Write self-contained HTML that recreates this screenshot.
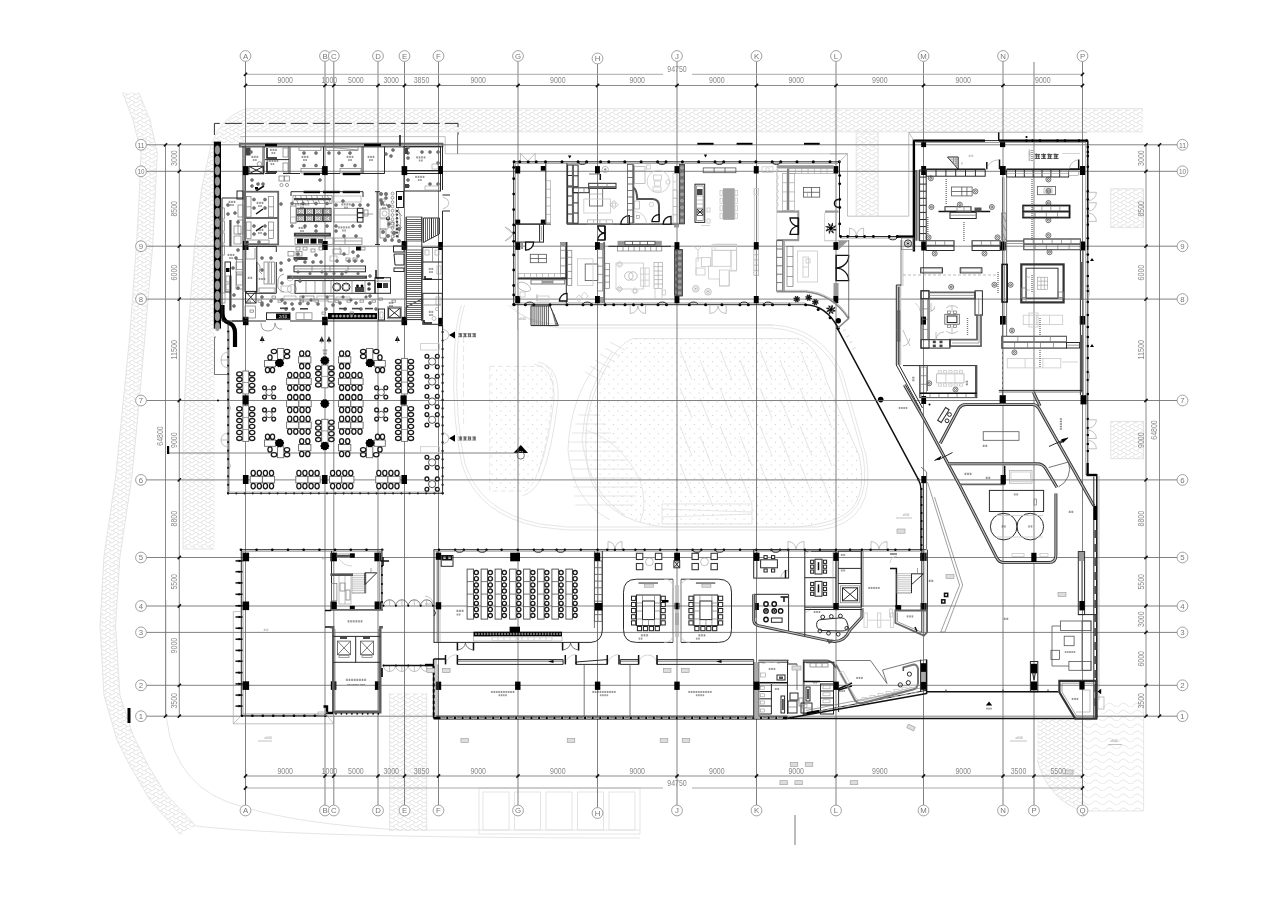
<!DOCTYPE html>
<html><head><meta charset="utf-8"><title>Floor plan</title><style>
html,body{margin:0;padding:0;background:#fff}
body{width:1280px;height:904px;overflow:hidden;font-family:"Liberation Sans",sans-serif}
svg{display:block;filter:blur(.6px)}
path,rect,circle,ellipse{fill:none;stroke-linecap:butt}
.g{stroke:#6c6c6c;stroke-width:.85}
.dl{stroke:#a0a0a0;stroke-width:.9}
.d{stroke:#6e6e6e;stroke-width:.8}
.w{stroke:#2a2a2a;stroke-width:1}
.w2{stroke:#111;stroke-width:1.5}
.w3{stroke:#000;stroke-width:2.4}
.m{stroke:#555;stroke-width:.8}
.f{stroke:#777;stroke-width:.7}
.fl{stroke:#999;stroke-width:.6}
.lt{stroke:#c9c9c9;stroke-width:.8}
.vl{stroke:#dedede;stroke-width:.8}
.k{fill:#000;stroke:none}
.kg{fill:#444;stroke:none}
.gf{fill:#999;stroke:none}
.wf{fill:#fff;stroke:#444;stroke-width:.8}
.bub{fill:#fff;stroke:#8a8a8a;stroke-width:.8}
text{font-family:"Liberation Sans",sans-serif}
.t{fill:#8a8a8a}
.tb{fill:#777}
.tk{fill:#222}
.tw{fill:#fff}
.st{stroke:#6a6a6a;stroke-width:1}
.kgc{fill:#444;stroke:none}
.gfl2{fill:#c4c4c4;stroke:none}
.wlg{stroke:#8a8a8a;stroke-width:1.6}
.wlg2{stroke:#777;stroke-width:2}
.rt{fill:#fff;stroke:#444;stroke-width:.9}
.rts{stroke:#555;stroke-width:.8}
.tbd{fill:#fff;stroke:#484848;stroke-width:.9}
.wl4{stroke:#5c5c5c;stroke-width:2.4}
.st2{stroke:#222;stroke-width:.7}
.sq{fill:#fff;stroke:#222;stroke-width:1}
.wgr{fill:#fff;stroke:#3a3a3a;stroke-width:1.1}
.ring{fill:#fff;stroke:#111;stroke-width:1.4}
.hz{fill:#ddd;stroke:#999;stroke-width:.6}

.fx2{stroke:#333;stroke-width:.7}
.kgt{fill:#555;stroke:none}
.dsh2{stroke:#777;stroke-width:1.4;stroke-dasharray:1 1}
.dshl{stroke:#aaa;stroke-width:.8;stroke-dasharray:3 2}
.dwall{stroke:#333;stroke-width:3}
.dwalli{stroke:#bbb;stroke-width:1.2}
.none{stroke:none}

.dr{stroke:#111;stroke-width:1.3;fill:#fff}
.dkc{fill:#707070;stroke:#333;stroke-width:.8}
.wl2{stroke:#555;stroke-width:2}
.wl3{stroke:#333;stroke-width:2.2}
.tgray{fill:#a4a4a4;stroke:#999;stroke-width:.6}
.gfd{fill:#777;stroke:none}
.gfl{fill:#aaa;stroke:none}

.fxo{fill:#777;stroke:#555;stroke-width:.5}
.ch{fill:#fff;stroke:#1a1a1a;stroke-width:1.3}
.tbx{fill:#fff;stroke:#6a6a6a;stroke-width:.9}
.tbl{stroke:#777;stroke-width:.7}
.ov{fill:#999;stroke:#bbb;stroke-width:.5}
.pipe{stroke:#000;stroke-width:4.2;stroke-linecap:butt}
.dash{stroke:#333;stroke-width:1;stroke-dasharray:17 5}
.wl{stroke:#666;stroke-width:1.8}

</style></head>
<body><svg width="1280" height="904" viewBox="0 0 1280 904">
<defs>
<pattern id="hb" width="8" height="8" patternUnits="userSpaceOnUse"><path d="M0 3L4 0L8 3M0 7L4 4L8 7M2 1.5V4M6 5.5V8" stroke="#e4e4e4" stroke-width="1" fill="none"/></pattern>
<pattern id="hb2" width="8" height="8" patternUnits="userSpaceOnUse"><path d="M0 4L4 0M4 8L8 4M0 4L4 8M4 0L8 4" stroke="#ececec" stroke-width="1.1" fill="none"/></pattern>
<pattern id="wv" width="14" height="7" patternUnits="userSpaceOnUse"><path d="M0 5Q3.5 1 7 5T14 5" stroke="#e6e6e6" stroke-width="1" fill="none"/></pattern>
<pattern id="dots" width="9" height="9" patternUnits="userSpaceOnUse"><rect x="1" y="1" width="1.1" height="1.1" style="fill:#d2d2d2"/><rect x="5.5" y="5.5" width="1.1" height="1.1" style="fill:#d2d2d2"/></pattern>
</defs>
<path d="M213 143Q222 118 247 109H1143V131.5H246V143Z" style="fill:url(#hb);stroke:none"/>
<path class="vl" d="M212 143Q221 117 246 108.5H1143"/>
<path class="vl" d="M246.0 131.8L1143.0 131.8"/>
<path d="M856.2 129H878.1V216H856.2Z" style="fill:url(#hb);stroke:none"/>
<path class="vl" d="M856.2 132.0L856.2 216.0"/>
<path class="vl" d="M878.1 132.0L878.1 216.0"/>
<path d="M1110.8 188.8H1143.5V227.7H1110.8Z" style="fill:url(#hb);stroke:none"/>
<path d="M1110.8 421.3H1143.5V458.8H1110.8Z" style="fill:url(#hb);stroke:none"/>
<rect class="vl" x="1110.8" y="188.8" width="32.7" height="38.9"/>
<rect class="vl" x="1110.8" y="421.3" width="32.7" height="37.5"/>
<path d="M122.5 92.5L133 120L141 152.9L139 200L136.4 245.7L129.5 338.6L120.2 431.4L115.5 477.8L104 556L100 625.8L104 695.5L117 740L129.5 765L150 800L180.6 834.8L196 826L165 793L148 765L133 735L120 695.5L115.5 625.8L120 556L131.8 477.8L136.4 431.4L144.8 338.6L152.7 245.7L155 200L157.3 152.9L150 120L138.7 92.5Z" style="fill:url(#hb);stroke:none"/>
<path class="vl" d="M122.5 92.5L133.0 120.0L141.0 152.9L139.0 200.0L136.4 245.7L129.5 338.6L120.2 431.4L115.5 477.8L104.0 556.0L100.0 625.8L104.0 695.5L117.0 740.0L129.5 765.0L150.0 800.0L180.6 834.8"/>
<path class="vl" d="M138.7 92.5L150.0 120.0L157.3 152.9L155.0 200.0L152.7 245.7L144.8 338.6L136.4 431.4L131.8 477.8L120.0 556.0L115.5 625.8L120.0 695.5L133.0 735.0L148.0 765.0L165.0 793.0L196.0 826.0"/>
<path d="M214.5 143.6L210.7 150L201.4 190L194.5 245.7L187.5 338.6L183 431.4V549H214.5Z" style="fill:url(#hb);stroke:none"/>
<path class="vl" d="M210.7 146.0L201.4 190.0L194.5 245.7L187.5 338.6L183.0 431.4L183.0 549.0L214.5 549.0"/>
<path d="M389.6 693H426.7V831H389.6Z" style="fill:url(#hb);stroke:none"/>
<path class="vl" d="M389.6 693.0L389.6 831.0"/>
<path class="vl" d="M426.7 693.0L426.7 831.0"/>
<path d="M1037.3 719H1083V811Q1048 800 1037.3 760Z" style="fill:url(#hb);stroke:none"/>
<path d="M1083 719H1101V701.6H1143.6V811H1083Z" style="fill:url(#wv);stroke:none"/>
<path class="vl" d="M1037.3 760Q1048 800 1083 811H1143.6"/>
<path class="vl" d="M1143.6 701.6L1143.6 811.0"/>
<path class="fl" d="M240.0 136.6L445.2 136.6L445.2 153.8L514.0 153.8"/>
<path class="m" d="M457.6 135.0L457.6 153.8"/>
<path class="fl" d="M830.0 153.8L847.5 153.8"/>
<path class="vl" d="M166.6 718.7Q175 790 243.3 807Q300 824 400 830H640"/>
<path class="vl" d="M166.6 600V718.7"/>
<path class="vl" d="M196 826Q300 838 640 838"/>
<rect class="vl" x="483.0" y="792.0" width="26.0" height="38.0"/>
<rect class="vl" x="514.5" y="792.0" width="26.0" height="38.0"/>
<rect class="vl" x="546.0" y="792.0" width="26.0" height="38.0"/>
<rect class="vl" x="577.5" y="792.0" width="26.0" height="38.0"/>
<rect class="vl" x="609.0" y="792.0" width="26.0" height="38.0"/>
<rect class="vl" x="479.0" y="788.0" width="161.0" height="46.0"/>
<path class="m" d="M795.0 815.0L795.0 845.0"/>
<path class="vl" d="M461.5 305Q455 325 454 360Q452 420 462 465.0Q478 515 540 527L566.7 530H820.6Q878.0 522 866 455L842 372.0Q820 328 773.8 325H559.0Q525 322 508 305"/>
<path class="vl" d="M464.5 305Q458 325 457 360Q455 420 465 464.1Q481 512 540 524L566.7 527H817.6Q874.4 519 863 455L839 373.2Q817 331 772.0 328H559.9Q528 325 511 305"/>
<path class="vl" d="M463.6 337V427.6" style="stroke-dasharray:6 3"/>
<path d="M633 338.6H798Q818 345 826 380L859 455Q870 505 837 518.5Q815 527 790 527H664Q600 520 588 470Q580 420 600 380Q615 345 633 338.6Z" style="fill:url(#dots);stroke:#dcdcdc;stroke-width:.8"/>
<path d="M489.8 366.4H546Q556 372 552 400Q548 440 540 465Q535 485 525 491H489.8Z" style="fill:url(#dots);stroke:#e0e0e0;stroke-width:.8;stroke-dasharray:5 3"/>
<path class="vl" d="M538 362Q560 366 558 400Q552 450 542 475Q536 492 522 496"/>
<path class="vl" d="M534 364Q555 368 554 400Q548 448 538 473"/>
<path class="vl" d="M578.6 415.0L600.0 415.0"/>
<path class="vl" d="M575.2 424.0L605.5 424.0"/>
<path class="vl" d="M571.8 433.0L611.0 433.0"/>
<path class="vl" d="M568.4 442.0L616.5 442.0"/>
<path class="vl" d="M569.4 451.0L622.0 451.0"/>
<path class="vl" d="M570.4 460.0L627.5 460.0"/>
<path class="vl" d="M571.4 469.0L633.0 469.0"/>
<path class="vl" d="M572.4 478.0L640.0 478.0"/>
<path class="vl" d="M573.4 487.0L638.0 487.0"/>
<path class="vl" d="M574.4 496.0L636.0 496.0"/>
<path class="vl" d="M575.4 505.0L634.0 505.0"/>
<path class="vl" d="M596 365Q570 400 568 450Q572 500 610 520"/>
<path class="vl" d="M612 352Q585 390 582 440Q590 495 625 515"/>
<path class="vl" d="M585 430Q620 440 640 480Q648 505 640 522"/>
<path class="vl" d="M585.0 372.0L600.0 380.0"/>
<path class="vl" d="M590.0 366.0L605.0 374.0"/>
<path class="vl" d="M595.0 360.0L610.0 368.0"/>
<path class="vl" d="M600.0 354.0L615.0 362.0"/>
<path class="vl" d="M605.0 348.0L620.0 356.0"/>
<path class="vl" d="M610.0 342.0L625.0 350.0"/>
<path class="vl" d="M680.0 350.0L692.0 380.0"/>
<path class="vl" d="M680.0 388.0L692.0 418.0"/>
<path class="vl" d="M680.0 426.0L692.0 456.0"/>
<path class="vl" d="M680.0 464.0L692.0 494.0"/>
<path class="vl" d="M700.0 360.0L712.0 390.0"/>
<path class="vl" d="M700.0 398.0L712.0 428.0"/>
<path class="vl" d="M700.0 436.0L712.0 466.0"/>
<path class="vl" d="M700.0 474.0L712.0 504.0"/>
<path class="vl" d="M720.0 350.0L732.0 380.0"/>
<path class="vl" d="M720.0 388.0L732.0 418.0"/>
<path class="vl" d="M720.0 426.0L732.0 456.0"/>
<path class="vl" d="M720.0 464.0L732.0 494.0"/>
<path class="vl" d="M740.0 360.0L752.0 390.0"/>
<path class="vl" d="M740.0 398.0L752.0 428.0"/>
<path class="vl" d="M740.0 436.0L752.0 466.0"/>
<path class="vl" d="M740.0 474.0L752.0 504.0"/>
<path class="vl" d="M760.0 350.0L772.0 380.0"/>
<path class="vl" d="M760.0 388.0L772.0 418.0"/>
<path class="vl" d="M760.0 426.0L772.0 456.0"/>
<path class="vl" d="M760.0 464.0L772.0 494.0"/>
<path class="vl" d="M780.0 360.0L792.0 390.0"/>
<path class="vl" d="M780.0 398.0L792.0 428.0"/>
<path class="vl" d="M780.0 436.0L792.0 466.0"/>
<path class="vl" d="M780.0 474.0L792.0 504.0"/>
<path class="vl" d="M800.0 350.0L812.0 380.0"/>
<path class="vl" d="M800.0 388.0L812.0 418.0"/>
<path class="vl" d="M800.0 426.0L812.0 456.0"/>
<path class="vl" d="M800.0 464.0L812.0 494.0"/>
<path class="vl" d="M820.0 398.0L832.0 428.0"/>
<path class="vl" d="M820.0 436.0L832.0 466.0"/>
<path class="vl" d="M820.0 474.0L832.0 504.0"/>
<rect class="vl" x="662.0" y="504.0" width="90.0" height="20.0"/>
<path class="vl" d="M662.0 509.0L752.0 512.0"/>
<path class="vl" d="M662.0 517.0L752.0 514.0"/>
<path class="vl" d="M559.0 325.0L773.0 325.0"/>
<path class="k" d="M513.5 453L520.8 445L528 453Z"/>
<circle class="m" cx="520.8" cy="455.5" r="3.6"/>
<text class="tw" x="520.8" y="451.5" font-size="2.4" text-anchor="middle">±0.0</text>
<path class="g" d="M446.0 453.0L517.0 453.0"/>
<path class="w2" d="M837 327.7L918.6 479.8Q921 484 921 490V549"/>
<circle class="k" cx="880.7" cy="399.6" r="2.8"/>
<circle class="k" cx="837.5" cy="328.0" r="1.4"/>
<circle class="k" cx="918.3" cy="479.5" r="1.2"/>
<path class="lt" d="M843.0 331.0l3 -1.5"/>
<path class="lt" d="M846.2 337.0l3 -1.5"/>
<path class="lt" d="M849.4 343.0l3 -1.5"/>
<path class="lt" d="M852.6 349.0l3 -1.5"/>
<path d="M898.58 407.50h1.93M898.58 408.47h1.93M899.55 407.02v1.93M900.88 407.50h1.93M900.88 408.47h1.93M901.85 407.02v1.93M903.18 407.50h1.93M903.18 408.47h1.93M904.15 407.02v1.93M905.48 407.50h1.93M905.48 408.47h1.93M906.45 407.02v1.93" style="stroke:#444;stroke-width:0.35;fill:none"/>
<text class="t" x="1114.0" y="742.0" font-size="3" text-anchor="middle">±0.00</text>
<path class="fl" d="M1108.0 744.5L1122.0 744.5"/>
<text class="t" x="1019.0" y="738.5" font-size="3" text-anchor="middle">±0.00</text>
<path class="fl" d="M1010.0 741.0L1027.0 741.0"/>
<text class="t" x="906.0" y="516.0" font-size="2.6" text-anchor="middle">±0.00</text>
<path class="fl" d="M896.0 518.0L912.0 518.0"/>
<rect class="hz" x="897.0" y="529.0" width="8.0" height="4.2"/>
<rect class="none" x="888.0" y="600.0" width="0.0" height="0.0"/>
<path class="g" d="M245.5 61.4L245.5 805.1"/>
<path class="g" d="M325.0 61.4L325.0 805.1"/>
<path class="g" d="M333.8 61.4L333.8 805.1"/>
<path class="g" d="M378.0 61.4L378.0 805.1"/>
<path class="g" d="M404.5 61.4L404.5 805.1"/>
<path class="g" d="M438.5 61.4L438.5 805.1"/>
<path class="g" d="M518.0 61.4L518.0 805.1"/>
<path class="g" d="M597.5 63.9L597.5 807.6"/>
<path class="g" d="M677.0 61.4L677.0 805.1"/>
<path class="g" d="M756.5 61.4L756.5 805.1"/>
<path class="g" d="M836.0 61.4L836.0 805.1"/>
<path class="g" d="M923.5 61.4L923.5 805.1"/>
<path class="g" d="M1003.0 61.4L1003.0 805.1"/>
<path class="g" d="M1082.5 61.4L1082.5 805.1"/>
<path class="g" d="M1034.0 62.0L1034.0 805.1"/>
<path class="g" d="M146.4 144.8L1177.1 144.8"/>
<path class="g" d="M146.4 171.3L1177.1 171.3"/>
<path class="g" d="M146.4 246.2L1177.1 246.2"/>
<path class="g" d="M146.4 299.1L1177.1 299.1"/>
<path class="g" d="M146.4 400.5L1177.1 400.5"/>
<path class="g" d="M146.4 479.9L1177.1 479.9"/>
<path class="g" d="M146.4 557.5L1177.1 557.5"/>
<path class="g" d="M146.4 606.0L1177.1 606.0"/>
<path class="g" d="M146.4 632.4L1177.1 632.4"/>
<path class="g" d="M146.4 685.3L1177.1 685.3"/>
<path class="g" d="M146.4 716.2L1177.1 716.2"/>
<path class="g" d="M168.0 453.0L446.0 453.0"/>
<rect class="k" x="167.0" y="446.0" width="2.2" height="8.0"/>
<rect class="k" x="127.5" y="708.0" width="3.0" height="15.0"/>
<path class="dl" d="M245.5 74.3L663.0 74.3"/>
<path class="dl" d="M692.0 74.3L1082.5 74.3"/>
<path class="d" d="M245.5 85.5L1082.5 85.5"/>
<path class="d" d="M245.5 776.0L1082.5 776.0"/>
<path class="dl" d="M245.5 788.0L663.0 788.0"/>
<path class="dl" d="M692.0 788.0L1082.5 788.0"/>
<path class="w2" d="M243.9 87.1L247.1 83.9"/>
<path class="w2" d="M323.4 87.1L326.6 83.9"/>
<path class="w2" d="M332.2 87.1L335.4 83.9"/>
<path class="w2" d="M376.4 87.1L379.6 83.9"/>
<path class="w2" d="M402.9 87.1L406.1 83.9"/>
<path class="w2" d="M436.9 87.1L440.1 83.9"/>
<path class="w2" d="M516.4 87.1L519.6 83.9"/>
<path class="w2" d="M595.9 87.1L599.1 83.9"/>
<path class="w2" d="M675.4 87.1L678.6 83.9"/>
<path class="w2" d="M754.9 87.1L758.1 83.9"/>
<path class="w2" d="M834.4 87.1L837.6 83.9"/>
<path class="w2" d="M921.9 87.1L925.1 83.9"/>
<path class="w2" d="M1001.4 87.1L1004.6 83.9"/>
<path class="w2" d="M1080.9 87.1L1084.1 83.9"/>
<path class="w2" d="M243.9 75.9L247.1 72.7"/>
<path class="w2" d="M1080.9 75.9L1084.1 72.7"/>
<path class="w2" d="M243.9 777.6L247.1 774.4"/>
<path class="w2" d="M323.4 777.6L326.6 774.4"/>
<path class="w2" d="M332.2 777.6L335.4 774.4"/>
<path class="w2" d="M376.4 777.6L379.6 774.4"/>
<path class="w2" d="M402.9 777.6L406.1 774.4"/>
<path class="w2" d="M436.9 777.6L440.1 774.4"/>
<path class="w2" d="M516.4 777.6L519.6 774.4"/>
<path class="w2" d="M595.9 777.6L599.1 774.4"/>
<path class="w2" d="M675.4 777.6L678.6 774.4"/>
<path class="w2" d="M754.9 777.6L758.1 774.4"/>
<path class="w2" d="M834.4 777.6L837.6 774.4"/>
<path class="w2" d="M921.9 777.6L925.1 774.4"/>
<path class="w2" d="M1001.4 777.6L1004.6 774.4"/>
<path class="w2" d="M1032.4 777.6L1035.6 774.4"/>
<path class="w2" d="M1080.9 777.6L1084.1 774.4"/>
<path class="w2" d="M243.9 789.6L247.1 786.4"/>
<path class="w2" d="M1080.9 789.6L1084.1 786.4"/>
<text class="t" x="285.2" y="83.2" font-size="8.6" text-anchor="middle" textLength="15.6" lengthAdjust="spacingAndGlyphs">9000</text>
<text class="t" x="329.4" y="83.2" font-size="8.6" text-anchor="middle" textLength="15.6" lengthAdjust="spacingAndGlyphs">1000</text>
<text class="t" x="355.9" y="83.2" font-size="8.6" text-anchor="middle" textLength="15.6" lengthAdjust="spacingAndGlyphs">5000</text>
<text class="t" x="391.2" y="83.2" font-size="8.6" text-anchor="middle" textLength="15.6" lengthAdjust="spacingAndGlyphs">3000</text>
<text class="t" x="421.5" y="83.2" font-size="8.6" text-anchor="middle" textLength="15.6" lengthAdjust="spacingAndGlyphs">3850</text>
<text class="t" x="478.2" y="83.2" font-size="8.6" text-anchor="middle" textLength="15.6" lengthAdjust="spacingAndGlyphs">9000</text>
<text class="t" x="557.8" y="83.2" font-size="8.6" text-anchor="middle" textLength="15.6" lengthAdjust="spacingAndGlyphs">9000</text>
<text class="t" x="637.2" y="83.2" font-size="8.6" text-anchor="middle" textLength="15.6" lengthAdjust="spacingAndGlyphs">9000</text>
<text class="t" x="716.8" y="83.2" font-size="8.6" text-anchor="middle" textLength="15.6" lengthAdjust="spacingAndGlyphs">9000</text>
<text class="t" x="796.2" y="83.2" font-size="8.6" text-anchor="middle" textLength="15.6" lengthAdjust="spacingAndGlyphs">9000</text>
<text class="t" x="879.8" y="83.2" font-size="8.6" text-anchor="middle" textLength="15.6" lengthAdjust="spacingAndGlyphs">9900</text>
<text class="t" x="963.2" y="83.2" font-size="8.6" text-anchor="middle" textLength="15.6" lengthAdjust="spacingAndGlyphs">9000</text>
<text class="t" x="1042.8" y="83.2" font-size="8.6" text-anchor="middle" textLength="15.6" lengthAdjust="spacingAndGlyphs">9000</text>
<text class="t" x="285.2" y="773.8" font-size="8.6" text-anchor="middle" textLength="15.6" lengthAdjust="spacingAndGlyphs">9000</text>
<text class="t" x="329.4" y="773.8" font-size="8.6" text-anchor="middle" textLength="15.6" lengthAdjust="spacingAndGlyphs">1000</text>
<text class="t" x="355.9" y="773.8" font-size="8.6" text-anchor="middle" textLength="15.6" lengthAdjust="spacingAndGlyphs">5000</text>
<text class="t" x="391.2" y="773.8" font-size="8.6" text-anchor="middle" textLength="15.6" lengthAdjust="spacingAndGlyphs">3000</text>
<text class="t" x="421.5" y="773.8" font-size="8.6" text-anchor="middle" textLength="15.6" lengthAdjust="spacingAndGlyphs">3850</text>
<text class="t" x="478.2" y="773.8" font-size="8.6" text-anchor="middle" textLength="15.6" lengthAdjust="spacingAndGlyphs">9000</text>
<text class="t" x="557.8" y="773.8" font-size="8.6" text-anchor="middle" textLength="15.6" lengthAdjust="spacingAndGlyphs">9000</text>
<text class="t" x="637.2" y="773.8" font-size="8.6" text-anchor="middle" textLength="15.6" lengthAdjust="spacingAndGlyphs">9000</text>
<text class="t" x="716.8" y="773.8" font-size="8.6" text-anchor="middle" textLength="15.6" lengthAdjust="spacingAndGlyphs">9000</text>
<text class="t" x="796.2" y="773.8" font-size="8.6" text-anchor="middle" textLength="15.6" lengthAdjust="spacingAndGlyphs">9000</text>
<text class="t" x="879.8" y="773.8" font-size="8.6" text-anchor="middle" textLength="15.6" lengthAdjust="spacingAndGlyphs">9900</text>
<text class="t" x="963.2" y="773.8" font-size="8.6" text-anchor="middle" textLength="15.6" lengthAdjust="spacingAndGlyphs">9000</text>
<text class="t" x="1018.5" y="773.8" font-size="8.6" text-anchor="middle" textLength="15.6" lengthAdjust="spacingAndGlyphs">3500</text>
<text class="t" x="1058.2" y="773.8" font-size="8.6" text-anchor="middle" textLength="15.6" lengthAdjust="spacingAndGlyphs">5500</text>
<text class="t" x="677.0" y="72.0" font-size="8.6" text-anchor="middle" textLength="19.5" lengthAdjust="spacingAndGlyphs">94750</text>
<text class="t" x="677.0" y="785.8" font-size="8.6" text-anchor="middle" textLength="19.5" lengthAdjust="spacingAndGlyphs">94750</text>
<path class="d" d="M179.3 144.8L179.3 716.2"/>
<path class="d" d="M165.5 144.8L165.5 716.2"/>
<path class="d" d="M1146.0 144.8L1146.0 716.2"/>
<path class="d" d="M1159.5 144.8L1159.5 716.2"/>
<path class="w2" d="M177.7 146.4L180.9 143.2"/>
<path class="w2" d="M177.7 172.9L180.9 169.7"/>
<path class="w2" d="M177.7 247.8L180.9 244.6"/>
<path class="w2" d="M177.7 300.7L180.9 297.5"/>
<path class="w2" d="M177.7 402.1L180.9 398.9"/>
<path class="w2" d="M177.7 481.5L180.9 478.3"/>
<path class="w2" d="M177.7 559.1L180.9 555.9"/>
<path class="w2" d="M177.7 607.6L180.9 604.4"/>
<path class="w2" d="M177.7 686.9L180.9 683.7"/>
<path class="w2" d="M177.7 717.8L180.9 714.6"/>
<path class="w2" d="M1144.4 146.4L1147.6 143.2"/>
<path class="w2" d="M1144.4 172.9L1147.6 169.7"/>
<path class="w2" d="M1144.4 247.8L1147.6 244.6"/>
<path class="w2" d="M1144.4 300.7L1147.6 297.5"/>
<path class="w2" d="M1144.4 402.1L1147.6 398.9"/>
<path class="w2" d="M1144.4 481.5L1147.6 478.3"/>
<path class="w2" d="M1144.4 559.1L1147.6 555.9"/>
<path class="w2" d="M1144.4 607.6L1147.6 604.4"/>
<path class="w2" d="M1144.4 634.0L1147.6 630.8"/>
<path class="w2" d="M1144.4 686.9L1147.6 683.7"/>
<path class="w2" d="M1144.4 717.8L1147.6 714.6"/>
<path class="w2" d="M163.9 146.4L167.1 143.2"/>
<path class="w2" d="M163.9 717.8L167.1 714.6"/>
<path class="w2" d="M1157.9 146.4L1161.1 143.2"/>
<path class="w2" d="M1157.9 717.8L1161.1 714.6"/>
<text class="t" x="177.0" y="158.1" font-size="8.6" text-anchor="middle" transform="rotate(-90 177.0 158.1)" textLength="15.6" lengthAdjust="spacingAndGlyphs">3000</text>
<text class="t" x="177.0" y="208.8" font-size="8.6" text-anchor="middle" transform="rotate(-90 177.0 208.8)" textLength="15.6" lengthAdjust="spacingAndGlyphs">8500</text>
<text class="t" x="177.0" y="272.6" font-size="8.6" text-anchor="middle" transform="rotate(-90 177.0 272.6)" textLength="15.6" lengthAdjust="spacingAndGlyphs">6000</text>
<text class="t" x="177.0" y="349.8" font-size="8.6" text-anchor="middle" transform="rotate(-90 177.0 349.8)" textLength="19.5" lengthAdjust="spacingAndGlyphs">11500</text>
<text class="t" x="177.0" y="440.2" font-size="8.6" text-anchor="middle" transform="rotate(-90 177.0 440.2)" textLength="15.6" lengthAdjust="spacingAndGlyphs">9000</text>
<text class="t" x="177.0" y="518.7" font-size="8.6" text-anchor="middle" transform="rotate(-90 177.0 518.7)" textLength="15.6" lengthAdjust="spacingAndGlyphs">8800</text>
<text class="t" x="177.0" y="581.8" font-size="8.6" text-anchor="middle" transform="rotate(-90 177.0 581.8)" textLength="15.6" lengthAdjust="spacingAndGlyphs">5500</text>
<text class="t" x="177.0" y="645.6" font-size="8.6" text-anchor="middle" transform="rotate(-90 177.0 645.6)" textLength="15.6" lengthAdjust="spacingAndGlyphs">9000</text>
<text class="t" x="177.0" y="700.8" font-size="8.6" text-anchor="middle" transform="rotate(-90 177.0 700.8)" textLength="15.6" lengthAdjust="spacingAndGlyphs">3500</text>
<text class="t" x="1143.6" y="158.1" font-size="8.6" text-anchor="middle" transform="rotate(-90 1143.6 158.1)" textLength="15.6" lengthAdjust="spacingAndGlyphs">3000</text>
<text class="t" x="1143.6" y="208.8" font-size="8.6" text-anchor="middle" transform="rotate(-90 1143.6 208.8)" textLength="15.6" lengthAdjust="spacingAndGlyphs">8500</text>
<text class="t" x="1143.6" y="272.6" font-size="8.6" text-anchor="middle" transform="rotate(-90 1143.6 272.6)" textLength="15.6" lengthAdjust="spacingAndGlyphs">6000</text>
<text class="t" x="1143.6" y="349.8" font-size="8.6" text-anchor="middle" transform="rotate(-90 1143.6 349.8)" textLength="19.5" lengthAdjust="spacingAndGlyphs">11500</text>
<text class="t" x="1143.6" y="440.2" font-size="8.6" text-anchor="middle" transform="rotate(-90 1143.6 440.2)" textLength="15.6" lengthAdjust="spacingAndGlyphs">9000</text>
<text class="t" x="1143.6" y="518.7" font-size="8.6" text-anchor="middle" transform="rotate(-90 1143.6 518.7)" textLength="15.6" lengthAdjust="spacingAndGlyphs">8800</text>
<text class="t" x="1143.6" y="581.8" font-size="8.6" text-anchor="middle" transform="rotate(-90 1143.6 581.8)" textLength="15.6" lengthAdjust="spacingAndGlyphs">5500</text>
<text class="t" x="1143.6" y="619.2" font-size="8.6" text-anchor="middle" transform="rotate(-90 1143.6 619.2)" textLength="15.6" lengthAdjust="spacingAndGlyphs">3000</text>
<text class="t" x="1143.6" y="658.8" font-size="8.6" text-anchor="middle" transform="rotate(-90 1143.6 658.8)" textLength="15.6" lengthAdjust="spacingAndGlyphs">6000</text>
<text class="t" x="1143.6" y="700.8" font-size="8.6" text-anchor="middle" transform="rotate(-90 1143.6 700.8)" textLength="15.6" lengthAdjust="spacingAndGlyphs">3500</text>
<text class="t" x="163.0" y="436.0" font-size="8.6" text-anchor="middle" transform="rotate(-90 163.0 436.0)" textLength="19.5" lengthAdjust="spacingAndGlyphs">64800</text>
<text class="t" x="1157.0" y="430.0" font-size="8.6" text-anchor="middle" transform="rotate(-90 1157.0 430.0)" textLength="19.5" lengthAdjust="spacingAndGlyphs">64800</text>
<circle class="bub" cx="245.5" cy="56.0" r="5.4"/>
<text class="tb" x="245.5" y="58.8" font-size="7.8" text-anchor="middle">A</text>
<circle class="bub" cx="325.0" cy="56.0" r="5.4"/>
<text class="tb" x="325.0" y="58.8" font-size="7.8" text-anchor="middle">B</text>
<circle class="bub" cx="333.8" cy="56.0" r="5.4"/>
<text class="tb" x="333.8" y="58.8" font-size="7.8" text-anchor="middle">C</text>
<circle class="bub" cx="378.0" cy="56.0" r="5.4"/>
<text class="tb" x="378.0" y="58.8" font-size="7.8" text-anchor="middle">D</text>
<circle class="bub" cx="404.5" cy="56.0" r="5.4"/>
<text class="tb" x="404.5" y="58.8" font-size="7.8" text-anchor="middle">E</text>
<circle class="bub" cx="438.5" cy="56.0" r="5.4"/>
<text class="tb" x="438.5" y="58.8" font-size="7.8" text-anchor="middle">F</text>
<circle class="bub" cx="518.0" cy="56.0" r="5.4"/>
<text class="tb" x="518.0" y="58.8" font-size="7.8" text-anchor="middle">G</text>
<circle class="bub" cx="597.5" cy="58.5" r="5.4"/>
<text class="tb" x="597.5" y="61.3" font-size="7.8" text-anchor="middle">H</text>
<circle class="bub" cx="677.0" cy="56.0" r="5.4"/>
<text class="tb" x="677.0" y="58.8" font-size="7.8" text-anchor="middle">J</text>
<circle class="bub" cx="756.5" cy="56.0" r="5.4"/>
<text class="tb" x="756.5" y="58.8" font-size="7.8" text-anchor="middle">K</text>
<circle class="bub" cx="836.0" cy="56.0" r="5.4"/>
<text class="tb" x="836.0" y="58.8" font-size="7.8" text-anchor="middle">L</text>
<circle class="bub" cx="923.5" cy="56.0" r="5.4"/>
<text class="tb" x="923.5" y="58.8" font-size="7.8" text-anchor="middle">M</text>
<circle class="bub" cx="1003.0" cy="56.0" r="5.4"/>
<text class="tb" x="1003.0" y="58.8" font-size="7.8" text-anchor="middle">N</text>
<circle class="bub" cx="1082.5" cy="56.0" r="5.4"/>
<text class="tb" x="1082.5" y="58.8" font-size="7.8" text-anchor="middle">P</text>
<circle class="bub" cx="245.5" cy="810.5" r="5.4"/>
<text class="tb" x="245.5" y="813.3" font-size="7.8" text-anchor="middle">A</text>
<circle class="bub" cx="325.0" cy="810.5" r="5.4"/>
<text class="tb" x="325.0" y="813.3" font-size="7.8" text-anchor="middle">B</text>
<circle class="bub" cx="333.8" cy="810.5" r="5.4"/>
<text class="tb" x="333.8" y="813.3" font-size="7.8" text-anchor="middle">C</text>
<circle class="bub" cx="378.0" cy="810.5" r="5.4"/>
<text class="tb" x="378.0" y="813.3" font-size="7.8" text-anchor="middle">D</text>
<circle class="bub" cx="404.5" cy="810.5" r="5.4"/>
<text class="tb" x="404.5" y="813.3" font-size="7.8" text-anchor="middle">E</text>
<circle class="bub" cx="438.5" cy="810.5" r="5.4"/>
<text class="tb" x="438.5" y="813.3" font-size="7.8" text-anchor="middle">F</text>
<circle class="bub" cx="518.0" cy="810.5" r="5.4"/>
<text class="tb" x="518.0" y="813.3" font-size="7.8" text-anchor="middle">G</text>
<circle class="bub" cx="597.5" cy="813.0" r="5.4"/>
<text class="tb" x="597.5" y="815.8" font-size="7.8" text-anchor="middle">H</text>
<circle class="bub" cx="677.0" cy="810.5" r="5.4"/>
<text class="tb" x="677.0" y="813.3" font-size="7.8" text-anchor="middle">J</text>
<circle class="bub" cx="756.5" cy="810.5" r="5.4"/>
<text class="tb" x="756.5" y="813.3" font-size="7.8" text-anchor="middle">K</text>
<circle class="bub" cx="836.0" cy="810.5" r="5.4"/>
<text class="tb" x="836.0" y="813.3" font-size="7.8" text-anchor="middle">L</text>
<circle class="bub" cx="923.5" cy="810.5" r="5.4"/>
<text class="tb" x="923.5" y="813.3" font-size="7.8" text-anchor="middle">M</text>
<circle class="bub" cx="1003.0" cy="810.5" r="5.4"/>
<text class="tb" x="1003.0" y="813.3" font-size="7.8" text-anchor="middle">N</text>
<circle class="bub" cx="1034.0" cy="810.5" r="5.4"/>
<text class="tb" x="1034.0" y="813.3" font-size="7.8" text-anchor="middle">P</text>
<circle class="bub" cx="1082.5" cy="810.5" r="5.4"/>
<text class="tb" x="1082.5" y="813.3" font-size="7.8" text-anchor="middle">Q</text>
<circle class="bub" cx="141.0" cy="144.8" r="5.4"/>
<text class="tb" x="141.0" y="147.6" font-size="7.8" text-anchor="middle" textLength="7" lengthAdjust="spacingAndGlyphs">11</text>
<circle class="bub" cx="1182.5" cy="144.8" r="5.4"/>
<text class="tb" x="1182.5" y="147.6" font-size="7.8" text-anchor="middle" textLength="7" lengthAdjust="spacingAndGlyphs">11</text>
<circle class="bub" cx="141.0" cy="171.3" r="5.4"/>
<text class="tb" x="141.0" y="174.1" font-size="7.8" text-anchor="middle" textLength="7" lengthAdjust="spacingAndGlyphs">10</text>
<circle class="bub" cx="1182.5" cy="171.3" r="5.4"/>
<text class="tb" x="1182.5" y="174.1" font-size="7.8" text-anchor="middle" textLength="7" lengthAdjust="spacingAndGlyphs">10</text>
<circle class="bub" cx="141.0" cy="246.2" r="5.4"/>
<text class="tb" x="141.0" y="249.0" font-size="7.8" text-anchor="middle">9</text>
<circle class="bub" cx="1182.5" cy="246.2" r="5.4"/>
<text class="tb" x="1182.5" y="249.0" font-size="7.8" text-anchor="middle">9</text>
<circle class="bub" cx="141.0" cy="299.1" r="5.4"/>
<text class="tb" x="141.0" y="301.9" font-size="7.8" text-anchor="middle">8</text>
<circle class="bub" cx="1182.5" cy="299.1" r="5.4"/>
<text class="tb" x="1182.5" y="301.9" font-size="7.8" text-anchor="middle">8</text>
<circle class="bub" cx="141.0" cy="400.5" r="5.4"/>
<text class="tb" x="141.0" y="403.3" font-size="7.8" text-anchor="middle">7</text>
<circle class="bub" cx="1182.5" cy="400.5" r="5.4"/>
<text class="tb" x="1182.5" y="403.3" font-size="7.8" text-anchor="middle">7</text>
<circle class="bub" cx="141.0" cy="479.9" r="5.4"/>
<text class="tb" x="141.0" y="482.7" font-size="7.8" text-anchor="middle">6</text>
<circle class="bub" cx="1182.5" cy="479.9" r="5.4"/>
<text class="tb" x="1182.5" y="482.7" font-size="7.8" text-anchor="middle">6</text>
<circle class="bub" cx="141.0" cy="557.5" r="5.4"/>
<text class="tb" x="141.0" y="560.3" font-size="7.8" text-anchor="middle">5</text>
<circle class="bub" cx="1182.5" cy="557.5" r="5.4"/>
<text class="tb" x="1182.5" y="560.3" font-size="7.8" text-anchor="middle">5</text>
<circle class="bub" cx="141.0" cy="606.0" r="5.4"/>
<text class="tb" x="141.0" y="608.8" font-size="7.8" text-anchor="middle">4</text>
<circle class="bub" cx="1182.5" cy="606.0" r="5.4"/>
<text class="tb" x="1182.5" y="608.8" font-size="7.8" text-anchor="middle">4</text>
<circle class="bub" cx="141.0" cy="632.4" r="5.4"/>
<text class="tb" x="141.0" y="635.2" font-size="7.8" text-anchor="middle">3</text>
<circle class="bub" cx="1182.5" cy="632.4" r="5.4"/>
<text class="tb" x="1182.5" y="635.2" font-size="7.8" text-anchor="middle">3</text>
<circle class="bub" cx="141.0" cy="685.3" r="5.4"/>
<text class="tb" x="141.0" y="688.1" font-size="7.8" text-anchor="middle">2</text>
<circle class="bub" cx="1182.5" cy="685.3" r="5.4"/>
<text class="tb" x="1182.5" y="688.1" font-size="7.8" text-anchor="middle">2</text>
<circle class="bub" cx="141.0" cy="716.2" r="5.4"/>
<text class="tb" x="141.0" y="719.0" font-size="7.8" text-anchor="middle">1</text>
<circle class="bub" cx="1182.5" cy="716.2" r="5.4"/>
<text class="tb" x="1182.5" y="719.0" font-size="7.8" text-anchor="middle">1</text>
<rect class="k" x="213.8" y="141.6" width="7.2" height="187.0"/>
<ellipse class="ov" cx="217.4" cy="150.0" rx="2.2" ry="4.3"/>
<ellipse class="ov" cx="217.4" cy="160.4" rx="2.2" ry="4.3"/>
<ellipse class="ov" cx="217.4" cy="170.8" rx="2.2" ry="4.3"/>
<ellipse class="ov" cx="217.4" cy="181.2" rx="2.2" ry="4.3"/>
<ellipse class="ov" cx="217.4" cy="191.6" rx="2.2" ry="4.3"/>
<ellipse class="ov" cx="217.4" cy="202.0" rx="2.2" ry="4.3"/>
<ellipse class="ov" cx="217.4" cy="212.4" rx="2.2" ry="4.3"/>
<ellipse class="ov" cx="217.4" cy="222.8" rx="2.2" ry="4.3"/>
<ellipse class="ov" cx="217.4" cy="233.2" rx="2.2" ry="4.3"/>
<ellipse class="ov" cx="217.4" cy="243.6" rx="2.2" ry="4.3"/>
<ellipse class="ov" cx="217.4" cy="254.0" rx="2.2" ry="4.3"/>
<ellipse class="ov" cx="217.4" cy="264.4" rx="2.2" ry="4.3"/>
<ellipse class="ov" cx="217.4" cy="274.8" rx="2.2" ry="4.3"/>
<ellipse class="ov" cx="217.4" cy="285.2" rx="2.2" ry="4.3"/>
<ellipse class="ov" cx="217.4" cy="295.6" rx="2.2" ry="4.3"/>
<ellipse class="ov" cx="217.4" cy="306.0" rx="2.2" ry="4.3"/>
<ellipse class="ov" cx="217.4" cy="316.4" rx="2.2" ry="4.3"/>
<ellipse class="ov" cx="217.4" cy="326.8" rx="2.2" ry="4.3"/>
<path class="pipe" d="M222.5 305V313Q222.5 321 229 323Q235 325 235 333V347"/>
<path class="dash" d="M214.4 135V123.4H458V135"/>
<rect class="wl" x="239.8" y="143.6" width="202.7" height="3.0"/>
<path class="w2" d="M400.0 135.0L400.0 146.0"/>
<path class="w" d="M243.0 146.0L243.0 321.0"/>
<path class="w" d="M245.0 146.0L245.0 200.0"/>
<path class="w" d="M442.5 146.0L442.5 190.0"/>
<path class="w" d="M440.5 146.0L440.5 190.0"/>
<path class="w" d="M243.0 198.0L222.0 198.0L222.0 321.0"/>
<path class="w" d="M222.0 321.0L245.0 321.0"/>
<rect class="f" x="219.8" y="208.0" width="4.8" height="11.0"/>
<rect class="f" x="219.8" y="221.0" width="4.8" height="10.0"/>
<rect class="f" x="219.8" y="233.0" width="4.8" height="10.0"/>
<rect class="f" x="219.8" y="245.0" width="4.8" height="10.0"/>
<rect class="kg" x="229.3" y="220.0" width="2.2" height="26.5"/>
<rect class="kg" x="229.3" y="275.5" width="2.2" height="35.0"/>
<rect class="w" x="225.0" y="262.0" width="5.5" height="30.0"/>
<rect class="k" x="226.0" y="268.0" width="3.5" height="4.0"/>
<rect class="f" x="226.0" y="276.0" width="3.5" height="6.0"/>
<rect class="f" x="226.0" y="284.0" width="3.5" height="6.0"/>
<rect class="f" x="234.0" y="226.0" width="7.0" height="8.0"/>
<rect class="f" x="234.0" y="236.0" width="7.0" height="8.0"/>
<rect class="f" x="236.0" y="262.0" width="7.0" height="12.0"/>
<rect class="f" x="236.0" y="275.0" width="7.0" height="14.0"/>
<rect class="f" x="221.0" y="293.0" width="4.0" height="10.0"/>
<circle class="fxo" cx="228.0" cy="205.0" r="1.5"/>
<circle class="fxo" cx="235.0" cy="213.0" r="1.5"/>
<circle class="fxo" cx="228.0" cy="214.0" r="1.5"/>
<circle class="fxo" cx="238.0" cy="222.0" r="1.5"/>
<circle class="fxo" cx="238.0" cy="250.0" r="1.5"/>
<circle class="fxo" cx="236.0" cy="258.0" r="1.5"/>
<circle class="fxo" cx="233.0" cy="268.0" r="1.5"/>
<circle class="fxo" cx="234.0" cy="295.0" r="1.5"/>
<circle class="fxo" cx="234.0" cy="306.0" r="1.5"/>
<circle class="fxo" cx="238.0" cy="288.0" r="1.5"/>
<path class="w" d="M264.0 146.5L264.0 173.5"/>
<path class="w" d="M289.0 146.5L289.0 173.5"/>
<path class="w" d="M323.5 146.5L323.5 173.5"/>
<path class="w" d="M363.0 146.5L363.0 173.5"/>
<path class="w" d="M384.5 146.5L384.5 173.5"/>
<path class="f" d="M262.5 146.5L262.5 173.5"/>
<path class="f" d="M290.5 146.5L290.5 173.5"/>
<path class="f" d="M361.5 146.5L361.5 173.5"/>
<path class="w" d="M245.0 173.5L263.0 173.5"/>
<path class="w" d="M265.0 173.5L276.0 173.5"/>
<path class="w" d="M283.0 173.5L300.0 173.5"/>
<path class="w" d="M306.0 173.5L340.0 173.5"/>
<path class="w" d="M343.0 173.5L384.5 173.5"/>
<rect class="kg" x="245.5" y="147.5" width="5.0" height="8.0"/>
<rect class="w" x="249.0" y="166.4" width="14.5" height="7.4"/>
<path class="w" d="M249.0 166.4L263.5 173.8"/>
<path class="w" d="M263.5 166.4L249.0 173.8"/>
<circle class="f" cx="259.5" cy="164.0" r="2.3"/>
<path class="w" d="M265.0 159.6L289.0 159.6"/>
<path class="w2" d="M267 148V158H277"/>
<path class="w2" d="M267 162V172H277"/>
<rect class="f" x="283.0" y="148.0" width="5.0" height="9.0"/>
<rect class="f" x="283.0" y="163.0" width="5.0" height="9.0"/>
<rect class="f" x="299.0" y="146.8" width="22.0" height="3.5"/>
<rect class="f" x="326.0" y="146.8" width="32.0" height="3.5"/>
<path class="f" d="M326.0 147.0L358.0 150.0"/>
<rect class="f" x="301.0" y="168.5" width="21.0" height="4.5"/>
<rect class="f" x="340.0" y="168.5" width="21.0" height="4.5"/>
<circle class="fxo" cx="304.0" cy="153.0" r="1.5"/>
<circle class="fxo" cx="316.0" cy="153.0" r="1.5"/>
<circle class="fxo" cx="304.0" cy="165.5" r="1.5"/>
<circle class="fxo" cx="316.0" cy="165.5" r="1.5"/>
<circle class="fxo" cx="329.0" cy="153.0" r="1.5"/>
<circle class="fxo" cx="339.0" cy="153.0" r="1.5"/>
<circle class="fxo" cx="350.0" cy="153.0" r="1.5"/>
<circle class="fxo" cx="342.0" cy="165.5" r="1.5"/>
<circle class="fxo" cx="355.0" cy="165.5" r="1.5"/>
<circle class="fxo" cx="251.0" cy="152.0" r="1.5"/>
<circle class="fxo" cx="393.0" cy="150.0" r="1.5"/>
<circle class="fxo" cx="391.0" cy="156.0" r="1.5"/>
<circle class="fxo" cx="386.0" cy="154.0" r="1.5"/>
<rect class="k" x="265.0" y="143.8" width="12.0" height="2.4"/>
<rect class="k" x="364.0" y="143.8" width="17.0" height="2.4"/>
<rect class="k" x="303.6" y="172.8" width="16.4" height="2.4"/>
<rect class="k" x="342.7" y="172.8" width="17.6" height="2.4"/>
<rect class="k" x="303.6" y="190.8" width="16.4" height="2.4"/>
<rect class="k" x="323.0" y="190.8" width="16.8" height="2.4"/>
<rect class="k" x="342.7" y="190.8" width="17.3" height="2.4"/>
<rect class="f" x="279.0" y="176.0" width="5.0" height="5.0"/>
<rect class="f" x="284.5" y="176.0" width="5.0" height="5.0"/>
<circle class="f" cx="281.5" cy="185.0" r="1.6"/>
<circle class="f" cx="287.0" cy="185.0" r="1.6"/>
<circle class="fxo" cx="252.0" cy="180.0" r="1.5"/>
<circle class="fxo" cx="252.0" cy="186.0" r="1.5"/>
<circle class="fxo" cx="258.0" cy="184.0" r="1.5"/>
<circle class="fxo" cx="263.0" cy="184.0" r="1.5"/>
<circle class="fxo" cx="320.0" cy="180.0" r="1.5"/>
<rect class="k" x="255.0" y="187.0" width="3.0" height="2.5"/>
<path class="w2" d="M256.0 191.0L264.0 186.0"/>
<rect class="w" x="404.0" y="146.5" width="36.5" height="24.0"/>
<rect class="w" x="404.0" y="173.5" width="36.5" height="17.5"/>
<circle class="fxo" cx="408.0" cy="147.5" r="1.5"/>
<circle class="fxo" cx="408.0" cy="153.0" r="1.5"/>
<circle class="fxo" cx="408.0" cy="158.0" r="1.5"/>
<circle class="fxo" cx="422.0" cy="152.0" r="1.5"/>
<circle class="fxo" cx="430.0" cy="152.0" r="1.5"/>
<circle class="fxo" cx="438.0" cy="152.0" r="1.5"/>
<circle class="fxo" cx="438.0" cy="163.0" r="1.5"/>
<circle class="fxo" cx="408.0" cy="180.0" r="1.5"/>
<circle class="fxo" cx="408.0" cy="186.0" r="1.5"/>
<circle class="fxo" cx="430.0" cy="184.0" r="1.5"/>
<circle class="fxo" cx="438.0" cy="184.0" r="1.5"/>
<rect class="kg" x="405.0" y="148.0" width="3.0" height="6.0"/>
<rect class="kg" x="405.0" y="184.0" width="4.0" height="4.0"/>
<rect class="fl" x="432.0" y="164.0" width="6.0" height="5.0"/>
<rect class="fl" x="425.0" y="186.0" width="14.0" height="4.0"/>
<path class="w" d="M442.5 195.0L450.0 195.0"/>
<path class="w" d="M442.5 211.0L450.0 211.0"/>
<path class="w" d="M442.5 211.0L442.5 244.0"/>
<path class="fl" d="M443 197Q449 199 449 203M443 209Q449 207 449 203"/>
<rect class="k" x="242.9" y="166.1" width="5.6" height="9.0"/>
<rect class="k" x="322.1" y="166.1" width="5.6" height="9.0"/>
<rect class="k" x="401.6" y="166.1" width="5.6" height="9.0"/>
<rect class="k" x="438.3" y="166.0" width="4.6" height="8.0"/>
<rect class="k" x="242.9" y="241.0" width="5.6" height="9.0"/>
<rect class="k" x="322.1" y="241.0" width="5.6" height="9.0"/>
<rect class="k" x="401.6" y="241.0" width="5.6" height="9.0"/>
<rect class="k" x="438.3" y="242.0" width="4.6" height="8.0"/>
<rect class="k" x="242.9" y="316.8" width="5.6" height="8.4"/>
<rect class="k" x="322.1" y="316.8" width="5.6" height="8.4"/>
<rect class="k" x="401.5" y="316.8" width="5.6" height="8.4"/>
<rect class="k" x="438.3" y="317.8" width="4.6" height="8.4"/>
<rect class="wl" x="245.0" y="191.7" width="33.2" height="52.8"/>
<path class="wl" d="M245.0 218.0L278.0 218.0"/>
<rect class="f" x="246.6" y="196.6" width="4.4" height="20.4"/>
<rect class="f" x="268.6" y="196.6" width="4.8" height="20.4"/>
<path class="f" d="M246.6 206.8L251.0 206.8"/>
<path class="f" d="M268.6 206.8L273.4 206.8"/>
<rect class="f" x="246.6" y="222.0" width="4.4" height="16.6"/>
<rect class="f" x="268.6" y="222.0" width="4.8" height="16.6"/>
<path class="f" d="M246.6 230.3L251.0 230.3"/>
<path class="f" d="M268.6 230.3L273.4 230.3"/>
<rect class="f" x="247.0" y="240.0" width="22.0" height="3.5"/>
<path class="w2" d="M256.0 214.0L263.0 209.0"/>
<path class="w2" d="M256.0 231.0L263.0 226.0"/>
<circle class="fxo" cx="254.0" cy="199.5" r="1.5"/>
<circle class="fxo" cx="265.0" cy="199.5" r="1.5"/>
<circle class="fxo" cx="254.0" cy="208.0" r="1.5"/>
<circle class="fxo" cx="265.0" cy="208.0" r="1.5"/>
<circle class="fxo" cx="254.0" cy="226.0" r="1.5"/>
<circle class="fxo" cx="265.0" cy="226.0" r="1.5"/>
<circle class="fxo" cx="254.0" cy="234.0" r="1.5"/>
<circle class="fxo" cx="265.0" cy="234.0" r="1.5"/>
<circle class="fxo" cx="259.0" cy="242.0" r="1.5"/>
<circle class="fxo" cx="281.0" cy="204.0" r="1.5"/>
<rect class="w" x="237.0" y="191.0" width="6.0" height="8.0"/>
<rect class="f" x="238.0" y="205.0" width="5.0" height="12.0"/>
<rect class="f" x="238.0" y="220.0" width="5.0" height="14.0"/>
<path class="w" d="M291.0 191.7L291.0 196.0"/>
<path class="w" d="M291.0 191.7L363.0 191.7"/>
<path class="w" d="M363.0 191.7L363.0 197.0"/>
<rect class="f" x="293.0" y="195.4" width="39.0" height="8.0"/>
<path class="f" d="M295.0 195.4L298.0 203.4"/>
<path class="f" d="M300.4 195.4L303.4 203.4"/>
<path class="f" d="M305.8 195.4L308.8 203.4"/>
<path class="f" d="M311.2 195.4L314.2 203.4"/>
<path class="f" d="M316.6 195.4L319.6 203.4"/>
<path class="f" d="M322.0 195.4L325.0 203.4"/>
<path class="f" d="M327.4 195.4L330.4 203.4"/>
<rect class="kg" x="294.0" y="198.0" width="37.0" height="2.2"/>
<rect class="fl" x="333.0" y="196.0" width="28.0" height="6.0"/>
<rect class="w" x="296.8" y="208.3" width="7.8" height="6.4"/>
<rect class="f" x="298.4" y="209.6" width="4.6" height="3.8"/>
<circle class="f" cx="300.7" cy="211.5" r="1.0"/>
<rect class="w" x="296.8" y="215.2" width="7.8" height="6.4"/>
<rect class="f" x="298.4" y="216.5" width="4.6" height="3.8"/>
<circle class="f" cx="300.7" cy="218.4" r="1.0"/>
<rect class="w" x="305.6" y="208.3" width="7.8" height="6.4"/>
<rect class="f" x="307.2" y="209.6" width="4.6" height="3.8"/>
<circle class="f" cx="309.5" cy="211.5" r="1.0"/>
<rect class="w" x="305.6" y="215.2" width="7.8" height="6.4"/>
<rect class="f" x="307.2" y="216.5" width="4.6" height="3.8"/>
<circle class="f" cx="309.5" cy="218.4" r="1.0"/>
<rect class="w" x="314.4" y="208.3" width="7.8" height="6.4"/>
<rect class="f" x="316.0" y="209.6" width="4.6" height="3.8"/>
<circle class="f" cx="318.3" cy="211.5" r="1.0"/>
<rect class="w" x="314.4" y="215.2" width="7.8" height="6.4"/>
<rect class="f" x="316.0" y="216.5" width="4.6" height="3.8"/>
<circle class="f" cx="318.3" cy="218.4" r="1.0"/>
<rect class="w" x="323.2" y="208.3" width="7.8" height="6.4"/>
<rect class="f" x="324.8" y="209.6" width="4.6" height="3.8"/>
<circle class="f" cx="327.1" cy="211.5" r="1.0"/>
<rect class="w" x="323.2" y="215.2" width="7.8" height="6.4"/>
<rect class="f" x="324.8" y="216.5" width="4.6" height="3.8"/>
<circle class="f" cx="327.1" cy="218.4" r="1.0"/>
<rect class="f" x="290.5" y="206.0" width="5.5" height="17.0"/>
<rect class="fl" x="290.5" y="217.0" width="5.5" height="6.0"/>
<rect class="f" x="334.0" y="208.3" width="23.0" height="13.7"/>
<path class="f" d="M334.0 215.0L357.0 215.0"/>
<rect class="w" x="357.5" y="208.3" width="5.5" height="4.4"/>
<rect class="w" x="357.5" y="213.0" width="5.5" height="4.4"/>
<rect class="w" x="357.5" y="217.7" width="5.5" height="4.4"/>
<rect class="f" x="364.0" y="210.0" width="4.0" height="6.0"/>
<path class="f" d="M363.0 214.0L373.0 214.0"/>
<rect class="kg" x="293.9" y="232.7" width="37.0" height="3.9"/>
<path class="ov" d="M296.0 234.6L329.0 234.6"/>
<rect class="f" x="295.0" y="238.0" width="38.0" height="6.5"/>
<rect class="k" x="297.0" y="238.6" width="6.0" height="5.0"/>
<rect class="k" x="310.5" y="238.6" width="6.0" height="5.0"/>
<rect class="kg" x="304.0" y="239.0" width="5.0" height="4.5"/>
<rect class="kg" x="318.0" y="239.0" width="5.0" height="4.5"/>
<rect class="f" x="334.0" y="238.0" width="28.0" height="6.5"/>
<path class="f" d="M334.0 241.0L362.0 241.0"/>
<path class="f" d="M345.0 238.0L345.0 244.5"/>
<circle class="fxo" cx="292.0" cy="203.5" r="1.5"/>
<circle class="fxo" cx="303.0" cy="203.5" r="1.5"/>
<circle class="fxo" cx="316.0" cy="203.5" r="1.5"/>
<circle class="fxo" cx="327.0" cy="203.5" r="1.5"/>
<circle class="fxo" cx="343.0" cy="201.0" r="1.5"/>
<circle class="fxo" cx="292.0" cy="226.0" r="1.5"/>
<circle class="fxo" cx="305.0" cy="226.0" r="1.5"/>
<circle class="fxo" cx="316.0" cy="226.0" r="1.5"/>
<circle class="fxo" cx="327.0" cy="226.0" r="1.5"/>
<circle class="fxo" cx="336.0" cy="226.0" r="1.5"/>
<circle class="fxo" cx="353.0" cy="226.0" r="1.5"/>
<circle class="fxo" cx="360.0" cy="226.0" r="1.5"/>
<circle class="fxo" cx="316.0" cy="231.0" r="1.5"/>
<circle class="fxo" cx="336.0" cy="231.0" r="1.5"/>
<circle class="fxo" cx="344.0" cy="236.0" r="1.5"/>
<circle class="fxo" cx="356.0" cy="236.0" r="1.5"/>
<circle class="fxo" cx="336.0" cy="205.0" r="1.5"/>
<circle class="fxo" cx="353.0" cy="205.0" r="1.5"/>
<circle class="fxo" cx="360.0" cy="205.0" r="1.5"/>
<circle class="fxo" cx="368.0" cy="205.0" r="1.5"/>
<path class="kg" d="M298.0 205.0L310.0 205.0"/>
<path class="kg" d="M298.0 229.0L310.0 229.0"/>
<path class="kg" d="M338.0 205.5L350.0 205.5"/>
<path class="kg" d="M338.0 229.0L350.0 229.0"/>
<path class="wl" d="M377.4 191.7L377.4 244.5"/>
<path class="w" d="M375.0 191.7L380.0 191.7"/>
<path class="w" d="M375.0 244.5L380.0 244.5"/>
<rect class="w" x="396.5" y="191.5" width="7.0" height="16.0"/>
<rect class="k" x="398.0" y="196.0" width="4.0" height="4.0"/>
<rect class="f" x="380.0" y="209.0" width="9.0" height="9.0"/>
<circle class="fl" cx="384.5" cy="213.5" r="2.5"/>
<rect class="fl" x="380.0" y="219.0" width="8.0" height="10.0"/>
<path class="f" d="M398 208Q403 220 398 238"/>
<path class="fl" d="M395 208Q399 222 394 238"/>
<circle class="f" cx="392.5" cy="193.5" r="1.4"/>
<circle class="f" cx="392.5" cy="197.8" r="1.4"/>
<circle class="f" cx="392.5" cy="202.1" r="1.4"/>
<circle class="f" cx="392.5" cy="206.4" r="1.4"/>
<circle class="f" cx="392.5" cy="210.7" r="1.4"/>
<circle class="f" cx="392.5" cy="215.0" r="1.4"/>
<circle class="f" cx="392.5" cy="219.3" r="1.4"/>
<circle class="f" cx="392.5" cy="223.6" r="1.4"/>
<circle class="f" cx="392.5" cy="227.9" r="1.4"/>
<circle class="f" cx="392.5" cy="232.2" r="1.4"/>
<circle class="f" cx="392.5" cy="236.5" r="1.4"/>
<circle class="k" cx="388.0" cy="218.5" r="2.0"/>
<circle class="ov" cx="388.0" cy="218.0" r="1.2"/>
<circle class="fxo" cx="386.0" cy="198.0" r="1.5"/>
<circle class="fxo" cx="381.0" cy="200.0" r="1.5"/>
<circle class="fxo" cx="389.0" cy="224.0" r="1.5"/>
<circle class="fxo" cx="392.0" cy="240.0" r="1.5"/>
<rect class="fl" x="379.0" y="199.0" width="6.0" height="2.5"/>
<rect class="st" x="406.2" y="217.0" width="15.6" height="24.0"/>
<path class="st" d="M406.2 219.5L421.8 219.5"/>
<path class="st" d="M406.2 221.5L421.8 221.5"/>
<path class="st" d="M406.2 223.5L421.8 223.5"/>
<path class="st" d="M406.2 225.5L421.8 225.5"/>
<path class="st" d="M406.2 227.5L421.8 227.5"/>
<path class="st" d="M406.2 229.5L421.8 229.5"/>
<path class="st" d="M406.2 231.5L421.8 231.5"/>
<path class="st" d="M406.2 233.5L421.8 233.5"/>
<path class="st" d="M406.2 235.5L421.8 235.5"/>
<path class="st" d="M406.2 237.5L421.8 237.5"/>
<path class="st" d="M406.2 239.5L421.8 239.5"/>
<rect class="st" x="406.2" y="250.0" width="15.6" height="49.0"/>
<path class="st" d="M406.2 252.5L421.8 252.5"/>
<path class="st" d="M406.2 254.5L421.8 254.5"/>
<path class="st" d="M406.2 256.5L421.8 256.5"/>
<path class="st" d="M406.2 258.5L421.8 258.5"/>
<path class="st" d="M406.2 260.5L421.8 260.5"/>
<path class="st" d="M406.2 262.5L421.8 262.5"/>
<path class="st" d="M406.2 264.5L421.8 264.5"/>
<path class="st" d="M406.2 266.5L421.8 266.5"/>
<path class="st" d="M406.2 268.5L421.8 268.5"/>
<path class="st" d="M406.2 270.5L421.8 270.5"/>
<path class="st" d="M406.2 272.5L421.8 272.5"/>
<path class="st" d="M406.2 274.5L421.8 274.5"/>
<path class="st" d="M406.2 276.5L421.8 276.5"/>
<path class="st" d="M406.2 278.5L421.8 278.5"/>
<path class="st" d="M406.2 280.5L421.8 280.5"/>
<path class="st" d="M406.2 282.5L421.8 282.5"/>
<path class="st" d="M406.2 284.5L421.8 284.5"/>
<path class="st" d="M406.2 286.5L421.8 286.5"/>
<path class="st" d="M406.2 288.5L421.8 288.5"/>
<path class="st" d="M406.2 290.5L421.8 290.5"/>
<path class="st" d="M406.2 292.5L421.8 292.5"/>
<path class="st" d="M406.2 294.5L421.8 294.5"/>
<path class="st" d="M406.2 296.5L421.8 296.5"/>
<path class="w" d="M423.4 218H439.4V234L423.4 242.5Z"/>
<path class="st" d="M425.5 218.0L425.5 241.4"/>
<path class="st" d="M427.5 218.0L427.5 240.4"/>
<path class="st" d="M429.5 218.0L429.5 239.3"/>
<path class="st" d="M431.5 218.0L431.5 238.2"/>
<path class="st" d="M433.5 218.0L433.5 237.2"/>
<path class="st" d="M435.5 218.0L435.5 236.1"/>
<path class="st" d="M437.5 218.0L437.5 235.1"/>
<path class="w" d="M431.5 218.0L431.5 238.0"/>
<path class="w" d="M406.2 319.6V307L421.8 299V319.6Z"/>
<path class="st" d="M406.2 301.5L421.8 301.5"/>
<path class="st" d="M406.2 303.5L421.8 303.5"/>
<path class="st" d="M406.2 305.5L421.8 305.5"/>
<path class="st" d="M406.2 307.5L421.8 307.5"/>
<path class="st" d="M406.2 309.5L421.8 309.5"/>
<path class="st" d="M406.2 311.5L421.8 311.5"/>
<path class="st" d="M406.2 313.5L421.8 313.5"/>
<path class="st" d="M406.2 315.5L421.8 315.5"/>
<path class="st" d="M406.2 317.5L421.8 317.5"/>
<path class="w" d="M421.8 217.0L421.8 321.0"/>
<path class="w" d="M406.2 217.0L406.2 321.0"/>
<rect class="w" x="422.8" y="247.4" width="19.5" height="32.0"/>
<path class="w" d="M422.8 262.0L442.3 262.0"/>
<path class="f" d="M432.5 247.4L432.5 262.0"/>
<rect class="fl" x="425.0" y="250.0" width="4.0" height="5.0"/>
<rect class="fl" x="435.0" y="250.0" width="4.0" height="5.0"/>
<path class="w2" d="M425 276V279H432"/>
<rect class="fl" x="437.0" y="266.0" width="4.0" height="8.0"/>
<rect class="w" x="422.8" y="293.3" width="19.5" height="31.0"/>
<path class="f" d="M424.0 305.0L441.0 305.0"/>
<path class="w2" d="M424 320V323H432"/>
<rect class="fl" x="436.0" y="297.0" width="4.0" height="8.0"/>
<circle class="fl" cx="434.0" cy="318.5" r="2.0"/>
<circle class="fl" cx="437.0" cy="309.0" r="1.6"/>
<path class="w" d="M442.5 250.0L442.5 330.0"/>
<rect class="w" x="245.0" y="246.4" width="11.8" height="45.0"/>
<path class="f" d="M246 247V259H255V248"/>
<path class="w" d="M256.8 246.4L276.3 246.4L276.3 252.0"/>
<path class="w" d="M256.8 262.0L256.8 293.3"/>
<path class="f" d="M256.8 262Q262 266 259 271L262 274"/>
<path class="w" d="M245.0 293.3L276.3 293.3"/>
<path class="w" d="M276.3 262.0L276.3 293.3"/>
<rect class="f" x="264.0" y="262.0" width="4.0" height="22.0"/>
<rect class="f" x="269.0" y="262.0" width="5.5" height="22.0"/>
<path class="f" d="M271.5 262.0L271.5 284.0"/>
<rect class="f" x="259.0" y="288.0" width="16.0" height="4.5"/>
<path d="M247.61 277.31h2.18M247.61 278.40h2.18M248.70 276.76v2.18M250.21 277.31h2.18M250.21 278.40h2.18M251.30 276.76v2.18" style="stroke:#444;stroke-width:0.40;fill:none"/>
<path d="M258.59 278.44h2.02M258.59 279.45h2.02M259.60 277.94v2.02M260.99 278.44h2.02M260.99 279.45h2.02M262.00 277.94v2.02M263.39 278.44h2.02M263.39 279.45h2.02M264.40 277.94v2.02" style="stroke:#444;stroke-width:0.37;fill:none"/>
<rect class="w" x="245.5" y="291.5" width="10.5" height="11.5"/>
<path class="w" d="M245.5 291.5L256.0 303.0"/>
<path class="w" d="M256.0 291.5L245.5 303.0"/>
<rect class="f" x="245.0" y="306.0" width="10.5" height="12.0"/>
<rect class="f" x="236.5" y="259.5" width="6.0" height="10.0"/>
<rect class="f" x="236.5" y="272.0" width="6.0" height="13.0"/>
<circle class="fxo" cx="262.0" cy="258.0" r="1.5"/>
<circle class="fxo" cx="262.0" cy="270.0" r="1.5"/>
<circle class="fxo" cx="271.0" cy="258.0" r="1.5"/>
<circle class="fxo" cx="281.0" cy="263.0" r="1.5"/>
<circle class="fxo" cx="281.0" cy="270.0" r="1.5"/>
<circle class="fxo" cx="282.0" cy="283.0" r="1.5"/>
<circle class="fxo" cx="262.0" cy="297.0" r="1.5"/>
<circle class="fxo" cx="262.0" cy="305.0" r="1.5"/>
<circle class="fxo" cx="271.0" cy="301.0" r="1.5"/>
<circle class="fxo" cx="282.0" cy="300.0" r="1.5"/>
<rect class="f" x="288.0" y="251.5" width="6.0" height="4.5"/>
<rect class="f" x="296.0" y="251.5" width="6.0" height="4.5"/>
<rect class="kg" x="293.5" y="257.0" width="14.0" height="3.0"/>
<rect class="w" x="294.0" y="266.0" width="71.5" height="5.8"/>
<path class="f" d="M294.0 268.9L365.5 268.9"/>
<path class="f" d="M312.0 266.0L312.0 271.8"/>
<path class="f" d="M330.0 266.0L330.0 271.8"/>
<path class="f" d="M348.0 266.0L348.0 271.8"/>
<rect class="kg" x="287.0" y="275.6" width="80.0" height="3.2"/>
<path class="ov" d="M290.0 277.2L365.0 277.2"/>
<path class="f" d="M284 274Q277 276 278 283Q276 290 284 292"/>
<circle class="fl" cx="290.0" cy="278.0" r="3.0"/>
<circle class="fl" cx="292.0" cy="289.0" r="4.5"/>
<rect class="fl" x="281.0" y="286.0" width="10.0" height="6.0"/>
<rect class="w" x="295.0" y="280.6" width="80.0" height="12.7"/>
<path class="f" d="M306.0 280.6L306.0 293.3"/>
<path class="f" d="M315.0 280.6L315.0 293.3"/>
<path class="f" d="M323.0 280.6L323.0 293.3"/>
<path class="f" d="M331.0 280.6L331.0 293.3"/>
<path class="f" d="M352.0 280.6L352.0 293.3"/>
<path class="f" d="M365.0 280.6L365.0 293.3"/>
<circle class="w" cx="336.8" cy="287.0" r="4.0"/>
<circle class="w" cx="346.0" cy="287.0" r="4.0"/>
<circle class="f" cx="336.8" cy="287.0" r="3.0"/>
<circle class="f" cx="346.0" cy="287.0" r="3.0"/>
<rect class="kg" x="355.0" y="287.0" width="9.0" height="5.0"/>
<circle class="k" cx="357.5" cy="286.0" r="1.4"/>
<circle class="k" cx="362.0" cy="286.0" r="1.4"/>
<circle class="kg" cx="369.0" cy="284.0" r="1.8"/>
<circle class="kg" cx="369.0" cy="289.0" r="1.8"/>
<rect class="w" x="375.0" y="277.7" width="15.5" height="15.6"/>
<rect class="k" x="377.0" y="283.0" width="5.0" height="5.0"/>
<rect class="kg" x="383.0" y="283.0" width="5.0" height="5.0"/>
<path class="f" d="M375.0 281.0L390.5 281.0"/>
<path class="w2" d="M376 270V278H384"/>
<rect class="f" x="333.0" y="249.0" width="8.0" height="5.0"/>
<rect class="fl" x="340.0" y="246.5" width="9.0" height="8.0"/>
<rect class="k" x="356.0" y="246.5" width="5.0" height="4.0"/>
<rect class="fl" x="330.0" y="256.0" width="7.0" height="5.0"/>
<circle class="fxo" cx="298.0" cy="254.0" r="1.5"/>
<circle class="fxo" cx="289.0" cy="260.0" r="1.5"/>
<circle class="fxo" cx="296.0" cy="260.0" r="1.5"/>
<circle class="fxo" cx="305.0" cy="262.0" r="1.5"/>
<circle class="fxo" cx="313.0" cy="262.0" r="1.5"/>
<circle class="fxo" cx="321.0" cy="262.0" r="1.5"/>
<circle class="fxo" cx="344.0" cy="254.0" r="1.5"/>
<circle class="fxo" cx="353.0" cy="252.0" r="1.5"/>
<circle class="fxo" cx="358.0" cy="256.0" r="1.5"/>
<circle class="fxo" cx="316.0" cy="255.0" r="1.5"/>
<circle class="fxo" cx="337.0" cy="261.0" r="1.5"/>
<circle class="fxo" cx="349.0" cy="261.0" r="1.5"/>
<circle class="fxo" cx="355.0" cy="261.0" r="1.5"/>
<circle class="fxo" cx="362.0" cy="261.0" r="1.5"/>
<circle class="fxo" cx="326.0" cy="274.0" r="1.5"/>
<circle class="fxo" cx="342.0" cy="274.0" r="1.5"/>
<circle class="fxo" cx="370.0" cy="276.0" r="1.5"/>
<circle class="fxo" cx="300.0" cy="281.0" r="1.5"/>
<circle class="fxo" cx="370.0" cy="296.0" r="1.5"/>
<rect class="fl" x="284.0" y="296.0" width="12.0" height="4.0"/>
<rect class="f" x="300.0" y="296.0" width="14.0" height="5.0"/>
<rect class="fl" x="317.0" y="296.0" width="10.0" height="5.0"/>
<rect class="f" x="328.0" y="296.0" width="6.0" height="6.0"/>
<rect class="fl" x="336.0" y="297.0" width="14.0" height="3.0"/>
<circle class="fxo" cx="262.0" cy="303.0" r="1.5"/>
<circle class="fxo" cx="268.0" cy="305.0" r="1.5"/>
<circle class="fxo" cx="285.0" cy="303.0" r="1.5"/>
<circle class="fxo" cx="292.0" cy="304.0" r="1.5"/>
<circle class="fxo" cx="300.0" cy="303.5" r="1.5"/>
<circle class="fxo" cx="308.0" cy="303.5" r="1.5"/>
<circle class="fxo" cx="318.0" cy="304.0" r="1.5"/>
<circle class="fxo" cx="333.0" cy="305.0" r="1.5"/>
<circle class="fxo" cx="340.0" cy="303.0" r="1.5"/>
<circle class="fxo" cx="356.0" cy="303.0" r="1.5"/>
<circle class="fxo" cx="370.0" cy="303.0" r="1.5"/>
<circle class="fxo" cx="286.0" cy="309.0" r="1.5"/>
<circle class="fxo" cx="293.0" cy="309.0" r="1.5"/>
<circle class="fxo" cx="326.0" cy="309.0" r="1.5"/>
<circle class="fxo" cx="345.0" cy="309.0" r="1.5"/>
<circle class="fxo" cx="361.0" cy="309.0" r="1.5"/>
<circle class="fxo" cx="376.0" cy="309.0" r="1.5"/>
<rect class="kg" x="280.0" y="307.5" width="8.0" height="1.6"/>
<rect class="kg" x="300.0" y="308.0" width="8.0" height="1.6"/>
<rect class="kg" x="339.0" y="307.8" width="8.0" height="1.6"/>
<rect class="kg" x="352.0" y="307.8" width="8.0" height="1.6"/>
<rect class="kg" x="365.0" y="307.8" width="8.0" height="1.6"/>
<rect class="w" x="266.5" y="312.8" width="23.5" height="6.8"/>
<rect class="k" x="276.0" y="313.6" width="14.0" height="5.2"/>
<text class="tw" x="283.0" y="318.0" font-size="4.2" text-anchor="middle">2/10</text>
<rect class="f" x="296.0" y="312.8" width="16.0" height="6.8"/>
<path class="f" d="M304.0 312.8L304.0 319.6"/>
<rect class="k" x="328.0" y="313.0" width="49.0" height="6.2"/>
<circle class="ov" cx="333.0" cy="316.1" r="1.1"/>
<circle class="ov" cx="336.7" cy="316.1" r="1.1"/>
<circle class="ov" cx="340.4" cy="316.1" r="1.1"/>
<circle class="ov" cx="344.1" cy="316.1" r="1.1"/>
<circle class="ov" cx="347.8" cy="316.1" r="1.1"/>
<circle class="ov" cx="351.5" cy="316.1" r="1.1"/>
<circle class="ov" cx="355.2" cy="316.1" r="1.1"/>
<circle class="ov" cx="358.9" cy="316.1" r="1.1"/>
<circle class="ov" cx="362.6" cy="316.1" r="1.1"/>
<circle class="ov" cx="366.3" cy="316.1" r="1.1"/>
<circle class="ov" cx="370.0" cy="316.1" r="1.1"/>
<circle class="ov" cx="373.7" cy="316.1" r="1.1"/>
<rect class="w" x="378.5" y="309.0" width="6.0" height="11.0"/>
<rect class="fl" x="380.0" y="312.0" width="3.0" height="6.0"/>
<rect class="w" x="388.6" y="308.0" width="11.7" height="9.7"/>
<path class="w" d="M388.6 308.0L400.3 317.7"/>
<path class="w" d="M400.3 308.0L388.6 317.7"/>
<rect class="f" x="387.5" y="306.8" width="14.0" height="12.0"/>
<path class="w" d="M245.0 321.0L266.0 321.0"/>
<path class="w" d="M290.0 321.0L404.0 321.0"/>
<path class="w" d="M232.0 321.0L245.0 321.0"/>
<circle class="k" cx="228.1" cy="323.0" r="1.1"/>
<circle class="k" cx="228.1" cy="331.5" r="1.1"/>
<circle class="k" cx="228.1" cy="340.0" r="1.1"/>
<circle class="k" cx="228.1" cy="348.5" r="1.1"/>
<circle class="k" cx="228.1" cy="357.1" r="1.1"/>
<circle class="k" cx="228.1" cy="365.6" r="1.1"/>
<circle class="k" cx="228.1" cy="374.1" r="1.1"/>
<circle class="k" cx="228.1" cy="382.6" r="1.1"/>
<circle class="k" cx="228.1" cy="391.1" r="1.1"/>
<circle class="k" cx="228.1" cy="399.6" r="1.1"/>
<circle class="k" cx="228.1" cy="408.1" r="1.1"/>
<circle class="k" cx="228.1" cy="416.7" r="1.1"/>
<circle class="k" cx="228.1" cy="425.2" r="1.1"/>
<circle class="k" cx="228.1" cy="433.7" r="1.1"/>
<circle class="k" cx="228.1" cy="442.2" r="1.1"/>
<circle class="k" cx="228.1" cy="450.7" r="1.1"/>
<circle class="k" cx="228.1" cy="459.2" r="1.1"/>
<circle class="k" cx="228.1" cy="467.8" r="1.1"/>
<circle class="k" cx="228.1" cy="476.3" r="1.1"/>
<circle class="k" cx="228.1" cy="484.8" r="1.1"/>
<circle class="k" cx="228.1" cy="493.3" r="1.1"/>
<circle class="k" cx="228.1" cy="493.3" r="1.1"/>
<circle class="k" cx="236.3" cy="493.3" r="1.1"/>
<circle class="k" cx="244.6" cy="493.3" r="1.1"/>
<circle class="k" cx="252.8" cy="493.3" r="1.1"/>
<circle class="k" cx="261.1" cy="493.3" r="1.1"/>
<circle class="k" cx="269.4" cy="493.3" r="1.1"/>
<circle class="k" cx="277.6" cy="493.3" r="1.1"/>
<circle class="k" cx="285.9" cy="493.3" r="1.1"/>
<circle class="k" cx="294.1" cy="493.3" r="1.1"/>
<circle class="k" cx="302.4" cy="493.3" r="1.1"/>
<circle class="k" cx="310.6" cy="493.3" r="1.1"/>
<circle class="k" cx="318.9" cy="493.3" r="1.1"/>
<circle class="k" cx="327.1" cy="493.3" r="1.1"/>
<circle class="k" cx="335.4" cy="493.3" r="1.1"/>
<circle class="k" cx="343.6" cy="493.3" r="1.1"/>
<circle class="k" cx="351.9" cy="493.3" r="1.1"/>
<circle class="k" cx="360.1" cy="493.3" r="1.1"/>
<circle class="k" cx="368.4" cy="493.3" r="1.1"/>
<circle class="k" cx="376.6" cy="493.3" r="1.1"/>
<circle class="k" cx="384.9" cy="493.3" r="1.1"/>
<circle class="k" cx="393.1" cy="493.3" r="1.1"/>
<circle class="k" cx="401.4" cy="493.3" r="1.1"/>
<circle class="k" cx="409.6" cy="493.3" r="1.1"/>
<circle class="k" cx="417.9" cy="493.3" r="1.1"/>
<circle class="k" cx="426.1" cy="493.3" r="1.1"/>
<circle class="k" cx="434.4" cy="493.3" r="1.1"/>
<circle class="k" cx="442.6" cy="493.3" r="1.1"/>
<circle class="k" cx="442.6" cy="332.0" r="1.1"/>
<circle class="k" cx="442.6" cy="340.5" r="1.1"/>
<circle class="k" cx="442.6" cy="349.0" r="1.1"/>
<circle class="k" cx="442.6" cy="357.5" r="1.1"/>
<circle class="k" cx="442.6" cy="366.0" r="1.1"/>
<circle class="k" cx="442.6" cy="374.4" r="1.1"/>
<circle class="k" cx="442.6" cy="382.9" r="1.1"/>
<circle class="k" cx="442.6" cy="391.4" r="1.1"/>
<circle class="k" cx="442.6" cy="399.9" r="1.1"/>
<circle class="k" cx="442.6" cy="408.4" r="1.1"/>
<circle class="k" cx="442.6" cy="416.9" r="1.1"/>
<circle class="k" cx="442.6" cy="425.4" r="1.1"/>
<circle class="k" cx="442.6" cy="433.9" r="1.1"/>
<circle class="k" cx="442.6" cy="442.4" r="1.1"/>
<circle class="k" cx="442.6" cy="450.9" r="1.1"/>
<circle class="k" cx="442.6" cy="459.3" r="1.1"/>
<circle class="k" cx="442.6" cy="467.8" r="1.1"/>
<circle class="k" cx="442.6" cy="476.3" r="1.1"/>
<circle class="k" cx="442.6" cy="484.8" r="1.1"/>
<circle class="k" cx="442.6" cy="493.3" r="1.1"/>
<path class="w" d="M228.1 323.0L228.1 493.3"/>
<path class="w" d="M228.1 493.3L442.6 493.3"/>
<path class="w" d="M442.6 325.0L442.6 493.3"/>
<path class="fl" d="M229.5 330.0L229.5 492.0"/>
<path class="fl" d="M229.5 492.0L441.0 492.0"/>
<path class="m" d="M216.0 337.0L214.5 337.0L214.5 374.5L228.0 374.5"/>
<path class="fl" d="M228 352Q221 353 221 360Q221 367 228 368M221 360H228"/>
<path class="fl" d="M228 433Q221 434 221 440Q221 446 228 447M221 440H228"/>
<path class="fl" d="M228 404Q233 408 228 412M228 462Q233 466 228 470"/>
<circle class="k" cx="218.0" cy="400.5" r="1.0"/>
<rect class="k" x="242.5" y="395.3" width="6.2" height="9.4"/>
<rect class="k" x="400.5" y="395.3" width="6.2" height="9.4"/>
<rect class="k" x="242.9" y="475.0" width="5.6" height="9.0"/>
<rect class="k" x="321.9" y="475.0" width="5.6" height="9.0"/>
<rect class="k" x="401.4" y="475.0" width="5.6" height="9.0"/>
<path class="f" d="M261 323Q261 331 268 331M275 323Q275 331 268 331M275 323Q276 330 282 329"/>
<path class="k" d="M259.7 341L262.2 336L264.7 341Z"/>
<path class="f" d="M262.2 336.0L262.2 343.0"/>
<path class="k" d="M319.2 341.4L321.7 336.4L324.2 341.4Z"/>
<path class="f" d="M321.7 336.4L321.7 343.4"/>
<path class="k" d="M326.5 341.4L329 336.4L331.5 341.4Z"/>
<path class="f" d="M329.0 336.4L329.0 343.4"/>
<path class="k" d="M394.9 341L397.4 336L399.9 341Z"/>
<path class="f" d="M397.4 336.0L397.4 343.0"/>
<rect class="tbx" x="286.6" y="378.3" width="12.3" height="6.3"/>
<ellipse class="ch" cx="289.7" cy="375.1" rx="2.1" ry="2.7"/>
<ellipse class="ch" cx="289.7" cy="387.8" rx="2.1" ry="2.7"/>
<ellipse class="ch" cx="295.8" cy="375.1" rx="2.1" ry="2.7"/>
<ellipse class="ch" cx="295.8" cy="387.8" rx="2.1" ry="2.7"/>
<rect class="tbx" x="298.9" y="378.3" width="12.3" height="6.3"/>
<ellipse class="ch" cx="302.0" cy="375.1" rx="2.1" ry="2.7"/>
<ellipse class="ch" cx="302.0" cy="387.8" rx="2.1" ry="2.7"/>
<ellipse class="ch" cx="308.1" cy="375.1" rx="2.1" ry="2.7"/>
<ellipse class="ch" cx="308.1" cy="387.8" rx="2.1" ry="2.7"/>
<rect class="tbx" x="338.5" y="378.3" width="12.3" height="6.3"/>
<ellipse class="ch" cx="341.6" cy="375.1" rx="2.1" ry="2.7"/>
<ellipse class="ch" cx="341.6" cy="387.8" rx="2.1" ry="2.7"/>
<ellipse class="ch" cx="347.7" cy="375.1" rx="2.1" ry="2.7"/>
<ellipse class="ch" cx="347.7" cy="387.8" rx="2.1" ry="2.7"/>
<rect class="tbx" x="350.8" y="378.3" width="12.3" height="6.3"/>
<ellipse class="ch" cx="353.9" cy="375.1" rx="2.1" ry="2.7"/>
<ellipse class="ch" cx="353.9" cy="387.8" rx="2.1" ry="2.7"/>
<ellipse class="ch" cx="360.0" cy="375.1" rx="2.1" ry="2.7"/>
<ellipse class="ch" cx="360.0" cy="387.8" rx="2.1" ry="2.7"/>
<rect class="tbx" x="286.6" y="400.4" width="12.3" height="6.3"/>
<ellipse class="ch" cx="289.7" cy="397.2" rx="2.1" ry="2.7"/>
<ellipse class="ch" cx="289.7" cy="409.9" rx="2.1" ry="2.7"/>
<ellipse class="ch" cx="295.8" cy="397.2" rx="2.1" ry="2.7"/>
<ellipse class="ch" cx="295.8" cy="409.9" rx="2.1" ry="2.7"/>
<rect class="tbx" x="298.9" y="400.4" width="12.3" height="6.3"/>
<ellipse class="ch" cx="302.0" cy="397.2" rx="2.1" ry="2.7"/>
<ellipse class="ch" cx="302.0" cy="409.9" rx="2.1" ry="2.7"/>
<ellipse class="ch" cx="308.1" cy="397.2" rx="2.1" ry="2.7"/>
<ellipse class="ch" cx="308.1" cy="409.9" rx="2.1" ry="2.7"/>
<rect class="tbx" x="338.5" y="400.4" width="12.3" height="6.3"/>
<ellipse class="ch" cx="341.6" cy="397.2" rx="2.1" ry="2.7"/>
<ellipse class="ch" cx="341.6" cy="409.9" rx="2.1" ry="2.7"/>
<ellipse class="ch" cx="347.7" cy="397.2" rx="2.1" ry="2.7"/>
<ellipse class="ch" cx="347.7" cy="409.9" rx="2.1" ry="2.7"/>
<rect class="tbx" x="350.8" y="400.4" width="12.3" height="6.3"/>
<ellipse class="ch" cx="353.9" cy="397.2" rx="2.1" ry="2.7"/>
<ellipse class="ch" cx="353.9" cy="409.9" rx="2.1" ry="2.7"/>
<ellipse class="ch" cx="360.0" cy="397.2" rx="2.1" ry="2.7"/>
<ellipse class="ch" cx="360.0" cy="409.9" rx="2.1" ry="2.7"/>
<rect class="tbx" x="286.6" y="422.1" width="12.3" height="6.3"/>
<ellipse class="ch" cx="289.7" cy="418.9" rx="2.1" ry="2.7"/>
<ellipse class="ch" cx="289.7" cy="431.6" rx="2.1" ry="2.7"/>
<ellipse class="ch" cx="295.8" cy="418.9" rx="2.1" ry="2.7"/>
<ellipse class="ch" cx="295.8" cy="431.6" rx="2.1" ry="2.7"/>
<rect class="tbx" x="298.9" y="422.1" width="12.3" height="6.3"/>
<ellipse class="ch" cx="302.0" cy="418.9" rx="2.1" ry="2.7"/>
<ellipse class="ch" cx="302.0" cy="431.6" rx="2.1" ry="2.7"/>
<ellipse class="ch" cx="308.1" cy="418.9" rx="2.1" ry="2.7"/>
<ellipse class="ch" cx="308.1" cy="431.6" rx="2.1" ry="2.7"/>
<rect class="tbx" x="338.5" y="422.1" width="12.3" height="6.3"/>
<ellipse class="ch" cx="341.6" cy="418.9" rx="2.1" ry="2.7"/>
<ellipse class="ch" cx="341.6" cy="431.6" rx="2.1" ry="2.7"/>
<ellipse class="ch" cx="347.7" cy="418.9" rx="2.1" ry="2.7"/>
<ellipse class="ch" cx="347.7" cy="431.6" rx="2.1" ry="2.7"/>
<rect class="tbx" x="350.8" y="422.1" width="12.3" height="6.3"/>
<ellipse class="ch" cx="353.9" cy="418.9" rx="2.1" ry="2.7"/>
<ellipse class="ch" cx="353.9" cy="431.6" rx="2.1" ry="2.7"/>
<ellipse class="ch" cx="360.0" cy="418.9" rx="2.1" ry="2.7"/>
<ellipse class="ch" cx="360.0" cy="431.6" rx="2.1" ry="2.7"/>
<rect class="tbx" x="298.6" y="356.7" width="12.3" height="6.3"/>
<ellipse class="ch" cx="301.7" cy="353.5" rx="2.1" ry="2.7"/>
<ellipse class="ch" cx="301.7" cy="366.2" rx="2.1" ry="2.7"/>
<ellipse class="ch" cx="307.8" cy="353.5" rx="2.1" ry="2.7"/>
<ellipse class="ch" cx="307.8" cy="366.2" rx="2.1" ry="2.7"/>
<rect class="tbx" x="338.5" y="356.7" width="12.3" height="6.3"/>
<ellipse class="ch" cx="341.6" cy="353.5" rx="2.1" ry="2.7"/>
<ellipse class="ch" cx="341.6" cy="366.2" rx="2.1" ry="2.7"/>
<ellipse class="ch" cx="347.7" cy="353.5" rx="2.1" ry="2.7"/>
<ellipse class="ch" cx="347.7" cy="366.2" rx="2.1" ry="2.7"/>
<rect class="tbx" x="298.6" y="444.5" width="12.3" height="6.3"/>
<ellipse class="ch" cx="301.7" cy="441.3" rx="2.1" ry="2.7"/>
<ellipse class="ch" cx="301.7" cy="454.0" rx="2.1" ry="2.7"/>
<ellipse class="ch" cx="307.8" cy="441.3" rx="2.1" ry="2.7"/>
<ellipse class="ch" cx="307.8" cy="454.0" rx="2.1" ry="2.7"/>
<rect class="tbx" x="338.5" y="444.5" width="12.3" height="6.3"/>
<ellipse class="ch" cx="341.6" cy="441.3" rx="2.1" ry="2.7"/>
<ellipse class="ch" cx="341.6" cy="454.0" rx="2.1" ry="2.7"/>
<ellipse class="ch" cx="347.7" cy="441.3" rx="2.1" ry="2.7"/>
<ellipse class="ch" cx="347.7" cy="454.0" rx="2.1" ry="2.7"/>
<rect class="tbx" x="321.7" y="365.0" width="6.3" height="22.8"/>
<path class="tbl" d="M321.7 376.4L328.0 376.4"/>
<ellipse class="ch" cx="318.3" cy="367.9" rx="2.7" ry="2.1"/>
<ellipse class="ch" cx="331.4" cy="367.9" rx="2.7" ry="2.1"/>
<ellipse class="ch" cx="318.3" cy="373.6" rx="2.7" ry="2.1"/>
<ellipse class="ch" cx="331.4" cy="373.6" rx="2.7" ry="2.1"/>
<ellipse class="ch" cx="318.3" cy="379.2" rx="2.7" ry="2.1"/>
<ellipse class="ch" cx="331.4" cy="379.2" rx="2.7" ry="2.1"/>
<ellipse class="ch" cx="318.3" cy="384.9" rx="2.7" ry="2.1"/>
<ellipse class="ch" cx="331.4" cy="384.9" rx="2.7" ry="2.1"/>
<rect class="tbx" x="321.7" y="419.3" width="6.3" height="23.2"/>
<path class="tbl" d="M321.7 430.9L328.0 430.9"/>
<ellipse class="ch" cx="318.3" cy="422.2" rx="2.7" ry="2.1"/>
<ellipse class="ch" cx="331.4" cy="422.2" rx="2.7" ry="2.1"/>
<ellipse class="ch" cx="318.3" cy="428.0" rx="2.7" ry="2.1"/>
<ellipse class="ch" cx="331.4" cy="428.0" rx="2.7" ry="2.1"/>
<ellipse class="ch" cx="318.3" cy="433.8" rx="2.7" ry="2.1"/>
<ellipse class="ch" cx="331.4" cy="433.8" rx="2.7" ry="2.1"/>
<ellipse class="ch" cx="318.3" cy="439.6" rx="2.7" ry="2.1"/>
<ellipse class="ch" cx="331.4" cy="439.6" rx="2.7" ry="2.1"/>
<rect class="tbx" x="242.8" y="371.0" width="5.9" height="23.0"/>
<path class="tbl" d="M242.8 382.5L248.7 382.5"/>
<ellipse class="ch" cx="239.4" cy="373.9" rx="2.7" ry="2.1"/>
<ellipse class="ch" cx="252.1" cy="373.9" rx="2.7" ry="2.1"/>
<ellipse class="ch" cx="239.4" cy="379.6" rx="2.7" ry="2.1"/>
<ellipse class="ch" cx="252.1" cy="379.6" rx="2.7" ry="2.1"/>
<ellipse class="ch" cx="239.4" cy="385.4" rx="2.7" ry="2.1"/>
<ellipse class="ch" cx="252.1" cy="385.4" rx="2.7" ry="2.1"/>
<ellipse class="ch" cx="239.4" cy="391.1" rx="2.7" ry="2.1"/>
<ellipse class="ch" cx="252.1" cy="391.1" rx="2.7" ry="2.1"/>
<rect class="tbx" x="242.8" y="405.7" width="5.9" height="35.7"/>
<path class="tbl" d="M242.8 417.6L248.7 417.6"/>
<path class="tbl" d="M242.8 429.5L248.7 429.5"/>
<ellipse class="ch" cx="239.4" cy="408.7" rx="2.7" ry="2.1"/>
<ellipse class="ch" cx="252.1" cy="408.7" rx="2.7" ry="2.1"/>
<ellipse class="ch" cx="239.4" cy="414.6" rx="2.7" ry="2.1"/>
<ellipse class="ch" cx="252.1" cy="414.6" rx="2.7" ry="2.1"/>
<ellipse class="ch" cx="239.4" cy="420.6" rx="2.7" ry="2.1"/>
<ellipse class="ch" cx="252.1" cy="420.6" rx="2.7" ry="2.1"/>
<ellipse class="ch" cx="239.4" cy="426.5" rx="2.7" ry="2.1"/>
<ellipse class="ch" cx="252.1" cy="426.5" rx="2.7" ry="2.1"/>
<ellipse class="ch" cx="239.4" cy="432.5" rx="2.7" ry="2.1"/>
<ellipse class="ch" cx="252.1" cy="432.5" rx="2.7" ry="2.1"/>
<ellipse class="ch" cx="239.4" cy="438.4" rx="2.7" ry="2.1"/>
<ellipse class="ch" cx="252.1" cy="438.4" rx="2.7" ry="2.1"/>
<rect class="tbx" x="401.6" y="358.4" width="5.9" height="35.6"/>
<path class="tbl" d="M401.6 370.3L407.5 370.3"/>
<path class="tbl" d="M401.6 382.1L407.5 382.1"/>
<ellipse class="ch" cx="398.2" cy="361.4" rx="2.7" ry="2.1"/>
<ellipse class="ch" cx="410.9" cy="361.4" rx="2.7" ry="2.1"/>
<ellipse class="ch" cx="398.2" cy="367.3" rx="2.7" ry="2.1"/>
<ellipse class="ch" cx="410.9" cy="367.3" rx="2.7" ry="2.1"/>
<ellipse class="ch" cx="398.2" cy="373.2" rx="2.7" ry="2.1"/>
<ellipse class="ch" cx="410.9" cy="373.2" rx="2.7" ry="2.1"/>
<ellipse class="ch" cx="398.2" cy="379.2" rx="2.7" ry="2.1"/>
<ellipse class="ch" cx="410.9" cy="379.2" rx="2.7" ry="2.1"/>
<ellipse class="ch" cx="398.2" cy="385.1" rx="2.7" ry="2.1"/>
<ellipse class="ch" cx="410.9" cy="385.1" rx="2.7" ry="2.1"/>
<ellipse class="ch" cx="398.2" cy="391.0" rx="2.7" ry="2.1"/>
<ellipse class="ch" cx="410.9" cy="391.0" rx="2.7" ry="2.1"/>
<rect class="tbx" x="401.6" y="405.7" width="5.9" height="35.7"/>
<path class="tbl" d="M401.6 417.6L407.5 417.6"/>
<path class="tbl" d="M401.6 429.5L407.5 429.5"/>
<ellipse class="ch" cx="398.2" cy="408.7" rx="2.7" ry="2.1"/>
<ellipse class="ch" cx="410.9" cy="408.7" rx="2.7" ry="2.1"/>
<ellipse class="ch" cx="398.2" cy="414.6" rx="2.7" ry="2.1"/>
<ellipse class="ch" cx="410.9" cy="414.6" rx="2.7" ry="2.1"/>
<ellipse class="ch" cx="398.2" cy="420.6" rx="2.7" ry="2.1"/>
<ellipse class="ch" cx="410.9" cy="420.6" rx="2.7" ry="2.1"/>
<ellipse class="ch" cx="398.2" cy="426.5" rx="2.7" ry="2.1"/>
<ellipse class="ch" cx="410.9" cy="426.5" rx="2.7" ry="2.1"/>
<ellipse class="ch" cx="398.2" cy="432.5" rx="2.7" ry="2.1"/>
<ellipse class="ch" cx="410.9" cy="432.5" rx="2.7" ry="2.1"/>
<ellipse class="ch" cx="398.2" cy="438.4" rx="2.7" ry="2.1"/>
<ellipse class="ch" cx="410.9" cy="438.4" rx="2.7" ry="2.1"/>
<path class="rts" d="M264.5 387.8L273.7 397.0"/>
<path class="rts" d="M264.5 397.0L273.7 387.8"/>
<circle class="rt" cx="269.1" cy="392.4" r="3.2"/>
<circle class="ch" cx="264.5" cy="387.8" r="1.9"/>
<circle class="ch" cx="264.5" cy="397.0" r="1.9"/>
<circle class="ch" cx="273.7" cy="387.8" r="1.9"/>
<circle class="ch" cx="273.7" cy="397.0" r="1.9"/>
<path class="rts" d="M264.5 409.9L273.7 419.1"/>
<path class="rts" d="M264.5 419.1L273.7 409.9"/>
<circle class="rt" cx="269.1" cy="414.5" r="3.2"/>
<circle class="ch" cx="264.5" cy="409.9" r="1.9"/>
<circle class="ch" cx="264.5" cy="419.1" r="1.9"/>
<circle class="ch" cx="273.7" cy="409.9" r="1.9"/>
<circle class="ch" cx="273.7" cy="419.1" r="1.9"/>
<path class="rts" d="M376.6 387.8L385.8 397.0"/>
<path class="rts" d="M376.6 397.0L385.8 387.8"/>
<circle class="rt" cx="381.2" cy="392.4" r="3.2"/>
<circle class="ch" cx="376.6" cy="387.8" r="1.9"/>
<circle class="ch" cx="376.6" cy="397.0" r="1.9"/>
<circle class="ch" cx="385.8" cy="387.8" r="1.9"/>
<circle class="ch" cx="385.8" cy="397.0" r="1.9"/>
<path class="rts" d="M376.6 409.9L385.8 419.1"/>
<path class="rts" d="M376.6 419.1L385.8 409.9"/>
<circle class="rt" cx="381.2" cy="414.5" r="3.2"/>
<circle class="ch" cx="376.6" cy="409.9" r="1.9"/>
<circle class="ch" cx="376.6" cy="419.1" r="1.9"/>
<circle class="ch" cx="385.8" cy="409.9" r="1.9"/>
<circle class="ch" cx="385.8" cy="419.1" r="1.9"/>
<path class="rts" d="M426.9 356.3L437.3 366.7"/>
<path class="rts" d="M426.9 366.7L437.3 356.3"/>
<circle class="rt" cx="432.1" cy="361.5" r="3.6"/>
<circle class="ch" cx="426.9" cy="356.3" r="1.9"/>
<circle class="ch" cx="426.9" cy="366.7" r="1.9"/>
<circle class="ch" cx="437.3" cy="356.3" r="1.9"/>
<circle class="ch" cx="437.3" cy="366.7" r="1.9"/>
<path class="rts" d="M426.9 376.3L437.3 386.7"/>
<path class="rts" d="M426.9 386.7L437.3 376.3"/>
<circle class="rt" cx="432.1" cy="381.5" r="3.6"/>
<circle class="ch" cx="426.9" cy="376.3" r="1.9"/>
<circle class="ch" cx="426.9" cy="386.7" r="1.9"/>
<circle class="ch" cx="437.3" cy="376.3" r="1.9"/>
<circle class="ch" cx="437.3" cy="386.7" r="1.9"/>
<path class="rts" d="M426.9 396.3L437.3 406.7"/>
<path class="rts" d="M426.9 406.7L437.3 396.3"/>
<circle class="rt" cx="432.1" cy="401.5" r="3.6"/>
<circle class="ch" cx="426.9" cy="396.3" r="1.9"/>
<circle class="ch" cx="426.9" cy="406.7" r="1.9"/>
<circle class="ch" cx="437.3" cy="396.3" r="1.9"/>
<circle class="ch" cx="437.3" cy="406.7" r="1.9"/>
<path class="rts" d="M426.9 414.6L437.3 425.0"/>
<path class="rts" d="M426.9 425.0L437.3 414.6"/>
<circle class="rt" cx="432.1" cy="419.8" r="3.6"/>
<circle class="ch" cx="426.9" cy="414.6" r="1.9"/>
<circle class="ch" cx="426.9" cy="425.0" r="1.9"/>
<circle class="ch" cx="437.3" cy="414.6" r="1.9"/>
<circle class="ch" cx="437.3" cy="425.0" r="1.9"/>
<path class="rts" d="M426.9 457.2L437.3 467.6"/>
<path class="rts" d="M426.9 467.6L437.3 457.2"/>
<circle class="rt" cx="432.1" cy="462.4" r="3.6"/>
<circle class="ch" cx="426.9" cy="457.2" r="1.9"/>
<circle class="ch" cx="426.9" cy="467.6" r="1.9"/>
<circle class="ch" cx="437.3" cy="457.2" r="1.9"/>
<circle class="ch" cx="437.3" cy="467.6" r="1.9"/>
<path class="rts" d="M426.9 478.9L437.3 489.3"/>
<path class="rts" d="M426.9 489.3L437.3 478.9"/>
<circle class="rt" cx="432.1" cy="484.1" r="3.6"/>
<circle class="ch" cx="426.9" cy="478.9" r="1.9"/>
<circle class="ch" cx="426.9" cy="489.3" r="1.9"/>
<circle class="ch" cx="437.3" cy="478.9" r="1.9"/>
<circle class="ch" cx="437.3" cy="489.3" r="1.9"/>
<rect class="tbx" x="264.5" y="360.5" width="11.0" height="6.3"/>
<rect class="tbx" x="277.5" y="348.5" width="6.3" height="11.0"/>
<rect class="tbx" x="374.3" y="360.5" width="11.0" height="6.3"/>
<rect class="tbx" x="366.5" y="348.5" width="6.3" height="11.0"/>
<ellipse class="ch" cx="267.5" cy="370.0" rx="2.1" ry="2.7"/>
<ellipse class="ch" cx="272.5" cy="370.0" rx="2.1" ry="2.7"/>
<ellipse class="ch" cx="377.5" cy="370.0" rx="2.1" ry="2.7"/>
<ellipse class="ch" cx="382.5" cy="370.0" rx="2.1" ry="2.7"/>
<ellipse class="ch" cx="274.0" cy="351.5" rx="2.7" ry="2.1"/>
<ellipse class="ch" cx="287.0" cy="351.5" rx="2.7" ry="2.1"/>
<ellipse class="ch" cx="287.0" cy="356.5" rx="2.7" ry="2.1"/>
<ellipse class="ch" cx="363.2" cy="351.5" rx="2.7" ry="2.1"/>
<ellipse class="ch" cx="376.2" cy="351.5" rx="2.7" ry="2.1"/>
<ellipse class="ch" cx="363.2" cy="356.5" rx="2.7" ry="2.1"/>
<ellipse class="ch" cx="270.0" cy="357.5" rx="2.1" ry="2.7"/>
<ellipse class="ch" cx="380.0" cy="357.5" rx="2.1" ry="2.7"/>
<rect class="tbx" x="264.5" y="440.0" width="11.0" height="6.3"/>
<rect class="tbx" x="277.5" y="446.7" width="6.3" height="11.0"/>
<rect class="tbx" x="374.3" y="440.0" width="11.0" height="6.3"/>
<rect class="tbx" x="366.5" y="446.7" width="6.3" height="11.0"/>
<ellipse class="ch" cx="267.5" cy="436.8" rx="2.1" ry="2.7"/>
<ellipse class="ch" cx="272.5" cy="436.8" rx="2.1" ry="2.7"/>
<ellipse class="ch" cx="377.5" cy="436.8" rx="2.1" ry="2.7"/>
<ellipse class="ch" cx="382.5" cy="436.8" rx="2.1" ry="2.7"/>
<ellipse class="ch" cx="274.0" cy="454.7" rx="2.7" ry="2.1"/>
<ellipse class="ch" cx="287.0" cy="454.7" rx="2.7" ry="2.1"/>
<ellipse class="ch" cx="287.0" cy="449.7" rx="2.7" ry="2.1"/>
<ellipse class="ch" cx="363.2" cy="454.7" rx="2.7" ry="2.1"/>
<ellipse class="ch" cx="376.2" cy="454.7" rx="2.7" ry="2.1"/>
<ellipse class="ch" cx="363.2" cy="449.7" rx="2.7" ry="2.1"/>
<ellipse class="ch" cx="270.0" cy="449.5" rx="2.1" ry="2.7"/>
<ellipse class="ch" cx="380.0" cy="449.5" rx="2.1" ry="2.7"/>
<circle class="k" cx="279.6" cy="363.0" r="3.5"/>
<circle class="k" cx="282.9" cy="363.0" r="1.2"/>
<circle class="k" cx="282.3" cy="364.9" r="1.2"/>
<circle class="k" cx="280.6" cy="366.1" r="1.2"/>
<circle class="k" cx="278.6" cy="366.1" r="1.2"/>
<circle class="k" cx="276.9" cy="364.9" r="1.2"/>
<circle class="k" cx="276.3" cy="363.0" r="1.2"/>
<circle class="k" cx="276.9" cy="361.1" r="1.2"/>
<circle class="k" cx="278.6" cy="359.9" r="1.2"/>
<circle class="k" cx="280.6" cy="359.9" r="1.2"/>
<circle class="k" cx="282.3" cy="361.1" r="1.2"/>
<circle class="k" cx="324.8" cy="360.5" r="3.5"/>
<circle class="k" cx="328.1" cy="360.5" r="1.2"/>
<circle class="k" cx="327.5" cy="362.4" r="1.2"/>
<circle class="k" cx="325.8" cy="363.6" r="1.2"/>
<circle class="k" cx="323.8" cy="363.6" r="1.2"/>
<circle class="k" cx="322.1" cy="362.4" r="1.2"/>
<circle class="k" cx="321.5" cy="360.5" r="1.2"/>
<circle class="k" cx="322.1" cy="358.6" r="1.2"/>
<circle class="k" cx="323.8" cy="357.4" r="1.2"/>
<circle class="k" cx="325.8" cy="357.4" r="1.2"/>
<circle class="k" cx="327.5" cy="358.6" r="1.2"/>
<circle class="k" cx="370.0" cy="363.0" r="3.5"/>
<circle class="k" cx="373.3" cy="363.0" r="1.2"/>
<circle class="k" cx="372.7" cy="364.9" r="1.2"/>
<circle class="k" cx="371.0" cy="366.1" r="1.2"/>
<circle class="k" cx="369.0" cy="366.1" r="1.2"/>
<circle class="k" cx="367.3" cy="364.9" r="1.2"/>
<circle class="k" cx="366.7" cy="363.0" r="1.2"/>
<circle class="k" cx="367.3" cy="361.1" r="1.2"/>
<circle class="k" cx="369.0" cy="359.9" r="1.2"/>
<circle class="k" cx="371.0" cy="359.9" r="1.2"/>
<circle class="k" cx="372.7" cy="361.1" r="1.2"/>
<circle class="k" cx="324.8" cy="403.6" r="3.5"/>
<circle class="k" cx="328.1" cy="403.6" r="1.2"/>
<circle class="k" cx="327.5" cy="405.5" r="1.2"/>
<circle class="k" cx="325.8" cy="406.7" r="1.2"/>
<circle class="k" cx="323.8" cy="406.7" r="1.2"/>
<circle class="k" cx="322.1" cy="405.5" r="1.2"/>
<circle class="k" cx="321.5" cy="403.6" r="1.2"/>
<circle class="k" cx="322.1" cy="401.7" r="1.2"/>
<circle class="k" cx="323.8" cy="400.5" r="1.2"/>
<circle class="k" cx="325.8" cy="400.5" r="1.2"/>
<circle class="k" cx="327.5" cy="401.7" r="1.2"/>
<circle class="k" cx="279.6" cy="443.0" r="3.5"/>
<circle class="k" cx="282.9" cy="443.0" r="1.2"/>
<circle class="k" cx="282.3" cy="444.9" r="1.2"/>
<circle class="k" cx="280.6" cy="446.1" r="1.2"/>
<circle class="k" cx="278.6" cy="446.1" r="1.2"/>
<circle class="k" cx="276.9" cy="444.9" r="1.2"/>
<circle class="k" cx="276.3" cy="443.0" r="1.2"/>
<circle class="k" cx="276.9" cy="441.1" r="1.2"/>
<circle class="k" cx="278.6" cy="439.9" r="1.2"/>
<circle class="k" cx="280.6" cy="439.9" r="1.2"/>
<circle class="k" cx="282.3" cy="441.1" r="1.2"/>
<circle class="k" cx="324.8" cy="446.0" r="3.5"/>
<circle class="k" cx="328.1" cy="446.0" r="1.2"/>
<circle class="k" cx="327.5" cy="447.9" r="1.2"/>
<circle class="k" cx="325.8" cy="449.1" r="1.2"/>
<circle class="k" cx="323.8" cy="449.1" r="1.2"/>
<circle class="k" cx="322.1" cy="447.9" r="1.2"/>
<circle class="k" cx="321.5" cy="446.0" r="1.2"/>
<circle class="k" cx="322.1" cy="444.1" r="1.2"/>
<circle class="k" cx="323.8" cy="442.9" r="1.2"/>
<circle class="k" cx="325.8" cy="442.9" r="1.2"/>
<circle class="k" cx="327.5" cy="444.1" r="1.2"/>
<circle class="k" cx="370.0" cy="443.0" r="3.5"/>
<circle class="k" cx="373.3" cy="443.0" r="1.2"/>
<circle class="k" cx="372.7" cy="444.9" r="1.2"/>
<circle class="k" cx="371.0" cy="446.1" r="1.2"/>
<circle class="k" cx="369.0" cy="446.1" r="1.2"/>
<circle class="k" cx="367.3" cy="444.9" r="1.2"/>
<circle class="k" cx="366.7" cy="443.0" r="1.2"/>
<circle class="k" cx="367.3" cy="441.1" r="1.2"/>
<circle class="k" cx="369.0" cy="439.9" r="1.2"/>
<circle class="k" cx="371.0" cy="439.9" r="1.2"/>
<circle class="k" cx="372.7" cy="441.1" r="1.2"/>
<rect class="tbx" x="250.2" y="476.3" width="12.2" height="6.6"/>
<ellipse class="ch" cx="253.2" cy="473.1" rx="2.1" ry="2.7"/>
<ellipse class="ch" cx="253.2" cy="486.1" rx="2.1" ry="2.7"/>
<ellipse class="ch" cx="259.3" cy="473.1" rx="2.1" ry="2.7"/>
<ellipse class="ch" cx="259.3" cy="486.1" rx="2.1" ry="2.7"/>
<rect class="tbx" x="262.4" y="476.3" width="12.2" height="6.6"/>
<ellipse class="ch" cx="265.4" cy="473.1" rx="2.1" ry="2.7"/>
<ellipse class="ch" cx="265.4" cy="486.1" rx="2.1" ry="2.7"/>
<ellipse class="ch" cx="271.5" cy="473.1" rx="2.1" ry="2.7"/>
<ellipse class="ch" cx="271.5" cy="486.1" rx="2.1" ry="2.7"/>
<rect class="tbx" x="295.8" y="476.3" width="12.2" height="6.6"/>
<ellipse class="ch" cx="298.9" cy="473.1" rx="2.1" ry="2.7"/>
<ellipse class="ch" cx="298.9" cy="486.1" rx="2.1" ry="2.7"/>
<ellipse class="ch" cx="304.9" cy="473.1" rx="2.1" ry="2.7"/>
<ellipse class="ch" cx="304.9" cy="486.1" rx="2.1" ry="2.7"/>
<rect class="tbx" x="308.0" y="476.3" width="12.2" height="6.6"/>
<ellipse class="ch" cx="311.1" cy="473.1" rx="2.1" ry="2.7"/>
<ellipse class="ch" cx="311.1" cy="486.1" rx="2.1" ry="2.7"/>
<ellipse class="ch" cx="317.1" cy="473.1" rx="2.1" ry="2.7"/>
<ellipse class="ch" cx="317.1" cy="486.1" rx="2.1" ry="2.7"/>
<rect class="tbx" x="329.5" y="476.3" width="12.2" height="6.6"/>
<ellipse class="ch" cx="332.6" cy="473.1" rx="2.1" ry="2.7"/>
<ellipse class="ch" cx="332.6" cy="486.1" rx="2.1" ry="2.7"/>
<ellipse class="ch" cx="338.6" cy="473.1" rx="2.1" ry="2.7"/>
<ellipse class="ch" cx="338.6" cy="486.1" rx="2.1" ry="2.7"/>
<rect class="tbx" x="341.7" y="476.3" width="12.2" height="6.6"/>
<ellipse class="ch" cx="344.8" cy="473.1" rx="2.1" ry="2.7"/>
<ellipse class="ch" cx="344.8" cy="486.1" rx="2.1" ry="2.7"/>
<ellipse class="ch" cx="350.8" cy="473.1" rx="2.1" ry="2.7"/>
<ellipse class="ch" cx="350.8" cy="486.1" rx="2.1" ry="2.7"/>
<rect class="tbx" x="375.7" y="476.3" width="12.2" height="6.6"/>
<ellipse class="ch" cx="378.8" cy="473.1" rx="2.1" ry="2.7"/>
<ellipse class="ch" cx="378.8" cy="486.1" rx="2.1" ry="2.7"/>
<ellipse class="ch" cx="384.8" cy="473.1" rx="2.1" ry="2.7"/>
<ellipse class="ch" cx="384.8" cy="486.1" rx="2.1" ry="2.7"/>
<rect class="tbx" x="387.9" y="476.3" width="12.2" height="6.6"/>
<ellipse class="ch" cx="390.9" cy="473.1" rx="2.1" ry="2.7"/>
<ellipse class="ch" cx="390.9" cy="486.1" rx="2.1" ry="2.7"/>
<ellipse class="ch" cx="397.0" cy="473.1" rx="2.1" ry="2.7"/>
<ellipse class="ch" cx="397.0" cy="486.1" rx="2.1" ry="2.7"/>
<rect class="lt" x="420.5" y="343.6" width="19.0" height="6.4"/>
<rect class="lt" x="420.5" y="446.7" width="19.0" height="6.0"/>
<path class="k" d="M449 335L455 331.5V338.5Z"/>
<path d="M458.37 333.74h3.86M458.75 334.98h3.09M458.37 336.71h3.86M460.30 333.04v3.86M461.27 333.74v3.01M462.97 333.74h3.86M463.35 334.98h3.09M462.97 336.71h3.86M464.90 333.04v3.86M465.36 333.74v3.01M467.57 333.74h3.86M467.95 334.98h3.09M467.57 336.71h3.86M468.73 333.04v3.86M470.47 333.74v3.01M472.17 333.74h3.86M472.55 334.98h3.09M472.17 336.71h3.86M474.10 333.04v3.86M475.07 333.74v3.01" style="stroke:#444;stroke-width:0.71;fill:none"/>
<path class="fl" d="M443 329Q449 331 449 335M443 341Q449 339 449 335"/>
<path class="k" d="M449 438.3L455 434.8V441.8Z"/>
<path d="M458.37 437.04h3.86M458.75 438.28h3.09M458.37 440.01h3.86M460.30 436.34v3.86M461.27 437.04v3.01M462.97 437.04h3.86M463.35 438.28h3.09M462.97 440.01h3.86M464.90 436.34v3.86M465.36 437.04v3.01M467.57 437.04h3.86M467.95 438.28h3.09M467.57 440.01h3.86M468.73 436.34v3.86M470.47 437.04v3.01M472.17 437.04h3.86M472.55 438.28h3.09M472.17 440.01h3.86M474.10 436.34v3.86M475.07 437.04v3.01" style="stroke:#444;stroke-width:0.71;fill:none"/>
<path class="fl" d="M443 432.3Q449 434.3 449 438.3M443 444.3Q449 442.3 449 438.3"/>
<rect class="w" x="393.5" y="246.0" width="10.5" height="6.0"/>
<path class="w" d="M394 254H404V265H395Z"/>
<rect class="w" x="394.0" y="268.0" width="10.0" height="3.5"/>
<circle class="fxo" cx="381.0" cy="194.0" r="1.7"/>
<circle class="fxo" cx="386.0" cy="194.0" r="1.7"/>
<circle class="fxo" cx="382.0" cy="203.0" r="1.7"/>
<circle class="fxo" cx="389.0" cy="206.0" r="1.7"/>
<circle class="fxo" cx="383.0" cy="232.0" r="1.7"/>
<circle class="fxo" cx="388.0" cy="236.0" r="1.7"/>
<circle class="fxo" cx="394.0" cy="233.0" r="1.7"/>
<circle class="fxo" cx="399.0" cy="229.0" r="1.7"/>
<circle class="fxo" cx="385.0" cy="240.0" r="1.7"/>
<circle class="fxo" cx="399.0" cy="241.0" r="1.7"/>
<rect class="f" x="380.0" y="229.0" width="6.0" height="9.0"/>
<rect class="f" x="388.0" y="222.0" width="6.0" height="5.0"/>
<path class="f" d="M396 210L402 216M396 222L402 228"/>
<circle class="kgc" cx="397.0" cy="211.0" r="1.2"/>
<circle class="kgc" cx="397.0" cy="214.6" r="1.2"/>
<circle class="kgc" cx="397.0" cy="218.2" r="1.2"/>
<circle class="kgc" cx="397.0" cy="221.8" r="1.2"/>
<circle class="kgc" cx="397.0" cy="225.4" r="1.2"/>
<circle class="kgc" cx="397.0" cy="229.0" r="1.2"/>
<circle class="kgc" cx="397.0" cy="232.6" r="1.2"/>
<circle class="kgc" cx="397.0" cy="236.2" r="1.2"/>
<path d="M251.25 156.38h2.10M251.25 157.42h2.10M252.30 155.85v2.10M253.75 156.38h2.10M253.75 157.42h2.10M254.80 155.85v2.10M256.25 156.38h2.10M256.25 157.42h2.10M257.30 155.85v2.10" style="stroke:#444;stroke-width:0.38;fill:none"/>
<path d="M252.78 159.57h1.85M252.78 160.49h1.85M253.70 159.11v1.85M254.98 159.57h1.85M254.98 160.49h1.85M255.90 159.11v1.85" style="stroke:#444;stroke-width:0.35;fill:none"/>
<path d="M269.85 149.38h2.10M269.85 150.42h2.10M270.90 148.85v2.10M272.35 149.38h2.10M272.35 150.42h2.10M273.40 148.85v2.10M274.85 149.38h2.10M274.85 150.42h2.10M275.90 148.85v2.10" style="stroke:#444;stroke-width:0.38;fill:none"/>
<path d="M271.38 152.57h1.85M271.38 153.49h1.85M272.30 152.11v1.85M273.58 152.57h1.85M273.58 153.49h1.85M274.50 152.11v1.85" style="stroke:#444;stroke-width:0.35;fill:none"/>
<path d="M266.35 160.38h2.10M266.35 161.42h2.10M267.40 159.85v2.10M268.85 160.38h2.10M268.85 161.42h2.10M269.90 159.85v2.10M271.35 160.38h2.10M271.35 161.42h2.10M272.40 159.85v2.10M273.85 160.38h2.10M273.85 161.42h2.10M274.90 159.85v2.10M276.35 160.38h2.10M276.35 161.42h2.10M277.40 159.85v2.10" style="stroke:#444;stroke-width:0.38;fill:none"/>
<path d="M270.38 163.57h1.85M270.38 164.49h1.85M271.30 163.11v1.85M272.58 163.57h1.85M272.58 164.49h1.85M273.50 163.11v1.85" style="stroke:#444;stroke-width:0.35;fill:none"/>
<path d="M301.45 156.38h2.10M301.45 157.42h2.10M302.50 155.85v2.10M303.95 156.38h2.10M303.95 157.42h2.10M305.00 155.85v2.10M306.45 156.38h2.10M306.45 157.42h2.10M307.50 155.85v2.10" style="stroke:#444;stroke-width:0.38;fill:none"/>
<path d="M302.98 159.57h1.85M302.98 160.49h1.85M303.90 159.11v1.85M305.18 159.57h1.85M305.18 160.49h1.85M306.10 159.11v1.85" style="stroke:#444;stroke-width:0.35;fill:none"/>
<path d="M346.45 156.38h2.10M346.45 157.42h2.10M347.50 155.85v2.10M348.95 156.38h2.10M348.95 157.42h2.10M350.00 155.85v2.10M351.45 156.38h2.10M351.45 157.42h2.10M352.50 155.85v2.10" style="stroke:#444;stroke-width:0.38;fill:none"/>
<path d="M347.98 159.57h1.85M347.98 160.49h1.85M348.90 159.11v1.85M350.18 159.57h1.85M350.18 160.49h1.85M351.10 159.11v1.85" style="stroke:#444;stroke-width:0.35;fill:none"/>
<path d="M367.45 156.38h2.10M367.45 157.42h2.10M368.50 155.85v2.10M369.95 156.38h2.10M369.95 157.42h2.10M371.00 155.85v2.10M372.45 156.38h2.10M372.45 157.42h2.10M373.50 155.85v2.10" style="stroke:#444;stroke-width:0.38;fill:none"/>
<path d="M368.98 159.57h1.85M368.98 160.49h1.85M369.90 159.11v1.85M371.18 159.57h1.85M371.18 160.49h1.85M372.10 159.11v1.85" style="stroke:#444;stroke-width:0.35;fill:none"/>
<path d="M416.00 156.88h2.10M416.00 157.92h2.10M417.05 156.35v2.10M418.50 156.88h2.10M418.50 157.92h2.10M419.55 156.35v2.10M421.00 156.88h2.10M421.00 157.92h2.10M422.05 156.35v2.10M423.50 156.88h2.10M423.50 157.92h2.10M424.55 156.35v2.10" style="stroke:#444;stroke-width:0.38;fill:none"/>
<path d="M418.78 160.07h1.85M418.78 160.99h1.85M419.70 159.61v1.85M420.98 160.07h1.85M420.98 160.99h1.85M421.90 159.61v1.85" style="stroke:#444;stroke-width:0.35;fill:none"/>
<path d="M415.00 176.38h2.10M415.00 177.42h2.10M416.05 175.85v2.10M417.50 176.38h2.10M417.50 177.42h2.10M418.55 175.85v2.10M420.00 176.38h2.10M420.00 177.42h2.10M421.05 175.85v2.10M422.50 176.38h2.10M422.50 177.42h2.10M423.55 175.85v2.10" style="stroke:#444;stroke-width:0.38;fill:none"/>
<path d="M417.78 179.57h1.85M417.78 180.49h1.85M418.70 179.11v1.85M419.98 179.57h1.85M419.98 180.49h1.85M420.90 179.11v1.85" style="stroke:#444;stroke-width:0.35;fill:none"/>
<path d="M228.45 201.38h2.10M228.45 202.42h2.10M229.50 200.85v2.10M230.95 201.38h2.10M230.95 202.42h2.10M232.00 200.85v2.10M233.45 201.38h2.10M233.45 202.42h2.10M234.50 200.85v2.10" style="stroke:#444;stroke-width:0.38;fill:none"/>
<path d="M229.98 204.57h1.85M229.98 205.49h1.85M230.90 204.11v1.85M232.18 204.57h1.85M232.18 205.49h1.85M233.10 204.11v1.85" style="stroke:#444;stroke-width:0.35;fill:none"/>
<path d="M256.45 202.38h2.10M256.45 203.42h2.10M257.50 201.85v2.10M258.95 202.38h2.10M258.95 203.42h2.10M260.00 201.85v2.10M261.45 202.38h2.10M261.45 203.42h2.10M262.50 201.85v2.10" style="stroke:#444;stroke-width:0.38;fill:none"/>
<path d="M257.98 205.57h1.85M257.98 206.49h1.85M258.90 205.11v1.85M260.18 205.57h1.85M260.18 206.49h1.85M261.10 205.11v1.85" style="stroke:#444;stroke-width:0.35;fill:none"/>
<path d="M256.45 229.38h2.10M256.45 230.42h2.10M257.50 228.85v2.10M258.95 229.38h2.10M258.95 230.42h2.10M260.00 228.85v2.10M261.45 229.38h2.10M261.45 230.42h2.10M262.50 228.85v2.10" style="stroke:#444;stroke-width:0.38;fill:none"/>
<path d="M257.98 232.57h1.85M257.98 233.49h1.85M258.90 232.11v1.85M260.18 232.57h1.85M260.18 233.49h1.85M261.10 232.11v1.85" style="stroke:#444;stroke-width:0.35;fill:none"/>
<path d="M294.70 203.88h2.10M294.70 204.92h2.10M295.75 203.35v2.10M297.20 203.88h2.10M297.20 204.92h2.10M298.25 203.35v2.10M299.70 203.88h2.10M299.70 204.92h2.10M300.75 203.35v2.10M302.20 203.88h2.10M302.20 204.92h2.10M303.25 203.35v2.10M304.70 203.88h2.10M304.70 204.92h2.10M305.75 203.35v2.10M307.20 203.88h2.10M307.20 204.92h2.10M308.25 203.35v2.10" style="stroke:#444;stroke-width:0.38;fill:none"/>
<path d="M299.98 207.07h1.85M299.98 207.99h1.85M300.90 206.61v1.85M302.18 207.07h1.85M302.18 207.99h1.85M303.10 206.61v1.85" style="stroke:#444;stroke-width:0.35;fill:none"/>
<path d="M341.20 203.88h2.10M341.20 204.92h2.10M342.25 203.35v2.10M343.70 203.88h2.10M343.70 204.92h2.10M344.75 203.35v2.10M346.20 203.88h2.10M346.20 204.92h2.10M347.25 203.35v2.10M348.70 203.88h2.10M348.70 204.92h2.10M349.75 203.35v2.10" style="stroke:#444;stroke-width:0.38;fill:none"/>
<path d="M343.98 207.07h1.85M343.98 207.99h1.85M344.90 206.61v1.85M346.18 207.07h1.85M346.18 207.99h1.85M347.10 206.61v1.85" style="stroke:#444;stroke-width:0.35;fill:none"/>
<path d="M298.45 227.38h2.10M298.45 228.42h2.10M299.50 226.85v2.10M300.95 227.38h2.10M300.95 228.42h2.10M302.00 226.85v2.10M303.45 227.38h2.10M303.45 228.42h2.10M304.50 226.85v2.10" style="stroke:#444;stroke-width:0.38;fill:none"/>
<path d="M299.98 230.57h1.85M299.98 231.49h1.85M300.90 230.11v1.85M302.18 230.57h1.85M302.18 231.49h1.85M303.10 230.11v1.85" style="stroke:#444;stroke-width:0.35;fill:none"/>
<path d="M337.95 226.88h2.10M337.95 227.92h2.10M339.00 226.35v2.10M340.45 226.88h2.10M340.45 227.92h2.10M341.50 226.35v2.10M342.95 226.88h2.10M342.95 227.92h2.10M344.00 226.35v2.10M345.45 226.88h2.10M345.45 227.92h2.10M346.50 226.35v2.10M347.95 226.88h2.10M347.95 227.92h2.10M349.00 226.35v2.10" style="stroke:#444;stroke-width:0.38;fill:none"/>
<path d="M341.98 230.07h1.85M341.98 230.99h1.85M342.90 229.61v1.85M344.18 230.07h1.85M344.18 230.99h1.85M345.10 229.61v1.85" style="stroke:#444;stroke-width:0.35;fill:none"/>
<path d="M380.45 204.38h2.10M380.45 205.42h2.10M381.50 203.85v2.10M382.95 204.38h2.10M382.95 205.42h2.10M384.00 203.85v2.10M385.45 204.38h2.10M385.45 205.42h2.10M386.50 203.85v2.10" style="stroke:#444;stroke-width:0.38;fill:none"/>
<path d="M381.98 207.57h1.85M381.98 208.49h1.85M382.90 207.11v1.85M384.18 207.57h1.85M384.18 208.49h1.85M385.10 207.11v1.85" style="stroke:#444;stroke-width:0.35;fill:none"/>
<path d="M227.45 254.38h2.10M227.45 255.42h2.10M228.50 253.85v2.10M229.95 254.38h2.10M229.95 255.42h2.10M231.00 253.85v2.10M232.45 254.38h2.10M232.45 255.42h2.10M233.50 253.85v2.10" style="stroke:#444;stroke-width:0.38;fill:none"/>
<path d="M228.98 257.57h1.85M228.98 258.49h1.85M229.90 257.11v1.85M231.18 257.57h1.85M231.18 258.49h1.85M232.10 257.11v1.85" style="stroke:#444;stroke-width:0.35;fill:none"/>
<path d="M428.70 268.38h2.10M428.70 269.43h2.10M429.75 267.85v2.10M431.20 268.38h2.10M431.20 269.43h2.10M432.25 267.85v2.10" style="stroke:#444;stroke-width:0.38;fill:none"/>
<path d="M428.98 271.57h1.85M428.98 272.49h1.85M429.90 271.11v1.85M431.18 271.57h1.85M431.18 272.49h1.85M432.10 271.11v1.85" style="stroke:#444;stroke-width:0.35;fill:none"/>
<path d="M428.70 311.38h2.10M428.70 312.43h2.10M429.75 310.85v2.10M431.20 311.38h2.10M431.20 312.43h2.10M432.25 310.85v2.10" style="stroke:#444;stroke-width:0.38;fill:none"/>
<path d="M428.98 314.57h1.85M428.98 315.49h1.85M429.90 314.11v1.85M431.18 314.57h1.85M431.18 315.49h1.85M432.10 314.11v1.85" style="stroke:#444;stroke-width:0.35;fill:none"/>
<path d="M388.70 302.38h2.10M388.70 303.43h2.10M389.75 301.85v2.10M391.20 302.38h2.10M391.20 303.43h2.10M392.25 301.85v2.10" style="stroke:#444;stroke-width:0.38;fill:none"/>
<path d="M388.98 305.57h1.85M388.98 306.49h1.85M389.90 305.11v1.85M391.18 305.57h1.85M391.18 306.49h1.85M392.10 305.11v1.85" style="stroke:#444;stroke-width:0.35;fill:none"/>
<path d="M322.70 349.88h2.10M322.70 350.93h2.10M323.75 349.35v2.10M325.20 349.88h2.10M325.20 350.93h2.10M326.25 349.35v2.10" style="stroke:#444;stroke-width:0.38;fill:none"/>
<path d="M322.98 353.07h1.85M322.98 353.99h1.85M323.90 352.61v1.85M325.18 353.07h1.85M325.18 353.99h1.85M326.10 352.61v1.85" style="stroke:#444;stroke-width:0.35;fill:none"/>
<rect class="f" x="247.0" y="301.0" width="3.5" height="2.2"/>
<rect class="f" x="250.0" y="310.0" width="3.5" height="2.2"/>
<rect class="f" x="258.0" y="300.0" width="3.5" height="2.2"/>
<rect class="f" x="272.0" y="296.0" width="3.5" height="2.2"/>
<rect class="f" x="278.0" y="300.0" width="3.5" height="2.2"/>
<rect class="f" x="283.0" y="315.0" width="3.5" height="2.2"/>
<rect class="f" x="300.0" y="300.0" width="3.5" height="2.2"/>
<rect class="f" x="315.0" y="300.0" width="3.5" height="2.2"/>
<rect class="f" x="322.0" y="312.0" width="3.5" height="2.2"/>
<rect class="f" x="335.0" y="300.0" width="3.5" height="2.2"/>
<rect class="f" x="347.0" y="300.0" width="3.5" height="2.2"/>
<rect class="f" x="350.0" y="312.0" width="3.5" height="2.2"/>
<rect class="f" x="360.0" y="300.0" width="3.5" height="2.2"/>
<rect class="f" x="372.0" y="300.0" width="3.5" height="2.2"/>
<rect class="f" x="379.0" y="298.0" width="3.5" height="2.2"/>
<rect class="f" x="392.0" y="300.0" width="3.5" height="2.2"/>
<rect class="f" x="296.0" y="247.0" width="4.0" height="3.0"/>
<rect class="f" x="303.0" y="247.0" width="4.0" height="3.0"/>
<rect class="f" x="311.0" y="249.0" width="4.0" height="3.0"/>
<rect class="f" x="319.0" y="247.0" width="4.0" height="3.0"/>
<rect class="f" x="346.0" y="258.0" width="4.0" height="3.0"/>
<rect class="f" x="353.0" y="258.0" width="4.0" height="3.0"/>
<rect class="f" x="361.0" y="247.0" width="4.0" height="3.0"/>
<circle class="fxo" cx="298.0" cy="272.0" r="1.3"/>
<circle class="fxo" cx="310.0" cy="273.5" r="1.3"/>
<circle class="fxo" cx="322.0" cy="272.0" r="1.3"/>
<circle class="fxo" cx="334.0" cy="273.5" r="1.3"/>
<circle class="fxo" cx="346.0" cy="272.0" r="1.3"/>
<circle class="fxo" cx="358.0" cy="273.5" r="1.3"/>
<circle class="fxo" cx="303.0" cy="297.0" r="1.3"/>
<circle class="fxo" cx="311.0" cy="300.0" r="1.3"/>
<circle class="fxo" cx="327.0" cy="297.0" r="1.3"/>
<circle class="fxo" cx="343.0" cy="297.0" r="1.3"/>
<circle class="fxo" cx="351.0" cy="300.0" r="1.3"/>
<circle class="fxo" cx="366.0" cy="297.0" r="1.3"/>
<path class="w" d="M513.7 161.8L839.5 161.8"/>
<path class="w" d="M513.7 161.8L513.7 304.7"/>
<path class="w" d="M839.5 161.8L839.5 236.5"/>
<path class="w" d="M839.5 236.5L897.3 236.5"/>
<path class="f" d="M840.0 238.0L897.0 238.0"/>
<path class="w" d="M888.6 237A4.2 2.8 0 0 0 897 237"/>
<path class="w" d="M513.7 304.7H805.6"/>
<path class="w2" d="M805.6 304.7Q826 305 838.5 328.5"/>
<path class="f" d="M515.5 163.4L838.0 163.4"/>
<path class="f" d="M515.3 163.4L515.3 303.0"/>
<path class="f" d="M515.3 303.0L805.0 303.0"/>
<circle class="k" cx="514.1" cy="161.8" r="1.5"/>
<circle class="k" cx="519.8" cy="161.8" r="1.5"/>
<circle class="k" cx="528.2" cy="161.8" r="1.5"/>
<circle class="k" cx="536.2" cy="161.8" r="1.5"/>
<circle class="k" cx="545.5" cy="161.8" r="1.5"/>
<circle class="k" cx="562.0" cy="161.8" r="1.5"/>
<circle class="k" cx="578.1" cy="161.8" r="1.5"/>
<circle class="k" cx="586.6" cy="161.8" r="1.5"/>
<circle class="k" cx="600.6" cy="161.8" r="1.5"/>
<circle class="k" cx="608.8" cy="161.8" r="1.5"/>
<circle class="k" cx="624.8" cy="161.8" r="1.5"/>
<circle class="k" cx="641.1" cy="161.8" r="1.5"/>
<circle class="k" cx="657.6" cy="161.8" r="1.5"/>
<circle class="k" cx="666.0" cy="161.8" r="1.5"/>
<circle class="k" cx="682.4" cy="161.8" r="1.5"/>
<circle class="k" cx="698.7" cy="161.8" r="1.5"/>
<circle class="k" cx="715.0" cy="161.8" r="1.5"/>
<circle class="k" cx="723.7" cy="161.8" r="1.5"/>
<circle class="k" cx="739.9" cy="161.8" r="1.5"/>
<circle class="k" cx="755.9" cy="161.8" r="1.5"/>
<circle class="k" cx="772.2" cy="161.8" r="1.5"/>
<circle class="k" cx="780.7" cy="161.8" r="1.5"/>
<circle class="k" cx="797.0" cy="161.8" r="1.5"/>
<circle class="k" cx="813.3" cy="161.8" r="1.5"/>
<circle class="k" cx="830.0" cy="161.8" r="1.5"/>
<circle class="k" cx="839.3" cy="161.8" r="1.5"/>
<circle class="k" cx="513.7" cy="167.4" r="1.4"/>
<circle class="k" cx="513.7" cy="178.7" r="1.4"/>
<circle class="k" cx="513.7" cy="194.1" r="1.4"/>
<circle class="k" cx="513.7" cy="209.6" r="1.4"/>
<circle class="k" cx="513.7" cy="225.0" r="1.4"/>
<circle class="k" cx="513.7" cy="232.8" r="1.4"/>
<circle class="k" cx="513.7" cy="241.3" r="1.4"/>
<circle class="k" cx="513.7" cy="255.0" r="1.4"/>
<circle class="k" cx="513.7" cy="270.0" r="1.4"/>
<circle class="k" cx="513.7" cy="285.5" r="1.4"/>
<circle class="k" cx="513.7" cy="295.0" r="1.4"/>
<circle class="k" cx="513.7" cy="304.5" r="1.4"/>
<circle class="k" cx="514.1" cy="304.7" r="1.5"/>
<circle class="k" cx="525.4" cy="304.7" r="1.5"/>
<circle class="k" cx="533.8" cy="304.7" r="1.5"/>
<circle class="k" cx="550.0" cy="304.7" r="1.5"/>
<circle class="k" cx="566.9" cy="304.7" r="1.5"/>
<circle class="k" cx="583.0" cy="304.7" r="1.5"/>
<circle class="k" cx="591.5" cy="304.7" r="1.5"/>
<circle class="k" cx="605.1" cy="304.7" r="1.5"/>
<circle class="k" cx="613.7" cy="304.7" r="1.5"/>
<circle class="k" cx="689.3" cy="304.7" r="1.5"/>
<circle class="k" cx="705.6" cy="304.7" r="1.5"/>
<circle class="k" cx="721.9" cy="304.7" r="1.5"/>
<circle class="k" cx="739.9" cy="304.7" r="1.5"/>
<circle class="k" cx="748.3" cy="304.7" r="1.5"/>
<circle class="k" cx="764.0" cy="304.7" r="1.5"/>
<circle class="k" cx="772.5" cy="304.7" r="1.5"/>
<circle class="k" cx="789.3" cy="304.7" r="1.5"/>
<circle class="k" cx="805.6" cy="304.7" r="1.5"/>
<circle class="k" cx="625.0" cy="304.7" r="1.5"/>
<circle class="k" cx="633.5" cy="304.7" r="1.5"/>
<circle class="k" cx="641.9" cy="304.7" r="1.5"/>
<circle class="k" cx="658.0" cy="304.7" r="1.5"/>
<circle class="k" cx="666.5" cy="304.7" r="1.5"/>
<circle class="k" cx="839.7" cy="175.6" r="1.4"/>
<circle class="k" cx="839.7" cy="183.8" r="1.4"/>
<circle class="k" cx="839.7" cy="199.4" r="1.4"/>
<circle class="k" cx="839.7" cy="207.5" r="1.4"/>
<circle class="k" cx="839.7" cy="223.9" r="1.4"/>
<circle class="k" cx="840.6" cy="236.5" r="1.4"/>
<circle class="k" cx="847.7" cy="236.5" r="1.4"/>
<circle class="k" cx="856.5" cy="236.5" r="1.4"/>
<circle class="k" cx="864.5" cy="236.5" r="1.4"/>
<circle class="k" cx="873.4" cy="236.5" r="1.4"/>
<circle class="k" cx="889.3" cy="236.5" r="1.4"/>
<circle class="k" cx="897.3" cy="236.5" r="1.4"/>
<circle class="k" cx="818.2" cy="309.6" r="1.5"/>
<circle class="k" cx="830.1" cy="317.8" r="1.5"/>
<circle class="k" cx="838.3" cy="328.2" r="1.5"/>
<circle class="k" cx="838.3" cy="320.7" r="2.7"/>
<path class="w" d="M578.1 161.8A4.2 2.6 0 0 0 586.5 161.8"/>
<path class="w" d="M715.1 161.8A4.2 2.6 0 0 0 723.5 161.8"/>
<path class="w" d="M772.2 161.8A4.2 2.6 0 0 0 780.6 161.8"/>
<path class="w" d="M657.8 161.8A4.2 2.6 0 0 0 666.2 161.8"/>
<path class="w" d="M525.4 304.7A4.2 2.6 0 0 1 533.8 304.7"/>
<path class="w" d="M583.0 304.7A4.2 2.6 0 0 1 591.4 304.7"/>
<path class="w" d="M689.3 304.7A4.2 2.6 0 0 1 697.7 304.7"/>
<path class="w" d="M739.8 304.7A4.2 2.6 0 0 1 748.2 304.7"/>
<path class="w" d="M764.0 304.7A4.2 2.6 0 0 1 772.4 304.7"/>
<path class="w" d="M658.1 304.7A4.2 2.6 0 0 1 666.5 304.7"/>
<rect class="k" x="515.3" y="166.1" width="4.9" height="7.4"/>
<rect class="k" x="515.3" y="242.1" width="4.9" height="7.8"/>
<rect class="k" x="515.3" y="296.0" width="4.9" height="7.2"/>
<rect class="k" x="595.0" y="166.1" width="4.9" height="7.4"/>
<rect class="k" x="595.0" y="242.1" width="4.9" height="7.8"/>
<rect class="k" x="595.0" y="296.0" width="4.9" height="7.2"/>
<rect class="k" x="674.5" y="166.1" width="4.9" height="7.4"/>
<rect class="k" x="674.5" y="242.1" width="4.9" height="7.8"/>
<rect class="k" x="674.5" y="296.0" width="4.9" height="7.2"/>
<rect class="k" x="753.8" y="166.1" width="4.9" height="7.4"/>
<rect class="k" x="753.8" y="242.1" width="4.9" height="7.8"/>
<rect class="k" x="753.8" y="296.0" width="4.9" height="7.2"/>
<rect class="k" x="833.4" y="166.1" width="4.9" height="7.4"/>
<rect class="k" x="833.4" y="242.1" width="4.9" height="7.8"/>
<rect class="k" x="833.4" y="296.0" width="4.9" height="7.2"/>
<rect class="k" x="540.8" y="166.0" width="4.9" height="4.7"/>
<rect class="k" x="515.3" y="219.6" width="4.9" height="4.9"/>
<rect class="k" x="540.8" y="219.6" width="4.9" height="4.9"/>
<rect class="gf" x="520.5" y="243.0" width="2.5" height="6.0"/>
<rect class="gf" x="600.0" y="243.0" width="4.5" height="6.0"/>
<rect class="gf" x="600.0" y="297.0" width="3.5" height="6.0"/>
<rect class="gf" x="833.5" y="283.0" width="5.0" height="13.0"/>
<path class="w" d="M545.8 163.2L545.8 224.0"/>
<path class="w" d="M517.7 224.1L551.0 224.1"/>
<rect class="fl" x="545.9" y="180.8" width="4.8" height="42.0"/>
<path class="fl" d="M545.9 189.2L550.7 189.2"/>
<path class="fl" d="M545.9 197.6L550.7 197.6"/>
<path class="fl" d="M545.9 206.0L550.7 206.0"/>
<path class="fl" d="M545.9 214.4L550.7 214.4"/>
<rect class="w" x="515.5" y="224.1" width="28.0" height="18.0"/>
<path class="w" d="M539.6 224.1L539.6 242.0"/>
<path class="f" d="M541.6 226.0L541.6 240.0"/>
<path class="fl" d="M505 227Q511 229 513 234Q511 239 505 241M505 227L513 234L505 241"/>
<path class="fl" d="M520.5 161V153.5L527.8 161M535.2 161V153.5L527.8 161"/>
<path class="k" d="M568 155.5H571.4L569.7 158.6Z"/>
<path class="k" d="M703.8 154.5H707.2L705.5 157.6Z"/>
<path class="w" d="M566.9 163.2L566.9 224.1"/>
<path class="wl" d="M566.9 224.1L679.0 224.1"/>
<rect class="w" x="567.6" y="165.0" width="4.9" height="21.0"/>
<path class="w" d="M567.6 175.5L572.5 175.5"/>
<rect class="w" x="573.2" y="165.0" width="4.9" height="21.7"/>
<path class="w" d="M573.2 175.8L578.1 175.8"/>
<rect class="w" x="567.6" y="187.0" width="4.9" height="36.0"/>
<path class="w" d="M567.6 196.0L572.5 196.0"/>
<path class="w" d="M567.6 205.0L572.5 205.0"/>
<path class="w" d="M567.6 214.0L572.5 214.0"/>
<rect class="w" x="573.2" y="192.7" width="4.9" height="30.5"/>
<path class="w" d="M573.2 202.9L578.1 202.9"/>
<path class="w" d="M573.2 213.0L578.1 213.0"/>
<path class="wl" d="M572.8 165.0L572.8 223.0"/>
<rect class="w" x="573.0" y="187.8" width="16.0" height="4.9"/>
<path class="f" d="M578.5 187.8L578.5 192.7"/>
<path class="f" d="M584.0 187.8L584.0 192.7"/>
<rect class="w" x="588.7" y="183.3" width="27.3" height="5.2"/>
<path class="f" d="M598.0 183.3L598.0 188.5"/>
<path class="f" d="M607.0 183.3L607.0 188.5"/>
<path class="wl" d="M588.7 187.0L616.0 187.0"/>
<rect class="m" x="589.4" y="188.5" width="13.3" height="17.5"/>
<rect class="lt" x="583.8" y="199.0" width="26.7" height="14.0"/>
<path class="fl" d="M589.4 194.0L602.7 194.0"/>
<path class="fl" d="M614 200.7L618 204.7L614 208.7L610 204.7Z"/>
<rect class="lt" x="612.5" y="203.2" width="3.0" height="3.0"/>
<rect class="fl" x="587.3" y="219.9" width="25.3" height="4.2"/>
<path class="fl" d="M593.6 219.9L593.6 224.1"/>
<path class="fl" d="M599.9 219.9L599.9 224.1"/>
<path class="fl" d="M606.3 219.9L606.3 224.1"/>
<circle class="fl" cx="605.2" cy="169.5" r="3.2"/>
<circle class="gf" cx="605.2" cy="169.5" r="1.2"/>
<path class="m" d="M589.0 174.0L600.0 174.0"/>
<path class="w2" d="M600.3 174.0L600.3 180.0"/>
<path class="dr" d="M629.3 224.1H620.8A8.5 8.5 0 0 1 629.3 215.6Z"/>
<rect class="m" x="627.4" y="164.5" width="5.6" height="58.5"/>
<path class="m" d="M627.4 171.0L633.0 171.0"/>
<path class="m" d="M627.4 177.5L633.0 177.5"/>
<path class="m" d="M627.4 184.0L633.0 184.0"/>
<path class="m" d="M627.4 190.5L633.0 190.5"/>
<path class="m" d="M627.4 197.0L633.0 197.0"/>
<path class="m" d="M627.4 203.5L633.0 203.5"/>
<path class="m" d="M627.4 210.0L633.0 210.0"/>
<path class="m" d="M627.4 216.5L633.0 216.5"/>
<path class="wl" d="M633.4 164.5L633.4 223.0"/>
<path class="wl2" d="M633.7 187.8Q637 190 637.2 199H652.7Q659 199.5 659 206V221"/>
<rect class="fl" x="634.4" y="166.7" width="10.6" height="16.9"/>
<path class="fl" d="M634.4 171.0L645.0 171.0"/>
<rect class="lt" x="646.5" y="165.0" width="4.0" height="4.0"/>
<circle class="lt" cx="658.3" cy="181.5" r="11.2"/>
<rect class="lt" x="653.5" y="175.0" width="8.0" height="5.0"/>
<rect class="lt" x="654.5" y="181.0" width="6.0" height="5.0"/>
<rect class="lt" x="653.0" y="187.0" width="8.0" height="4.0"/>
<circle class="lt" cx="668.0" cy="182.0" r="2.2"/>
<rect class="fl" x="634.5" y="201.0" width="5.0" height="8.0"/>
<circle class="lt" cx="651.5" cy="204.5" r="2.2"/>
<path class="lt" d="M634.5 223.5V211.5A12 12 0 0 1 646.5 223.5"/>
<rect class="fl" x="636.5" y="215.5" width="3.0" height="3.0"/>
<path class="dr" d="M659.0 221.6H652.0A7 7 0 0 1 659.0 214.6Z"/>
<path class="dr" d="M671.0 224.1H663.2A7.8 7.8 0 0 1 671.0 216.3Z"/>
<rect class="fl" x="673.0" y="190.0" width="5.0" height="33.0"/>
<path class="fl" d="M673.0 198.2L678.0 198.2"/>
<path class="fl" d="M673.0 206.5L678.0 206.5"/>
<path class="fl" d="M673.0 214.8L678.0 214.8"/>
<rect class="lt" x="673.0" y="173.8" width="5.0" height="16.0"/>
<path class="lt" d="M673.0 181.8L678.0 181.8"/>
<rect class="dkc" x="679.5" y="164.5" width="5.1" height="59.4"/>
<circle class="ov" cx="682.0" cy="167.8" r="1.5"/>
<circle class="ov" cx="682.0" cy="174.4" r="1.5"/>
<circle class="ov" cx="682.0" cy="181.0" r="1.5"/>
<circle class="ov" cx="682.0" cy="187.6" r="1.5"/>
<circle class="ov" cx="682.0" cy="194.2" r="1.5"/>
<circle class="ov" cx="682.0" cy="200.8" r="1.5"/>
<circle class="ov" cx="682.0" cy="207.4" r="1.5"/>
<circle class="ov" cx="682.0" cy="214.0" r="1.5"/>
<circle class="ov" cx="682.0" cy="220.6" r="1.5"/>
<rect class="gf" x="674.0" y="224.5" width="5.0" height="3.0"/>
<path class="dr" d="M604.9 226.0H597.9A7 7 0 0 0 604.9 233.0Z"/>
<path class="dr" d="M604.9 240.0H597.9A7 7 0 0 1 604.9 233.0Z"/>
<path class="w2" d="M605.0 226.0L605.0 240.0"/>
<rect class="gf" x="617.5" y="240.8" width="44.3" height="5.4"/>
<rect class="f" x="617.5" y="246.2" width="44.3" height="4.8"/>
<path class="f" d="M623.0 246.2L623.0 251.0"/>
<path class="f" d="M628.6 246.2L628.6 251.0"/>
<path class="f" d="M634.1 246.2L634.1 251.0"/>
<path class="f" d="M639.6 246.2L639.6 251.0"/>
<path class="f" d="M645.2 246.2L645.2 251.0"/>
<path class="f" d="M650.7 246.2L650.7 251.0"/>
<path class="f" d="M656.3 246.2L656.3 251.0"/>
<path class="w" d="M608.4 246.3L671.0 246.3"/>
<rect class="wf" x="625.0" y="241.3" width="30.0" height="3.4"/>
<path class="wf" d="M632.5 241.3L632.5 244.7"/>
<path class="wf" d="M640.0 241.3L640.0 244.7"/>
<path class="wf" d="M647.5 241.3L647.5 244.7"/>
<path class="wl3" d="M517.7 278.4H566.3V241.9"/>
<rect class="fl" x="518.5" y="273.5" width="42.0" height="4.2"/>
<path class="fl" d="M524.5 273.5L524.5 277.7"/>
<path class="fl" d="M530.5 273.5L530.5 277.7"/>
<path class="fl" d="M536.5 273.5L536.5 277.7"/>
<path class="fl" d="M542.5 273.5L542.5 277.7"/>
<path class="fl" d="M548.5 273.5L548.5 277.7"/>
<path class="fl" d="M554.5 273.5L554.5 277.7"/>
<rect class="f" x="560.6" y="242.6" width="4.9" height="31.0"/>
<path class="f" d="M560.6 250.3L565.5 250.3"/>
<path class="f" d="M560.6 258.1L565.5 258.1"/>
<path class="f" d="M560.6 265.9L565.5 265.9"/>
<rect class="m" x="530.3" y="254.3" width="16.2" height="8.4"/>
<path class="m" d="M538.4 254.3L538.4 262.7"/>
<path class="m" d="M530.3 258.5L546.5 258.5"/>
<path class="dr" d="M525.6 242.2H533.6A8 8 0 0 1 525.6 250.2Z"/>
<rect class="gf" x="560.6" y="242.0" width="5.0" height="4.0"/>
<rect class="f" x="567.4" y="250.3" width="4.4" height="35.2"/>
<path class="f" d="M567.4 257.3L571.8 257.3"/>
<path class="f" d="M567.4 264.4L571.8 264.4"/>
<path class="f" d="M567.4 271.4L571.8 271.4"/>
<path class="f" d="M567.4 278.5L571.8 278.5"/>
<path class="w" d="M566.3 278.0L566.3 303.0"/>
<ellipse class="fl" cx="524" cy="286.9" rx="7" ry="4" transform="rotate(25 524 286.9)"/>
<rect class="m" x="531.0" y="279.9" width="33.8" height="4.1"/>
<path class="f" d="M542.0 279.9L542.0 284.0"/>
<path class="f" d="M553.0 279.9L553.0 284.0"/>
<rect class="gf" x="542.0" y="280.5" width="11.0" height="3.0"/>
<path class="dr" d="M567.0 301.0H559.4A7.6 7.6 0 0 1 567.0 293.4Z"/>
<rect class="lt" x="537.0" y="296.0" width="12.0" height="5.0"/>
<path class="fl" d="M537.0 294.0L537.0 301.0"/>
<rect class="lt" x="520.0" y="292.0" width="5.0" height="5.0"/>
<rect class="m" x="585.2" y="264.0" width="12.6" height="16.6"/>
<rect class="lt" x="577.4" y="258.8" width="15.6" height="26.7"/>
<rect class="f" x="597.5" y="249.6" width="5.2" height="41.4"/>
<path class="f" d="M597.5 257.9L602.7 257.9"/>
<path class="f" d="M597.5 266.2L602.7 266.2"/>
<path class="f" d="M597.5 274.4L602.7 274.4"/>
<path class="f" d="M597.5 282.7L602.7 282.7"/>
<path class="wl" d="M604.2 241.9L604.2 303.0"/>
<rect class="f" x="604.9" y="263.3" width="4.6" height="25.0"/>
<path class="f" d="M604.9 269.6L609.5 269.6"/>
<path class="f" d="M604.9 275.8L609.5 275.8"/>
<path class="f" d="M604.9 282.1L609.5 282.1"/>
<path class="lt" d="M584.5 292L588 296L584.5 300L581 296Z"/>
<path class="lt" d="M579 295L582 298.5L579 302L576 298.5Z"/>
<rect class="lt" x="616.0" y="263.0" width="27.5" height="26.0"/>
<circle class="fl" cx="628.8" cy="276.0" r="4.2"/>
<circle class="fl" cx="633.0" cy="276.0" r="4.2"/>
<rect class="lt" x="640.7" y="268.0" width="8.5" height="18.2"/>
<path class="lt" d="M640.7 274.1L649.2 274.1"/>
<path class="lt" d="M640.7 280.1L649.2 280.1"/>
<path class="lt" d="M645.0 268.0L645.0 286.0"/>
<path class="lt" d="M619.6 261.0L623.0 264.4L619.6 267.79999999999995L616.2 264.4Z"/>
<rect class="lt" x="618.0" y="262.8" width="3.2" height="3.2"/>
<path class="lt" d="M619.6 285.6L623.0 289L619.6 292.4L616.2 289Z"/>
<rect class="lt" x="618.0" y="287.4" width="3.2" height="3.2"/>
<path class="lt" d="M635 287.6L638.4 291L635 294.4L631.6 291Z"/>
<rect class="lt" x="633.4" y="289.4" width="3.2" height="3.2"/>
<rect class="fl" x="654.0" y="262.3" width="8.5" height="26.0"/>
<path class="fl" d="M654.0 266.6L662.5 266.6"/>
<path class="fl" d="M654.0 271.0L662.5 271.0"/>
<path class="fl" d="M654.0 275.3L662.5 275.3"/>
<path class="fl" d="M654.0 279.6L662.5 279.6"/>
<path class="fl" d="M654.0 284.0L662.5 284.0"/>
<path class="fl" d="M658.2 262.3L658.2 288.3"/>
<rect class="lt" x="655.0" y="288.5" width="7.0" height="10.0"/>
<rect class="lt" x="662.5" y="290.0" width="3.0" height="5.0"/>
<rect class="dkc" x="674.5" y="249.6" width="5.6" height="45.7"/>
<circle class="ov" cx="677.3" cy="252.9" r="1.5"/>
<circle class="ov" cx="677.3" cy="259.4" r="1.5"/>
<circle class="ov" cx="677.3" cy="265.9" r="1.5"/>
<circle class="ov" cx="677.3" cy="272.4" r="1.5"/>
<circle class="ov" cx="677.3" cy="279.0" r="1.5"/>
<circle class="ov" cx="677.3" cy="285.5" r="1.5"/>
<circle class="ov" cx="677.3" cy="292.0" r="1.5"/>
<path class="w" d="M531 305.9H550L558.4 325.6H531Z"/>
<path class="st2" d="M533.0 305.9L533.0 325.6"/>
<path class="st2" d="M534.9 305.9L534.9 325.6"/>
<path class="st2" d="M536.9 305.9L536.9 325.6"/>
<path class="st2" d="M538.8 305.9L538.8 325.6"/>
<path class="st2" d="M540.8 305.9L540.8 325.6"/>
<path class="st2" d="M542.7 305.9L542.7 325.6"/>
<path class="st2" d="M544.6 305.9L544.6 325.6"/>
<path class="st2" d="M546.6 305.9L546.6 325.6"/>
<path class="st2" d="M548.5 305.9L548.5 325.6"/>
<path class="m" d="M552.0 310.0L556.0 325.6"/>
<path class="m" d="M554.0 314.0L557.0 325.6"/>
<text class="t" x="522.0" y="319.5" font-size="3" text-anchor="middle">±0.00</text>
<path class="fl" d="M517.5 305.0L517.5 330.0"/>
<path class="fl" d="M630.2 305.5V313.5Q636.9000000000001 313 637.9000000000001 306Q638.9000000000001 313 645.6 313.5V305.5"/>
<path class="fl" d="M709.9 305.5V313.5Q717.05 313 718.05 306Q719.05 313 726.2 313.5V305.5"/>
<rect class="m" x="703.2" y="167.9" width="32.7" height="4.8"/>
<path class="m" d="M714.1 167.9L714.1 172.7"/>
<path class="m" d="M725.0 167.9L725.0 172.7"/>
<rect class="w" x="695.0" y="184.2" width="9.7" height="38.2"/>
<rect class="f" x="696.5" y="186.0" width="6.7" height="34.5"/>
<rect class="kg" x="697.0" y="189.0" width="5.5" height="6.0"/>
<rect class="fl" x="696.5" y="196.0" width="6.7" height="12.0"/>
<path class="fl" d="M696.5 200.0L703.2 200.0"/>
<path class="fl" d="M696.5 204.0L703.2 204.0"/>
<path class="w" d="M697 209L703 215M703 209L697 215M697 212H703"/>
<rect class="m" x="697.0" y="209.0" width="6.0" height="6.5"/>
<rect class="lt" x="707.0" y="208.0" width="3.0" height="4.0"/>
<rect class="lt" x="707.0" y="219.0" width="3.0" height="4.0"/>
<path class="lt" d="M701.0 225.5L710.0 225.5"/>
<rect class="tgray" x="723.2" y="188.7" width="11.2" height="30.7"/>
<rect class="lt" x="720.0" y="190.5" width="2.6" height="5.2"/>
<rect class="lt" x="735.0" y="190.5" width="2.6" height="5.2"/>
<rect class="lt" x="720.0" y="198.1" width="2.6" height="5.2"/>
<rect class="lt" x="735.0" y="198.1" width="2.6" height="5.2"/>
<rect class="lt" x="720.0" y="205.7" width="2.6" height="5.2"/>
<rect class="lt" x="735.0" y="205.7" width="2.6" height="5.2"/>
<rect class="lt" x="720.0" y="213.3" width="2.6" height="5.2"/>
<rect class="lt" x="735.0" y="213.3" width="2.6" height="5.2"/>
<path class="lt" d="M754.4 189.0L754.4 242.0"/>
<path class="lt" d="M758.2 189.0L758.2 242.0"/>
<rect class="lt" x="754.0" y="188.5" width="4.6" height="6.0"/>
<rect class="lt" x="762.0" y="166.8" width="11.0" height="5.6"/>
<circle class="lt" cx="767.5" cy="169.5" r="1.8"/>
<rect class="gf" x="776.7" y="165.2" width="56.8" height="3.3"/>
<path class="fl" d="M777.4 169q1.6 1.7 0 3.4q-1.6 1.7 0 3.4q1.6 1.7 0 3.4q-1.6 1.7 0 3.4q1.6 1.7 0 3.4q-1.6 1.7 0 3.4q1.6 1.7 0 3.4q-1.6 1.7 0 3.4q1.6 1.7 0 3.4q-1.6 1.7 0 3.4q1.6 1.7 0 3.4q-1.6 1.7 0 3.4"/>
<rect class="gfd" x="787.0" y="168.5" width="2.0" height="42.0"/>
<rect class="fl" x="782.6" y="173.4" width="4.4" height="37.0"/>
<path class="fl" d="M782.6 182.7L787.0 182.7"/>
<path class="fl" d="M782.6 191.9L787.0 191.9"/>
<path class="fl" d="M782.6 201.2L787.0 201.2"/>
<rect class="fl" x="789.0" y="173.4" width="5.5" height="37.0"/>
<path class="fl" d="M789.0 182.7L794.5 182.7"/>
<path class="fl" d="M789.0 191.9L794.5 191.9"/>
<path class="fl" d="M789.0 201.2L794.5 201.2"/>
<rect class="fl" x="789.0" y="168.5" width="44.5" height="4.9"/>
<path class="fl" d="M795.4 168.5L795.4 173.4"/>
<path class="fl" d="M801.7 168.5L801.7 173.4"/>
<path class="fl" d="M808.1 168.5L808.1 173.4"/>
<path class="fl" d="M814.4 168.5L814.4 173.4"/>
<path class="fl" d="M820.8 168.5L820.8 173.4"/>
<path class="fl" d="M827.1 168.5L827.1 173.4"/>
<rect class="m" x="803.4" y="187.5" width="16.3" height="9.6"/>
<path class="m" d="M811.5 187.5L811.5 197.1"/>
<path class="m" d="M803.4 192.3L819.7 192.3"/>
<path class="fl" d="M807.5 192.3L807.5 197.1"/>
<rect class="gf" x="776.7" y="210.5" width="22.3" height="2.2"/>
<rect class="gf" x="825.0" y="210.5" width="13.5" height="2.2"/>
<rect class="gf" x="797.3" y="210.5" width="2.0" height="30.0"/>
<rect class="gf" x="776.7" y="239.0" width="22.3" height="2.2"/>
<path class="lt" d="M776.7 169.0L776.7 240.0"/>
<path class="lt" d="M824.6 212.7L824.6 241.0"/>
<path class="fl" d="M824.6 240.8L838.0 240.8"/>
<path class="dr" d="M798.2 218.0H790.0A8.2 8.2 0 0 0 798.2 226.2Z"/>
<path class="dr" d="M798.2 234.4H790.0A8.2 8.2 0 0 1 798.2 226.2Z"/>
<path class="w2" d="M798.4 218.0L798.4 234.4"/>
<path d="M831.7 228.5L836.2 230.0M833.1 230.0L835.7 229.8M831.3 229.0L833.5 233.3M831.3 231.1L833.3 232.8M830.7 229.1L829.2 233.6M829.2 230.5L829.4 233.1M830.2 228.7L825.9 230.9M828.1 228.7L826.4 230.7M830.1 228.1L825.6 226.6M828.7 226.6L826.1 226.8M830.5 227.6L828.3 223.3M830.5 225.5L828.5 223.8M831.1 227.5L832.6 223.0M832.6 226.1L832.4 223.5M831.6 227.9L835.9 225.7M833.7 227.9L835.4 225.9" style="stroke:#222;stroke-width:1.1;fill:none"/>
<circle class="k" cx="830.9" cy="228.3" r="1.7"/>
<path class="w2" d="M838.5 199.4A4 4 0 0 0 838.5 207.5"/>
<path class="gf" d="M838.3 240.2H848.7L838.3 250Z"/>
<path class="fl" d="M839.3 161.8L847.5 153.8L847.5 216.2L908.8 216.2L908.8 132.7"/>
<path class="fl" d="M847.5 153.8L514.0 153.8"/>
<path class="fl" d="M849.5 236V228Q856 229 856.5 236Q857 229 863.6 228V236"/>
<rect class="dkc" x="677.0" y="249.5" width="5.4" height="46.5"/>
<circle class="ov" cx="679.7" cy="252.4" r="1.5"/>
<circle class="ov" cx="679.7" cy="258.2" r="1.5"/>
<circle class="ov" cx="679.7" cy="264.0" r="1.5"/>
<circle class="ov" cx="679.7" cy="269.8" r="1.5"/>
<circle class="ov" cx="679.7" cy="275.7" r="1.5"/>
<circle class="ov" cx="679.7" cy="281.5" r="1.5"/>
<circle class="ov" cx="679.7" cy="287.3" r="1.5"/>
<circle class="ov" cx="679.7" cy="293.1" r="1.5"/>
<path class="lt" d="M712 244.3H736.6V271H729V285.9H719.5V279H708.5V266H712Z"/>
<rect class="lt" x="715.0" y="244.3" width="21.6" height="6.0"/>
<rect class="lt" x="731.0" y="250.3" width="5.6" height="20.0"/>
<rect class="lt" x="712.0" y="250.3" width="19.0" height="16.0"/>
<rect class="lt" x="719.5" y="270.0" width="10.0" height="16.0"/>
<rect class="lt" x="701.5" y="257.5" width="9.0" height="9.0"/>
<rect class="lt" x="696.0" y="268.0" width="9.0" height="7.0"/>
<path class="lt" d="M696.0 258.0L696.0 275.0"/>
<path class="lt" d="M696.0 258.0L701.0 258.0"/>
<path class="lt" d="M693 246L698 250L703 245M698 250V262"/>
<circle class="fl" cx="695.8" cy="288.8" r="3.3"/>
<circle class="lt" cx="695.8" cy="288.8" r="1.8"/>
<circle class="gf" cx="695.8" cy="288.8" r="0.8"/>
<circle class="fl" cx="708.0" cy="291.8" r="3.3"/>
<circle class="lt" cx="708.0" cy="291.8" r="1.8"/>
<circle class="gf" cx="708.0" cy="291.8" r="0.8"/>
<rect class="fl" x="753.9" y="249.5" width="4.8" height="26.0"/>
<path class="fl" d="M753.9 254.7L758.7 254.7"/>
<path class="fl" d="M753.9 259.9L758.7 259.9"/>
<path class="fl" d="M753.9 265.1L758.7 265.1"/>
<path class="fl" d="M753.9 270.3L758.7 270.3"/>
<path class="fl" d="M756.3 249.5L756.3 275.5"/>
<rect class="m" x="776.7" y="240.6" width="5.9" height="50.4"/>
<path class="m" d="M776.7 249.0L782.6 249.0"/>
<path class="m" d="M776.7 257.4L782.6 257.4"/>
<path class="m" d="M776.7 265.8L782.6 265.8"/>
<path class="m" d="M776.7 274.2L782.6 274.2"/>
<path class="m" d="M776.7 282.6L782.6 282.6"/>
<path class="wl" d="M783.2 240.6L783.2 291.0"/>
<rect class="gfl" x="782.6" y="240.6" width="2.4" height="50.4"/>
<rect class="f" x="787.0" y="246.5" width="6.0" height="40.0"/>
<path class="f" d="M787.0 256.5L793.0 256.5"/>
<path class="f" d="M787.0 266.5L793.0 266.5"/>
<path class="f" d="M787.0 276.5L793.0 276.5"/>
<rect class="lt" x="797.5" y="251.0" width="20.0" height="31.0"/>
<rect class="lt" x="803.0" y="257.0" width="5.6" height="20.0"/>
<path class="lt" d="M803.0 267.0L808.6 267.0"/>
<rect class="lt" x="806.0" y="259.0" width="4.0" height="4.0"/>
<path class="wlg" d="M776.7 291.8H805.6Q832 294 848.5 318.5L838 328"/>
<path class="fl" d="M778 290.3H805.6Q833 292.5 850 318"/>
<path d="M797.2 299.4L799.9 300.2M798.1 300.2L799.6 300.1M796.9 299.7L798.3 302.2M796.9 300.9L798.1 301.9M796.5 299.7L795.7 302.4M795.7 300.6L795.8 302.1M796.2 299.4L793.7 300.8M795.0 299.4L794.0 300.6M796.2 299.0L793.5 298.2M795.3 298.2L793.8 298.3M796.5 298.7L795.1 296.2M796.5 297.5L795.3 296.5M796.9 298.7L797.7 296.0M797.7 297.8L797.6 296.3M797.2 299.0L799.7 297.6M798.4 299.0L799.4 297.8" style="stroke:#222;stroke-width:1.1;fill:none"/>
<circle class="k" cx="796.7" cy="299.2" r="1.0"/>
<path d="M809.1 297.9L811.8 298.7M810.0 298.7L811.5 298.6M808.8 298.2L810.2 300.7M808.8 299.4L810.0 300.4M808.4 298.2L807.6 300.9M807.6 299.1L807.7 300.6M808.1 297.9L805.6 299.3M806.9 297.9L805.9 299.1M808.1 297.5L805.4 296.7M807.2 296.7L805.7 296.8M808.4 297.2L807.0 294.7M808.4 296.0L807.2 295.0M808.8 297.2L809.6 294.5M809.6 296.3L809.5 294.8M809.1 297.5L811.6 296.1M810.3 297.5L811.3 296.3" style="stroke:#222;stroke-width:1.1;fill:none"/>
<circle class="k" cx="808.6" cy="297.7" r="1.0"/>
<path d="M815.8 302.4L818.5 303.2M816.7 303.2L818.2 303.1M815.5 302.7L816.9 305.2M815.5 303.9L816.7 304.9M815.1 302.7L814.3 305.4M814.3 303.6L814.4 305.1M814.8 302.4L812.3 303.8M813.6 302.4L812.6 303.6M814.8 302.0L812.1 301.2M813.9 301.2L812.4 301.3M815.1 301.7L813.7 299.2M815.1 300.5L813.9 299.5M815.5 301.7L816.3 299.0M816.3 300.8L816.2 299.3M815.8 302.0L818.3 300.6M817.0 302.0L818.0 300.8" style="stroke:#222;stroke-width:1.1;fill:none"/>
<circle class="k" cx="815.3" cy="302.2" r="1.0"/>
<path d="M831.6 309.8L835.5 311.0M832.8 311.1L835.0 310.9M831.2 310.2L833.1 313.8M831.2 312.0L832.9 313.4M830.7 310.3L829.5 314.2M829.4 311.5L829.6 313.7M830.3 309.9L826.7 311.8M828.5 309.9L827.1 311.6M830.2 309.4L826.3 308.2M829.0 308.1L826.8 308.3M830.6 309.0L828.7 305.4M830.6 307.2L828.9 305.8M831.1 308.9L832.3 305.0M832.4 307.7L832.2 305.5M831.5 309.3L835.1 307.4M833.3 309.3L834.7 307.6" style="stroke:#222;stroke-width:1.1;fill:none"/>
<circle class="k" cx="830.9" cy="309.6" r="1.4"/>
<path class="dr" d="M836.2 255.4H848.7A12.5 12.5 0 0 1 836.2 267.9Z"/>
<path class="dr" d="M836.2 280.7H848.7A12.5 12.5 0 0 0 836.2 268.2Z"/>
<path class="w" d="M836.2 255.4L836.2 280.7"/>
<path class="m" d="M848.7 240.0L848.7 318.0"/>
<rect class="k" x="697.3" y="142.8" width="16.3" height="1.9"/>
<rect class="k" x="736.6" y="142.8" width="15.9" height="1.9"/>
<rect class="k" x="804.0" y="142.8" width="15.7" height="1.9"/>
<path class="w3" d="M913.9 251.5V140.6H985M999 140.6H1087.8"/>
<path class="w" d="M985.0 140.6L999.0 140.6"/>
<path class="f" d="M985.0 142.5L999.0 142.5"/>
<path class="w2" d="M1087.8 140.6L1087.8 250.0"/>
<path class="w" d="M1087.8 250.0L1087.8 465.0"/>
<path class="w3" d="M1087.6 463.0L1087.6 475.0"/>
<path class="f" d="M1085.8 142.0L1085.8 475.0"/>
<path class="f" d="M915.8 142.5L985.0 142.5"/>
<path class="f" d="M999.0 142.5L1086.0 142.5"/>
<circle class="k" cx="1026.5" cy="140.6" r="1.3"/>
<circle class="k" cx="1032.5" cy="140.6" r="1.3"/>
<circle class="k" cx="1040.0" cy="140.6" r="1.3"/>
<circle class="k" cx="1057.5" cy="140.6" r="1.3"/>
<circle class="k" cx="1065.0" cy="140.6" r="1.3"/>
<circle class="k" cx="1079.0" cy="140.6" r="1.3"/>
<circle class="k" cx="1086.5" cy="140.6" r="1.3"/>
<circle class="k" cx="1026.5" cy="137.0" r="1.1"/>
<circle class="k" cx="1087.8" cy="147.0" r="1.3"/>
<circle class="k" cx="1087.8" cy="152.0" r="1.3"/>
<circle class="k" cx="1087.8" cy="156.0" r="1.3"/>
<circle class="k" cx="1087.8" cy="166.8" r="1.3"/>
<circle class="k" cx="1087.8" cy="191.4" r="1.3"/>
<circle class="k" cx="1087.8" cy="199.6" r="1.3"/>
<circle class="k" cx="1087.8" cy="208.7" r="1.3"/>
<circle class="k" cx="1087.8" cy="216.0" r="1.3"/>
<circle class="k" cx="1087.8" cy="224.7" r="1.3"/>
<circle class="k" cx="1087.8" cy="238.2" r="1.3"/>
<circle class="k" cx="1087.8" cy="254.6" r="1.3"/>
<circle class="k" cx="1087.8" cy="262.0" r="1.3"/>
<circle class="k" cx="1087.8" cy="276.0" r="1.3"/>
<circle class="k" cx="1087.8" cy="286.0" r="1.3"/>
<circle class="k" cx="1087.8" cy="291.0" r="1.3"/>
<circle class="k" cx="1087.8" cy="302.0" r="1.3"/>
<circle class="k" cx="1087.8" cy="315.0" r="1.3"/>
<circle class="k" cx="1087.8" cy="327.0" r="1.3"/>
<circle class="k" cx="1087.8" cy="337.0" r="1.3"/>
<circle class="k" cx="1087.8" cy="346.0" r="1.3"/>
<circle class="k" cx="1087.8" cy="358.0" r="1.3"/>
<circle class="k" cx="1087.8" cy="372.0" r="1.3"/>
<circle class="k" cx="1087.8" cy="380.0" r="1.3"/>
<circle class="k" cx="1087.8" cy="394.0" r="1.3"/>
<circle class="k" cx="1087.8" cy="419.0" r="1.3"/>
<circle class="k" cx="1087.8" cy="428.0" r="1.3"/>
<circle class="k" cx="1087.8" cy="435.0" r="1.3"/>
<circle class="k" cx="1087.8" cy="444.0" r="1.3"/>
<circle class="k" cx="1087.8" cy="451.0" r="1.3"/>
<path class="fl" d="M1087.0 132.4L908.8 132.4"/>
<path class="fl" d="M908.8 132.4L913.9 140.6"/>
<path class="w2" d="M998.7 132.4L998.7 141.0"/>
<path class="w3" d="M896.6 236.6L913.9 236.6"/>
<rect class="f" x="901.6" y="238.0" width="12.3" height="11.5"/>
<circle class="w" cx="908.0" cy="243.5" r="3.6"/>
<circle class="f" cx="908.0" cy="243.5" r="2.0"/>
<circle class="k" cx="908.0" cy="243.5" r="0.9"/>
<rect class="k" x="921.2" y="142.2" width="4.9" height="4.9"/>
<rect class="k" x="1000.0" y="142.2" width="5.2" height="4.9"/>
<rect class="k" x="921.2" y="166.0" width="4.9" height="9.0"/>
<rect class="k" x="921.2" y="241.5" width="4.9" height="9.0"/>
<rect class="k" x="1000.0" y="166.0" width="5.7" height="9.0"/>
<rect class="k" x="1000.0" y="241.5" width="5.7" height="9.0"/>
<rect class="k" x="1079.9" y="166.0" width="5.3" height="9.0"/>
<rect class="k" x="1079.9" y="241.5" width="5.3" height="9.0"/>
<rect class="k" x="921.0" y="316.6" width="5.0" height="8.0"/>
<rect class="k" x="1000.0" y="316.0" width="5.7" height="8.6"/>
<rect class="k" x="1079.8" y="316.0" width="5.3" height="8.6"/>
<rect class="k" x="921.3" y="396.0" width="4.8" height="8.0"/>
<rect class="k" x="999.6" y="395.2" width="6.2" height="9.2"/>
<rect class="k" x="1080.5" y="395.2" width="6.0" height="9.2"/>
<path class="w" d="M947.5 157H958.2V169.3Z"/>
<path class="f" d="M949.3 159.1L958.2 159.1"/>
<path class="f" d="M951.1 161.1L958.2 161.1"/>
<path class="f" d="M952.9 163.2L958.2 163.2"/>
<path class="f" d="M954.7 165.2L958.2 165.2"/>
<path class="f" d="M956.5 167.2L958.2 167.2"/>
<path class="f" d="M953.5 157.0L953.5 164.0"/>
<path class="f" d="M956.0 157.0L956.0 167.0"/>
<path d="M968.61 155.31h2.18M968.61 156.40h2.18M969.70 154.76v2.18M971.21 155.31h2.18M971.21 156.40h2.18M972.30 154.76v2.18" style="stroke:#9a9a9a;stroke-width:0.40;fill:none"/>
<path d="M960.99 162.94h2.02M960.99 163.95h2.02M962.00 162.44v2.02" style="stroke:#9a9a9a;stroke-width:0.37;fill:none"/>
<path class="w2" d="M926.2 169.3L985.2 169.3"/>
<rect class="w" x="926.2" y="169.8" width="59.0" height="6.4"/>
<path class="w" d="M936.0 169.8L936.0 176.2"/>
<path class="w" d="M945.9 169.8L945.9 176.2"/>
<path class="w" d="M955.7 169.8L955.7 176.2"/>
<path class="w" d="M965.5 169.8L965.5 176.2"/>
<path class="w" d="M975.4 169.8L975.4 176.2"/>
<path class="w2" d="M986.8 169.3V162M999.5 169.3V159.5"/>
<path class="fl" d="M987 169.3A12 10 0 0 1 999 159.8"/>
<path class="w2" d="M1006.6 169.3L1080.4 169.3"/>
<rect class="w" x="1006.6" y="169.8" width="62.0" height="7.2"/>
<path class="w" d="M1015.5 169.8L1015.5 177.0"/>
<path class="w" d="M1024.3 169.8L1024.3 177.0"/>
<path class="w" d="M1033.2 169.8L1033.2 177.0"/>
<path class="w" d="M1042.0 169.8L1042.0 177.0"/>
<path class="w" d="M1050.9 169.8L1050.9 177.0"/>
<path class="w" d="M1059.7 169.8L1059.7 177.0"/>
<rect class="fl" x="1068.6" y="170.5" width="10.0" height="5.0"/>
<path class="fl" d="M1006.6 173.5L1068.0 173.5"/>
<path class="w2" d="M1069 169.3H1078.7V159.5"/>
<path class="fl" d="M1069.3 169A10 10 0 0 1 1078.5 159.8"/>
<path d="M1034.80 154.41h5.21M1035.32 156.07h4.17M1034.80 158.42h5.21M1036.36 153.47v5.21M1038.70 154.41v4.06M1041.00 154.41h5.21M1041.52 156.07h4.17M1041.00 158.42h5.21M1043.60 153.47v5.21M1044.22 154.41v4.06M1047.20 154.41h5.21M1047.72 156.07h4.17M1047.20 158.42h5.21M1048.76 153.47v5.21M1050.42 154.41v4.06M1053.40 154.41h5.21M1053.92 156.07h4.17M1053.40 158.42h5.21M1054.96 153.47v5.21M1056.62 154.41v4.06" style="stroke:#444;stroke-width:0.95;fill:none"/>
<rect class="gf" x="1028.6" y="149.6" width="1.8" height="0.8"/>
<rect class="gf" x="1028.6" y="150.8" width="1.8" height="0.8"/>
<rect class="gf" x="1028.6" y="151.9" width="1.8" height="0.8"/>
<rect class="gf" x="1028.6" y="153.0" width="1.8" height="0.8"/>
<rect class="gf" x="1028.6" y="154.2" width="1.8" height="0.8"/>
<rect class="gf" x="1028.6" y="155.3" width="1.8" height="0.8"/>
<rect class="gf" x="1028.6" y="156.5" width="1.8" height="0.8"/>
<rect class="gf" x="1028.6" y="157.7" width="1.8" height="0.8"/>
<rect class="gf" x="1028.6" y="158.8" width="1.8" height="0.8"/>
<rect class="gf" x="1028.6" y="159.9" width="1.8" height="0.8"/>
<path class="lt" d="M1062.0 153.5L1080.0 153.5"/>
<rect class="gfl" x="916.0" y="170.0" width="3.6" height="70.7"/>
<rect class="w" x="919.6" y="170.0" width="6.6" height="70.7"/>
<path class="w" d="M919.6 177.1L926.2 177.1"/>
<path class="w" d="M919.6 184.1L926.2 184.1"/>
<path class="w" d="M919.6 191.2L926.2 191.2"/>
<path class="w" d="M919.6 198.3L926.2 198.3"/>
<path class="w" d="M919.6 205.3L926.2 205.3"/>
<path class="w" d="M919.6 212.4L926.2 212.4"/>
<path class="w" d="M919.6 219.5L926.2 219.5"/>
<path class="w" d="M919.6 226.6L926.2 226.6"/>
<path class="w" d="M919.6 233.6L926.2 233.6"/>
<path class="w" d="M916.0 170.0L916.0 240.7"/>
<path class="m" d="M1002.5 177.2L1002.5 395.0"/>
<path class="m" d="M1006.6 177.2L1006.6 336.0"/>
<path class="fl" d="M1004.5 177.2L1004.5 316.0"/>
<rect class="f" x="1001.5" y="213.0" width="4.5" height="27.0"/>
<path class="f" d="M1001.5 213.0L1006.0 222.0"/>
<path class="f" d="M1001.5 222.0L1006.0 231.0"/>
<path class="f" d="M1001.5 231.0L1006.0 240.0"/>
<circle class="fx2" cx="930.8" cy="178.3" r="2.5"/>
<circle class="fx2" cx="930.8" cy="178.3" r="1.0"/>
<circle class="fx2" cx="975.4" cy="191.4" r="2.5"/>
<circle class="fx2" cx="975.4" cy="191.4" r="1.0"/>
<circle class="fx2" cx="959.8" cy="204.6" r="2.5"/>
<circle class="fx2" cx="959.8" cy="204.6" r="1.0"/>
<circle class="fx2" cx="931.4" cy="207.0" r="2.5"/>
<circle class="fx2" cx="931.4" cy="207.0" r="1.0"/>
<circle class="fx2" cx="991.8" cy="207.0" r="2.5"/>
<circle class="fx2" cx="991.8" cy="207.0" r="1.0"/>
<circle class="fx2" cx="928.6" cy="237.4" r="2.5"/>
<circle class="fx2" cx="928.6" cy="237.4" r="1.0"/>
<circle class="fx2" cx="997.5" cy="237.4" r="2.5"/>
<circle class="fx2" cx="997.5" cy="237.4" r="1.0"/>
<circle class="fx2" cx="934.7" cy="253.5" r="2.5"/>
<circle class="fx2" cx="934.7" cy="253.5" r="1.0"/>
<circle class="fx2" cx="984.5" cy="253.5" r="2.5"/>
<circle class="fx2" cx="984.5" cy="253.5" r="1.0"/>
<circle class="fx2" cx="951.2" cy="287.0" r="2.5"/>
<circle class="fx2" cx="951.2" cy="287.0" r="1.0"/>
<circle class="fx2" cx="994.4" cy="284.8" r="2.5"/>
<circle class="fx2" cx="994.4" cy="284.8" r="1.0"/>
<circle class="fx2" cx="1010.6" cy="284.8" r="2.5"/>
<circle class="fx2" cx="1010.6" cy="284.8" r="1.0"/>
<circle class="fx2" cx="1049.5" cy="252.2" r="2.5"/>
<circle class="fx2" cx="1049.5" cy="252.2" r="1.0"/>
<circle class="fx2" cx="1012.0" cy="330.6" r="2.5"/>
<circle class="fx2" cx="1012.0" cy="330.6" r="1.0"/>
<circle class="fx2" cx="1014.4" cy="352.4" r="2.5"/>
<circle class="fx2" cx="1014.4" cy="352.4" r="1.0"/>
<circle class="fx2" cx="929.2" cy="383.3" r="2.5"/>
<circle class="fx2" cx="929.2" cy="383.3" r="1.0"/>
<circle class="fx2" cx="955.5" cy="389.5" r="2.5"/>
<circle class="fx2" cx="955.5" cy="389.5" r="1.0"/>
<circle class="fx2" cx="1048.4" cy="179.5" r="2.5"/>
<circle class="fx2" cx="1048.4" cy="179.5" r="1.0"/>
<circle class="fx2" cx="1048.4" cy="191.0" r="2.5"/>
<circle class="fx2" cx="1048.4" cy="191.0" r="1.0"/>
<circle class="fx2" cx="1048.4" cy="203.0" r="2.5"/>
<circle class="fx2" cx="1048.4" cy="203.0" r="1.0"/>
<circle class="fx2" cx="1048.4" cy="220.2" r="2.5"/>
<circle class="fx2" cx="1048.4" cy="220.2" r="1.0"/>
<circle class="fx2" cx="1048.4" cy="235.3" r="2.5"/>
<circle class="fx2" cx="1048.4" cy="235.3" r="1.0"/>
<rect class="m" x="951.6" y="187.0" width="20.5" height="8.9"/>
<path class="m" d="M961.8 187.0L961.8 195.9"/>
<path class="m" d="M951.6 191.5L972.1 191.5"/>
<path class="m" d="M966.9 187.0L966.9 195.9"/>
<path class="w2" d="M938.5 211.6L990.2 211.6"/>
<rect class="w" x="945.0" y="206.7" width="26.0" height="4.6"/>
<rect class="w" x="950.0" y="212.3" width="26.2" height="6.2"/>
<path class="f" d="M950.0 215.2L976.2 215.2"/>
<rect class="f" x="957.0" y="206.7" width="14.0" height="4.6"/>
<path class="f" d="M964.0 206.7L964.0 211.3"/>
<rect class="kgt" x="974.5" y="207.5" width="7.0" height="4.0"/>
<path class="dsh2" d="M946.2 179V204"/>
<path class="dsh2" d="M963.9 222V241"/>
<path class="dsh2" d="M1032 179V240"/>
<path class="dsh2" d="M927.8 217V234"/>
<path class="dsh2" d="M1032 150V161"/>
<rect class="w" x="926.2" y="240.7" width="27.8" height="9.8"/>
<path class="w2" d="M926.2 245.6L954.0 245.6"/>
<rect class="f" x="926.2" y="240.7" width="27.8" height="4.9"/>
<path class="f" d="M935.5 240.7L935.5 245.6"/>
<path class="f" d="M944.7 240.7L944.7 245.6"/>
<rect class="w" x="972.1" y="240.7" width="28.0" height="9.8"/>
<path class="w2" d="M972.1 245.6L1000.0 245.6"/>
<rect class="f" x="972.1" y="240.7" width="28.0" height="4.9"/>
<path class="f" d="M981.4 240.7L981.4 245.6"/>
<path class="f" d="M990.8 240.7L990.8 245.6"/>
<rect class="w" x="1023.8" y="239.0" width="56.6" height="10.7"/>
<path class="w2" d="M1023.8 244.3L1080.4 244.3"/>
<rect class="f" x="1023.8" y="239.0" width="56.6" height="5.3"/>
<path class="f" d="M1033.2 239.0L1033.2 244.3"/>
<path class="f" d="M1042.7 239.0L1042.7 244.3"/>
<path class="f" d="M1052.1 239.0L1052.1 244.3"/>
<path class="f" d="M1061.5 239.0L1061.5 244.3"/>
<path class="f" d="M1071.0 239.0L1071.0 244.3"/>
<rect class="f" x="1023.8" y="244.3" width="56.6" height="5.4"/>
<path class="f" d="M1035.1 244.3L1035.1 249.7"/>
<path class="f" d="M1046.4 244.3L1046.4 249.7"/>
<path class="f" d="M1057.8 244.3L1057.8 249.7"/>
<path class="f" d="M1069.1 244.3L1069.1 249.7"/>
<path class="w" d="M1006.6 241.0L1023.8 241.0"/>
<path class="f" d="M1006.6 243.5L1023.8 243.5"/>
<rect class="m" x="1037.4" y="186.5" width="18.1" height="8.2"/>
<circle class="f" cx="1048.4" cy="190.6" r="2.0"/>
<rect class="fl" x="1044.0" y="188.0" width="8.0" height="5.0"/>
<rect class="w2" x="1023.0" y="205.4" width="46.7" height="12.3"/>
<path class="w2" d="M1023.0 211.5L1069.7 211.5"/>
<rect class="f" x="1024.0" y="206.2" width="44.7" height="4.6"/>
<path class="f" d="M1032.9 206.2L1032.9 210.8"/>
<path class="f" d="M1041.9 206.2L1041.9 210.8"/>
<path class="f" d="M1050.8 206.2L1050.8 210.8"/>
<path class="f" d="M1059.8 206.2L1059.8 210.8"/>
<rect class="f" x="1024.0" y="212.3" width="44.7" height="4.6"/>
<path class="f" d="M1035.2 212.3L1035.2 216.9"/>
<path class="f" d="M1046.3 212.3L1046.3 216.9"/>
<path class="f" d="M1057.5 212.3L1057.5 216.9"/>
<path class="fl" d="M1088 192.3H1096.4A8.4 8.4 0 0 1 1088 200.70000000000002"/>
<path class="fl" d="M1088 202.7H1096.4A8.4 8.4 0 0 1 1088 211.1"/>
<path class="fl" d="M1088 221.4H1096.4A8.4 8.4 0 0 0 1088 213"/>
<path class="m" d="M901.0 240.0L901.0 286.0"/>
<path class="fl" d="M902.9 240.0L902.9 286.0"/>
<rect class="gfl2" x="896.6" y="286.0" width="4.6" height="79.0"/>
<path class="w" d="M901.0 285.0L896.3 285.0L896.3 365.0L920.7 410.0"/>
<path class="w" d="M898.8 287.0L898.8 364.5L922.5 408.0"/>
<path class="w" d="M903.0 365.6L920.0 365.6"/>
<rect class="m" x="897.2" y="311.0" width="2.6" height="30.0"/>
<path class="f" d="M896.3 330.0L899.8 330.0"/>
<path class="fl" d="M903 330L910 346M903 346Q909 345 910 338"/>
<path class="lt" d="M915 303Q920 306 920 311M935 306Q934 311 930 312"/>
<rect class="w" x="920.7" y="267.8" width="21.7" height="5.1"/>
<rect class="fl" x="921.7" y="268.8" width="19.7" height="3.1"/>
<rect class="w" x="960.2" y="267.8" width="21.7" height="5.1"/>
<rect class="fl" x="961.2" y="268.8" width="19.7" height="3.1"/>
<path class="dshl" d="M903 275H999"/>
<rect class="w" x="921.0" y="290.8" width="8.0" height="57.3"/>
<rect class="f" x="922.3" y="298.7" width="5.4" height="41.0"/>
<path class="f" d="M922.3 308.9L927.7 308.9"/>
<path class="f" d="M922.3 319.2L927.7 319.2"/>
<path class="f" d="M922.3 329.4L927.7 329.4"/>
<rect class="w" x="921.0" y="290.8" width="8.0" height="7.9"/>
<path class="wl" d="M929 292.3H975V298.7H929"/>
<path class="f" d="M929.0 295.4L975.0 295.4"/>
<rect class="w" x="975.0" y="290.8" width="7.4" height="24.4"/>
<path class="f" d="M978.7 298.0L978.7 315.0"/>
<path class="wl" d="M975 315.2H977V339.7H950V346.2H981V315.2H982.4"/>
<path class="f" d="M979.0 316.0L979.0 343.0"/>
<path class="f" d="M952.0 343.0L979.0 343.0"/>
<rect class="w" x="921.0" y="339.7" width="29.0" height="8.4"/>
<rect class="kg" x="932.8" y="340.6" width="3.0" height="2.6"/>
<rect class="kg" x="939.5" y="340.6" width="3.0" height="2.6"/>
<rect class="kg" x="932.8" y="344.6" width="3.0" height="2.6"/>
<rect class="kg" x="939.5" y="344.6" width="3.0" height="2.6"/>
<rect class="m" x="944.8" y="314.3" width="14.5" height="9.9"/>
<rect class="w" x="947.2" y="316.0" width="9.7" height="6.5"/>
<rect class="f" x="947.5" y="311.0" width="3.0" height="2.6"/>
<rect class="f" x="953.5" y="311.0" width="3.0" height="2.6"/>
<rect class="f" x="947.5" y="324.9" width="3.0" height="2.6"/>
<rect class="f" x="953.5" y="324.9" width="3.0" height="2.6"/>
<path class="fl" d="M952 312V306M946 308Q952 303 958 308M952 326V333M946 331Q952 336 958 331"/>
<path class="fl" d="M931 303V311A8 8 0 0 0 935 308M936 332V340A8 8 0 0 1 944 332"/>
<path class="dsh2" d="M967.5 318V336"/>
<rect class="w2" x="1002.0" y="264.4" width="5.2" height="37.6"/>
<path class="f" d="M1004.6 264.4L1004.6 302.0"/>
<path class="dsh2" d="M998 272V294"/>
<rect class="wl3" x="1021.3" y="264.4" width="42.3" height="38.0"/>
<rect class="w" x="1026.0" y="268.2" width="32.0" height="30.1"/>
<path class="f" d="M1021.3 297.8L1063.6 297.8"/>
<path class="f" d="M1026.0 268.2L1026.0 302.0"/>
<rect class="f" x="1058.0" y="292.0" width="5.6" height="5.8"/>
<rect class="f" x="1021.3" y="288.0" width="5.0" height="9.8"/>
<rect class="fl" x="1037.7" y="277.2" width="10.0" height="12.1"/>
<path class="fl" d="M1041.0 277.2L1041.0 289.3"/>
<path class="fl" d="M1044.4 277.2L1044.4 289.3"/>
<path class="fl" d="M1037.7 281.2L1047.7 281.2"/>
<path class="fl" d="M1037.7 285.2L1047.7 285.2"/>
<path class="dsh2" d="M1032 275V292"/>
<path class="fl" d="M1025.0 277.0L1030.0 277.0"/>
<path class="fl" d="M1025.0 290.0L1030.0 290.0"/>
<rect class="lt" x="1023.2" y="315.2" width="39.5" height="9.4"/>
<path class="lt" d="M1036.4 315.2L1036.4 324.6"/>
<path class="lt" d="M1049.5 315.2L1049.5 324.6"/>
<rect class="lt" x="1029.0" y="313.0" width="9.0" height="14.0"/>
<path class="lt" d="M1033.5 313.0L1033.5 327.0"/>
<path class="dsh2" d="M1040 318V335"/>
<rect class="w" x="1001.6" y="336.3" width="64.9" height="11.8"/>
<path class="wl" d="M1001.6 342.2L1066.5 342.2"/>
<rect class="f" x="1001.6" y="336.3" width="64.9" height="5.9"/>
<path class="f" d="M1017.8 336.3L1017.8 342.2"/>
<path class="f" d="M1034.0 336.3L1034.0 342.2"/>
<path class="f" d="M1050.3 336.3L1050.3 342.2"/>
<rect class="f" x="1001.6" y="342.2" width="64.9" height="5.9"/>
<path class="f" d="M1014.6 342.2L1014.6 348.1"/>
<path class="f" d="M1027.6 342.2L1027.6 348.1"/>
<path class="f" d="M1040.5 342.2L1040.5 348.1"/>
<path class="f" d="M1053.5 342.2L1053.5 348.1"/>
<rect class="w" x="1066.5" y="342.5" width="13.1" height="5.5"/>
<path class="f" d="M1066.5 345.2L1079.6 345.2"/>
<rect class="lt" x="1007.2" y="358.5" width="53.6" height="9.4"/>
<path class="lt" d="M1025.1 358.5L1025.1 367.9"/>
<path class="lt" d="M1042.9 358.5L1042.9 367.9"/>
<path class="dsh2" d="M1040 350V368"/>
<path class="dshl" d="M1002.5 349V390"/>
<path class="lt" d="M1062.0 362.0L1078.0 362.0"/>
<path class="w" d="M1080.4 250.0L1080.4 395.0"/>
<path class="m" d="M1083.2 250.0L1083.2 395.0"/>
<rect class="kgt" x="1080.0" y="262.0" width="2.4" height="38.0"/>
<rect class="kgt" x="1080.0" y="335.0" width="2.4" height="57.0"/>
<path class="fl" d="M1087.8 285Q1091 292 1087.8 299M1087.8 369Q1091 376 1087.8 383"/>
<path class="k" d="M1090 261L1092 258L1094 261ZM1090 347L1092 344L1094 347Z"/>
<rect class="w" x="919.8" y="365.6" width="57.0" height="32.0"/>
<rect class="f" x="920.7" y="367.0" width="5.7" height="26.0"/>
<path class="f" d="M920.7 375.7L926.4 375.7"/>
<path class="f" d="M920.7 384.3L926.4 384.3"/>
<path class="m" d="M927.5 365.6L927.5 391.0"/>
<rect class="kgt" x="975.0" y="365.6" width="1.9" height="32.0"/>
<rect class="f" x="921.0" y="393.3" width="54.0" height="4.3"/>
<path class="f" d="M930.0 393.3L930.0 397.6"/>
<path class="f" d="M939.0 393.3L939.0 397.6"/>
<path class="f" d="M948.0 393.3L948.0 397.6"/>
<path class="f" d="M957.0 393.3L957.0 397.6"/>
<path class="f" d="M966.0 393.3L966.0 397.6"/>
<path class="w2" d="M919.8 393.3L976.8 393.3"/>
<rect class="fl" x="936.7" y="373.9" width="27.3" height="9.0"/>
<path class="lt" d="M945.8 373.9L945.8 382.9"/>
<path class="lt" d="M954.9 373.9L954.9 382.9"/>
<rect class="lt" x="938.2" y="370.6" width="3.2" height="2.4"/>
<rect class="lt" x="938.2" y="383.8" width="3.2" height="2.4"/>
<rect class="lt" x="943.5" y="370.6" width="3.2" height="2.4"/>
<rect class="lt" x="943.5" y="383.8" width="3.2" height="2.4"/>
<rect class="lt" x="948.8" y="370.6" width="3.2" height="2.4"/>
<rect class="lt" x="948.8" y="383.8" width="3.2" height="2.4"/>
<rect class="lt" x="954.1" y="370.6" width="3.2" height="2.4"/>
<rect class="lt" x="954.1" y="383.8" width="3.2" height="2.4"/>
<rect class="lt" x="959.4" y="370.6" width="3.2" height="2.4"/>
<rect class="lt" x="959.4" y="383.8" width="3.2" height="2.4"/>
<path d="M912.11 377.31h2.18M912.11 378.40h2.18M913.20 376.76v2.18M914.71 377.31h2.18M914.71 378.40h2.18M915.80 376.76v2.18" style="stroke:#444;stroke-width:0.40;fill:none" transform="rotate(-90 914.5 379.0)"/>
<path d="M965.61 381.31h2.18M965.61 382.40h2.18M966.70 380.76v2.18M968.21 381.31h2.18M968.21 382.40h2.18M969.30 380.76v2.18" style="stroke:#444;stroke-width:0.40;fill:none" transform="rotate(-90 968.0 383.0)"/>
<path class="w" d="M998.8 390.4L1082.4 390.4"/>
<path class="m" d="M998.8 392.0L1082.4 392.0"/>
<path class="dwall" d="M904.4 385L923.9 418.8L946.4 460.7L960.7 487.3L996.5 557.5Q999 562.6 1004 562.6H1048.7Q1055.9 562.6 1055.9 555V493.5"/>
<path class="dwalli" d="M904.4 385L923.9 418.8L946.4 460.7L960.7 487.3L996.5 557.5Q999 562.6 1004 562.6H1048.7Q1055.9 562.6 1055.9 555V493.5"/>
<path class="dwall" d="M940.3 443.3L959 408Q961.7 404.4 966 404.4H1032Q1036.5 404.4 1039 408.5L1093.8 505.8"/>
<path class="dwalli" d="M940.3 443.3L959 408Q961.7 404.4 966 404.4H1032Q1036.5 404.4 1039 408.5L1093.8 505.8"/>
<path class="dwall" d="M1033.4 392.2L1040 406"/>
<path class="dwalli" d="M1033.4 392.2L1040 406"/>
<path class="dwall" d="M948.4 463.8H1037Q1043 463.8 1046 469L1056.9 487.3"/>
<path class="dwalli" d="M948.4 463.8H1037Q1043 463.8 1046 469L1056.9 487.3"/>
<path class="wl" d="M959.7 484.3L1004.7 484.3"/>
<path class="w2" d="M1004.7 465.8L1004.7 484.3"/>
<rect class="k" x="1000.6" y="475.0" width="5.2" height="9.3"/>
<rect class="k" x="1031.3" y="552.8" width="5.2" height="9.2"/>
<rect class="m" x="983.2" y="431.7" width="35.8" height="8.6"/>
<rect class="fl" x="1009.4" y="470.5" width="22.6" height="12.7"/>
<rect class="lt" x="1011.0" y="472.0" width="19.4" height="9.7"/>
<rect class="w" x="989.4" y="490.4" width="54.2" height="21.1"/>
<rect class="f" x="1034.0" y="499.0" width="2.5" height="6.0"/>
<circle class="w" cx="1003.7" cy="526.6" r="13.3"/>
<circle class="w" cx="1030.3" cy="526.6" r="13.3"/>
<path class="lt" d="M996.0 515.5L1043.0 515.5"/>
<path class="lt" d="M996.0 537.0L1043.0 537.0"/>
<path d="M964.31 473.31h2.18M964.31 474.40h2.18M965.40 472.76v2.18M966.91 473.31h2.18M966.91 474.40h2.18M968.00 472.76v2.18M969.51 473.31h2.18M969.51 474.40h2.18M970.60 472.76v2.18" style="stroke:#444;stroke-width:0.40;fill:none"/>
<path d="M985.61 477.31h2.18M985.61 478.40h2.18M986.70 476.76v2.18M988.21 477.31h2.18M988.21 478.40h2.18M989.30 476.76v2.18" style="stroke:#444;stroke-width:0.40;fill:none"/>
<path d="M1013.79 493.94h2.02M1013.79 494.95h2.02M1014.80 493.44v2.02M1016.19 493.94h2.02M1016.19 494.95h2.02M1017.20 493.44v2.02" style="stroke:#444;stroke-width:0.37;fill:none"/>
<path d="M982.61 445.31h2.18M982.61 446.40h2.18M983.70 444.76v2.18M985.21 445.31h2.18M985.21 446.40h2.18M986.30 444.76v2.18" style="stroke:#444;stroke-width:0.40;fill:none"/>
<path d="M1001.49 525.94h2.02M1001.49 526.95h2.02M1002.50 525.44v2.02M1003.89 525.94h2.02M1003.89 526.95h2.02M1004.90 525.44v2.02" style="stroke:#444;stroke-width:0.37;fill:none"/>
<path d="M1028.09 525.94h2.02M1028.09 526.95h2.02M1029.10 525.44v2.02M1030.49 525.94h2.02M1030.49 526.95h2.02M1031.50 525.44v2.02" style="stroke:#444;stroke-width:0.37;fill:none"/>
<path d="M1068.61 511.31h2.18M1068.61 512.40h2.18M1069.70 510.76v2.18M1071.21 511.31h2.18M1071.21 512.40h2.18M1072.30 510.76v2.18" style="stroke:#444;stroke-width:0.40;fill:none"/>
<path d="M1055.95 422.38h2.10M1055.95 423.43h2.10M1057.00 421.85v2.10M1058.45 422.38h2.10M1058.45 423.43h2.10M1059.50 421.85v2.10M1060.95 422.38h2.10M1060.95 423.43h2.10M1062.00 421.85v2.10M1063.45 422.38h2.10M1063.45 423.43h2.10M1064.50 421.85v2.10M1065.95 422.38h2.10M1065.95 423.43h2.10M1067.00 421.85v2.10" style="stroke:#444;stroke-width:0.38;fill:none" transform="rotate(-90 1062.0 424.0)"/>
<path class="m" d="M1048.7 467.5L1068.5 462A20.5 20.5 0 0 1 1058.5 487"/>
<rect class="lt" x="1012.0" y="553.5" width="12.0" height="3.0"/>
<rect class="lt" x="1040.0" y="553.5" width="8.0" height="3.0"/>
<rect class="w" x="941.3" y="407.5" width="4.2" height="15" transform="rotate(32 943.4 415)"/>
<circle class="w" cx="949.5" cy="414.5" r="1.9"/>
<circle class="w" cx="947.0" cy="420.8" r="1.9"/>
<path class="w" d="M934.5 460.5L941 456.5L939 459.5L952.5 452.5"/>
<path class="k" d="M934.5 460.5L941 456.5L939.6 459.8Z"/>
<path class="w" d="M1049 446.5L1062 440.5L1060 443.5L1068 437.8"/>
<path class="k" d="M1068.3 437.6L1061.2 439.2L1063 443Z"/>
<circle class="k" cx="929.5" cy="404.5" r="1.0"/>
<path class="w3" d="M1086.5 475.0L1096.8 475.0"/>
<path class="w2" d="M1096.8 474.0L1096.8 718.6"/>
<path class="w" d="M1093.8 476.5L1093.8 718.0"/>
<path class="fl" d="M1099.0 476.0L1099.0 700.0"/>
<rect class="k" x="1093.5" y="505.8" width="3.6" height="14.2"/>
<rect class="kgt" x="1094.2" y="530.0" width="2.2" height="8.0"/>
<rect class="kgt" x="1094.2" y="544.0" width="2.2" height="8.0"/>
<rect class="kgt" x="1094.2" y="558.0" width="2.2" height="8.0"/>
<rect class="kgt" x="1094.2" y="572.0" width="2.2" height="8.0"/>
<rect class="kgt" x="1094.2" y="586.0" width="2.2" height="8.0"/>
<rect class="kgt" x="1094.2" y="600.0" width="2.2" height="8.0"/>
<rect class="kgt" x="1094.2" y="614.0" width="2.2" height="8.0"/>
<rect class="kgt" x="1094.2" y="628.0" width="2.2" height="8.0"/>
<rect class="kgt" x="1094.2" y="642.0" width="2.2" height="8.0"/>
<rect class="kgt" x="1094.2" y="656.0" width="2.2" height="8.0"/>
<rect class="kgt" x="1094.2" y="670.0" width="2.2" height="8.0"/>
<rect class="kgt" x="1094.2" y="684.0" width="2.2" height="8.0"/>
<rect class="kgt" x="1094.2" y="698.0" width="2.2" height="8.0"/>
<path class="fl" d="M1088 419.8H1096.4A8.4 8.4 0 0 1 1088 428.2"/>
<path class="fl" d="M1088 438.5H1096.4A8.4 8.4 0 0 0 1088 430.1"/>
<path class="fl" d="M1088 448.79999999999995H1096.4A8.4 8.4 0 0 0 1088 440.4"/>
<path class="none" d="M928.0 481.2L956.6 570.0L938.6 540.0"/>
<path class="f" d="M927.5 482.0L959.6 585.2L940.7 632.0"/>
<path class="none" d="M938.6 540.0L949.0 546.0"/>
<path class="f" d="M934.5 497.0L962.7 585.2L944.9 632.0L940.7 632.0"/>
<rect class="w2" x="944.5" y="593.3" width="3.2" height="3.2"/>
<rect class="w2" x="941.7" y="599.8" width="3.2" height="3.2"/>
<rect class="hz" x="946.0" y="574.5" width="8.0" height="4.0"/>
<rect class="w" x="1078.3" y="551.6" width="6.3" height="63.0"/>
<path class="f" d="M1081.5 561.0L1081.5 601.0"/>
<rect class="k" x="1079.4" y="601.0" width="5.2" height="9.4"/>
<rect class="gf" x="1079.0" y="552.0" width="5.0" height="9.0"/>
<path class="w" d="M1078.3 614.6L1096.0 614.6"/>
<rect class="m" x="1060.5" y="621.0" width="30.5" height="9.4"/>
<rect class="m" x="1082.0" y="621.0" width="9.0" height="49.3"/>
<rect class="m" x="1068.9" y="661.5" width="22.1" height="8.8"/>
<rect class="m" x="1064.2" y="636.2" width="9.9" height="9.5"/>
<rect class="m" x="1051.0" y="650.3" width="8.4" height="9.1"/>
<path class="m" d="M1060.5 626.0L1052.0 626.0L1052.0 666.0L1068.9 666.0"/>
<path d="M1064.68 651.57h1.85M1064.68 652.49h1.85M1065.60 651.11v1.85M1066.88 651.57h1.85M1066.88 652.49h1.85M1067.80 651.11v1.85M1069.08 651.57h1.85M1069.08 652.49h1.85M1070.00 651.11v1.85M1071.28 651.57h1.85M1071.28 652.49h1.85M1072.20 651.11v1.85M1073.48 651.57h1.85M1073.48 652.49h1.85M1074.40 651.11v1.85" style="stroke:#444;stroke-width:0.35;fill:none"/>
<rect class="w" x="1030.4" y="661.5" width="7.4" height="30.2"/>
<rect class="k" x="1031.0" y="663.8" width="6.2" height="9.5"/>
<rect class="k" x="1031.0" y="681.5" width="6.2" height="8.8"/>
<path class="w" d="M1032.5 672.5L1034 680L1035.5 672.5"/>
<path class="w2" d="M927.0 691.7L1058.4 691.7"/>
<path class="w" d="M946.0 689.5L946.0 691.7"/>
<path class="w" d="M1003.0 689.5L1003.0 691.7"/>
<path class="w" d="M1048.0 689.5L1048.0 691.7"/>
<path class="w2" d="M787.5 718.4L1075.0 718.4"/>
<path class="wl3" d="M1059.4 680.8H1096.2V718.6H1075.2L1059.4 692.3Z"/>
<path class="f" d="M1062 683.2H1094V716H1076.6L1062 692Z"/>
<rect class="k" x="1079.4" y="681.2" width="5.2" height="8.4"/>
<path class="k" d="M1097.5 691.5L1101.2 688.8V694.2Z"/>
<path class="fl" d="M1083.0 690.0L1090.0 690.0L1090.0 712.0L1076.0 712.0"/>
<path d="M1071.59 698.44h2.02M1071.59 699.45h2.02M1072.60 697.94v2.02M1073.99 698.44h2.02M1073.99 699.45h2.02M1075.00 697.94v2.02M1076.39 698.44h2.02M1076.39 699.45h2.02M1077.40 697.94v2.02" style="stroke:#444;stroke-width:0.37;fill:none"/>
<rect class="fl" x="1098.0" y="697.0" width="6.0" height="12.0"/>
<path class="k" d="M985.9 705.6L989 701.6L992.2 705.6Z"/>
<path d="M986.16 708.20h1.68M986.16 709.04h1.68M987.00 707.78v1.68M988.16 708.20h1.68M988.16 709.04h1.68M989.00 707.78v1.68M990.16 708.20h1.68M990.16 709.04h1.68M991.00 707.78v1.68" style="stroke:#444;stroke-width:0.35;fill:none"/>
<path d="M1003.61 618.31h2.18M1003.61 619.40h2.18M1004.70 617.76v2.18M1006.21 618.31h2.18M1006.21 619.40h2.18M1007.30 617.76v2.18" style="stroke:#444;stroke-width:0.40;fill:none"/>
<rect class="hz" x="1058.0" y="592.5" width="8.0" height="4.0"/>
<rect class="k" x="921.3" y="476.0" width="4.9" height="7.2"/>
<path class="w" d="M923.2 483.0L923.2 549.0"/>
<path class="m" d="M926.6 472.0L926.6 549.0"/>
<path class="m" d="M921 467L926.6 472"/>
<circle class="k" cx="921.6" cy="489.0" r="1.0"/>
<circle class="k" cx="921.6" cy="497.0" r="1.0"/>
<circle class="k" cx="921.6" cy="505.0" r="1.0"/>
<circle class="k" cx="921.6" cy="513.0" r="1.0"/>
<circle class="k" cx="921.6" cy="521.0" r="1.0"/>
<circle class="k" cx="921.6" cy="529.0" r="1.0"/>
<circle class="k" cx="921.6" cy="537.0" r="1.0"/>
<circle class="k" cx="921.6" cy="545.0" r="1.0"/>
<path class="w" d="M240.9 549.7L382.9 549.7"/>
<path class="f" d="M242.0 551.3L382.0 551.3"/>
<path class="w" d="M241.3 549.7L241.3 715.8"/>
<path class="f" d="M243.0 551.0L243.0 714.0"/>
<path class="w" d="M240.9 715.8L327.2 715.8"/>
<path class="f" d="M243.0 714.0L326.0 714.0"/>
<circle class="k" cx="240.9" cy="549.7" r="1.3"/>
<circle class="k" cx="256.6" cy="549.7" r="1.3"/>
<circle class="k" cx="272.3" cy="549.7" r="1.3"/>
<circle class="k" cx="288.0" cy="549.7" r="1.3"/>
<circle class="k" cx="303.7" cy="549.7" r="1.3"/>
<circle class="k" cx="319.4" cy="549.7" r="1.3"/>
<circle class="k" cx="335.1" cy="549.7" r="1.3"/>
<circle class="k" cx="350.8" cy="549.7" r="1.3"/>
<circle class="k" cx="366.5" cy="549.7" r="1.3"/>
<circle class="k" cx="382.2" cy="549.7" r="1.3"/>
<circle class="k" cx="242.0" cy="715.8" r="1.3"/>
<circle class="k" cx="252.4" cy="715.8" r="1.3"/>
<circle class="k" cx="262.8" cy="715.8" r="1.3"/>
<circle class="k" cx="273.2" cy="715.8" r="1.3"/>
<circle class="k" cx="283.6" cy="715.8" r="1.3"/>
<circle class="k" cx="294.0" cy="715.8" r="1.3"/>
<circle class="k" cx="304.4" cy="715.8" r="1.3"/>
<circle class="k" cx="314.8" cy="715.8" r="1.3"/>
<circle class="k" cx="325.2" cy="715.8" r="1.3"/>
<path class="w2" d="M235.5 560.9L242.6 560.9"/>
<path class="k" d="M238.5 559.5899676375406L241.5 560.8899676375405L238.5 562.1899676375405Z"/>
<path class="w2" d="M235.5 571.7L242.6 571.7"/>
<path class="k" d="M238.5 570.3774541531824L241.5 571.6774541531823L238.5 572.9774541531823Z"/>
<path class="w2" d="M235.5 582.9L242.6 582.9"/>
<path class="k" d="M238.5 581.5964401294499L241.5 582.8964401294498L238.5 584.1964401294498Z"/>
<path class="w2" d="M235.5 594.3L242.6 594.3"/>
<path class="k" d="M238.5 593.0311758360302L241.5 594.3311758360302L238.5 595.6311758360301Z"/>
<path class="w2" d="M235.5 605.8L242.6 605.8"/>
<path class="k" d="M238.5 604.4659115426107L241.5 605.7659115426106L238.5 607.0659115426106Z"/>
<path class="w2" d="M235.5 617.0L242.6 617.0"/>
<path class="k" d="M238.5 615.6848975188782L241.5 616.9848975188781L238.5 618.2848975188781Z"/>
<path class="w2" d="M235.5 628.2L242.6 628.2"/>
<path class="k" d="M238.5 626.9038834951457L241.5 628.2038834951456L238.5 629.5038834951456Z"/>
<path class="w2" d="M235.5 639.2L242.6 639.2"/>
<path class="k" d="M238.5 637.9071197411004L241.5 639.2071197411003L238.5 640.5071197411003Z"/>
<path class="w2" d="M235.5 650.4L242.6 650.4"/>
<path class="k" d="M238.5 649.1261057173679L241.5 650.4261057173678L238.5 651.7261057173678Z"/>
<path class="w2" d="M235.5 661.2L242.6 661.2"/>
<path class="k" d="M238.5 659.9135922330098L241.5 661.2135922330098L238.5 662.5135922330097Z"/>
<path class="w2" d="M235.5 672.6L242.6 672.6"/>
<path class="k" d="M238.5 671.3483279395901L241.5 672.6483279395901L238.5 673.9483279395901Z"/>
<path class="w2" d="M235.5 683.9L242.6 683.9"/>
<path class="k" d="M238.5 682.5673139158577L241.5 683.8673139158576L238.5 685.1673139158576Z"/>
<path class="w2" d="M235.5 695.1L242.6 695.1"/>
<path class="k" d="M238.5 693.7862998921252L241.5 695.0862998921251L238.5 696.3862998921251Z"/>
<path class="w2" d="M235.5 706.1L242.6 706.1"/>
<path class="k" d="M238.5 704.7895361380799L241.5 706.0895361380799L238.5 707.3895361380798Z"/>
<path class="fl" d="M241.0 611.6L233.3 611.6L233.3 723.8L333.7 723.8L333.7 716.0"/>
<path class="fl" d="M233.3 723.8L241.0 715.8"/>
<path class="fl" d="M333.7 723.8L327.0 715.8"/>
<rect class="k" x="242.6" y="552.7" width="6.5" height="8.6"/>
<rect class="k" x="242.6" y="601.5" width="6.5" height="8.6"/>
<rect class="k" x="242.6" y="681.3" width="6.5" height="8.6"/>
<rect class="k" x="330.4" y="552.7" width="6.5" height="8.6"/>
<rect class="k" x="330.5" y="601.5" width="6.3" height="8.6"/>
<rect class="k" x="330.8" y="681.3" width="5.6" height="8.6"/>
<rect class="k" x="374.4" y="552.7" width="6.5" height="8.6"/>
<rect class="k" x="374.6" y="601.5" width="6.3" height="8.6"/>
<rect class="k" x="374.9" y="681.3" width="5.6" height="8.6"/>
<rect class="k" x="349.8" y="553.3" width="5.0" height="4.4"/>
<rect class="k" x="349.8" y="605.8" width="5.0" height="4.4"/>
<path class="w" d="M331.5 551.0L331.5 610.5"/>
<path class="wl" d="M330.4 609.8L382.9 609.8"/>
<path class="wl" d="M381.8 549.7L381.8 610.5"/>
<path class="f" d="M379.6 551.0L379.6 609.0"/>
<circle class="k" cx="382.0" cy="566.0" r="1.0"/>
<circle class="k" cx="382.0" cy="575.0" r="1.0"/>
<circle class="k" cx="382.0" cy="584.0" r="1.0"/>
<circle class="k" cx="382.0" cy="593.0" r="1.0"/>
<circle class="k" cx="382.0" cy="602.0" r="1.0"/>
<rect class="fl" x="352.0" y="573.8" width="14.0" height="19.4"/>
<path class="fl" d="M352.0 575.6L366.0 575.6"/>
<path class="fl" d="M352.0 577.7L366.0 577.7"/>
<path class="fl" d="M352.0 579.8L366.0 579.8"/>
<path class="fl" d="M352.0 581.9L366.0 581.9"/>
<path class="fl" d="M352.0 584.0L366.0 584.0"/>
<path class="fl" d="M352.0 586.1L366.0 586.1"/>
<path class="fl" d="M352.0 588.2L366.0 588.2"/>
<path class="fl" d="M352.0 590.3L366.0 590.3"/>
<path class="fl" d="M352.0 592.4L366.0 592.4"/>
<path class="w" d="M365 572.8H376.8L365 584.6Z"/>
<path class="w" d="M365.0 572.8L365.0 593.0"/>
<path class="f" d="M371.0 568.0L371.0 573.0"/>
<rect class="f" x="331.5" y="583.5" width="5.4" height="17.3"/>
<rect class="fl" x="339.0" y="574.0" width="12.0" height="30.0"/>
<path class="fl" d="M345.0 574.0L345.0 604.0"/>
<rect class="f" x="340.0" y="583.0" width="5.0" height="8.0"/>
<rect class="f" x="346.0" y="590.0" width="4.0" height="10.0"/>
<rect class="kgt" x="330.4" y="573.4" width="22.6" height="2.6"/>
<path class="w2" d="M336.0 556.0L352.0 556.0"/>
<rect class="f" x="337.0" y="554.0" width="12.0" height="3.0"/>
<path class="lt" d="M339 559Q344 566 352 566"/>
<path d="M321.79 557.94h2.02M321.79 558.95h2.02M322.80 557.44v2.02M324.19 557.94h2.02M324.19 558.95h2.02M325.20 557.44v2.02" style="stroke:#9a9a9a;stroke-width:0.37;fill:none"/>
<path class="w2" d="M380.7 561H389M383 557V566"/>
<path class="w2" d="M325.0 610.5L331.0 610.5"/>
<path class="w2" d="M325.0 627.0L331.0 627.0"/>
<path class="m" d="M383.5 605.8A6 6 0 0 1 395.5 605.8"/>
<path class="fl" d="M389.5 605.8L389.5 599.8"/>
<circle class="k" cx="383.5" cy="605.8" r="1.0"/>
<path class="m" d="M395.9 605.8A6 6 0 0 1 407.9 605.8"/>
<path class="fl" d="M401.9 605.8L401.9 599.8"/>
<circle class="k" cx="395.9" cy="605.8" r="1.0"/>
<path class="m" d="M408.3 605.8A6 6 0 0 1 420.3 605.8"/>
<path class="fl" d="M414.3 605.8L414.3 599.8"/>
<circle class="k" cx="408.3" cy="605.8" r="1.0"/>
<path class="m" d="M420.7 605.8A6 6 0 0 1 432.7 605.8"/>
<path class="fl" d="M426.7 605.8L426.7 599.8"/>
<circle class="k" cx="420.7" cy="605.8" r="1.0"/>
<circle class="k" cx="433.0" cy="605.8" r="1.0"/>
<path class="fl" d="M383.5 665.5A6 6 0 0 0 395.5 665.5"/>
<path class="fl" d="M389.5 665.5L389.5 671.5"/>
<circle class="k" cx="383.5" cy="665.5" r="1.0"/>
<path class="fl" d="M395.9 665.5A6 6 0 0 0 407.9 665.5"/>
<path class="fl" d="M401.9 665.5L401.9 671.5"/>
<circle class="k" cx="395.9" cy="665.5" r="1.0"/>
<path class="fl" d="M408.3 665.5A6 6 0 0 0 420.3 665.5"/>
<path class="fl" d="M414.3 665.5L414.3 671.5"/>
<circle class="k" cx="408.3" cy="665.5" r="1.0"/>
<path class="fl" d="M420.7 665.5A6 6 0 0 0 432.7 665.5"/>
<path class="fl" d="M426.7 665.5L426.7 671.5"/>
<circle class="k" cx="420.7" cy="665.5" r="1.0"/>
<circle class="k" cx="433.0" cy="665.5" r="1.0"/>
<path class="w2" d="M382.9 665.5L433.0 665.5"/>
<path class="wl4" d="M330.4 627.3H333.2V712.2H380.3V627.3H382.9"/>
<path class="f" d="M335.0 629.0L335.0 710.5"/>
<path class="f" d="M378.5 629.0L378.5 710.5"/>
<path class="f" d="M335.0 710.5L378.5 710.5"/>
<circle class="k" cx="336.0" cy="713.8" r="0.9"/>
<circle class="k" cx="341.3" cy="713.8" r="0.9"/>
<circle class="k" cx="346.6" cy="713.8" r="0.9"/>
<circle class="k" cx="351.9" cy="713.8" r="0.9"/>
<circle class="k" cx="357.2" cy="713.8" r="0.9"/>
<circle class="k" cx="362.5" cy="713.8" r="0.9"/>
<circle class="k" cx="367.8" cy="713.8" r="0.9"/>
<circle class="k" cx="373.1" cy="713.8" r="0.9"/>
<circle class="k" cx="378.4" cy="713.8" r="0.9"/>
<path class="w" d="M333.2 636.4L380.3 636.4"/>
<path class="w" d="M355.7 636.4L355.7 662.3"/>
<path class="w" d="M333.2 662.3L380.3 662.3"/>
<rect class="m" x="337.5" y="641.1" width="13.0" height="13.6"/>
<path class="m" d="M337.5 641.1L350.5 654.7"/>
<path class="m" d="M350.5 641.1L337.5 654.7"/>
<rect class="m" x="360.6" y="641.1" width="13.0" height="13.6"/>
<path class="m" d="M360.6 641.1L373.6 654.7"/>
<path class="m" d="M373.6 641.1L360.6 654.7"/>
<rect class="f" x="339.0" y="655.5" width="10.0" height="2.0"/>
<rect class="f" x="362.0" y="655.5" width="10.0" height="2.0"/>
<path class="w2" d="M340 638H347M363 638H370"/>
<rect class="k" x="381.2" y="668.0" width="1.6" height="9.0"/>
<path d="M347.41 620.81h2.18M347.41 621.90h2.18M348.50 620.26v2.18M350.01 620.81h2.18M350.01 621.90h2.18M351.10 620.26v2.18M352.61 620.81h2.18M352.61 621.90h2.18M353.70 620.26v2.18M355.21 620.81h2.18M355.21 621.90h2.18M356.30 620.26v2.18M357.81 620.81h2.18M357.81 621.90h2.18M358.90 620.26v2.18M360.41 620.81h2.18M360.41 621.90h2.18M361.50 620.26v2.18" style="stroke:#444;stroke-width:0.40;fill:none"/>
<path d="M345.81 679.31h2.18M345.81 680.40h2.18M346.90 678.76v2.18M348.41 679.31h2.18M348.41 680.40h2.18M349.50 678.76v2.18M351.01 679.31h2.18M351.01 680.40h2.18M352.10 678.76v2.18M353.61 679.31h2.18M353.61 680.40h2.18M354.70 678.76v2.18M356.21 679.31h2.18M356.21 680.40h2.18M357.30 678.76v2.18M358.81 679.31h2.18M358.81 680.40h2.18M359.90 678.76v2.18M361.41 679.31h2.18M361.41 680.40h2.18M362.50 678.76v2.18M364.01 679.31h2.18M364.01 680.40h2.18M365.10 678.76v2.18" style="stroke:#444;stroke-width:0.40;fill:none"/>
<text class="tk" x="356.0" y="684.5" font-size="2.3" text-anchor="middle">Lift machine room</text>
<path d="M263.61 629.31h2.18M263.61 630.40h2.18M264.70 628.76v2.18M266.21 629.31h2.18M266.21 630.40h2.18M267.30 628.76v2.18" style="stroke:#9a9a9a;stroke-width:0.40;fill:none"/>
<path class="w3" d="M323.5 706.5H327V713H333"/>
<rect class="fl" x="318.0" y="712.0" width="9.0" height="3.5"/>
<text class="t" x="268.0" y="738.5" font-size="3" text-anchor="middle">±0.00</text>
<path class="fl" d="M258.0 741.0L272.0 741.0"/>
<path class="w" d="M433.6 549.7L926.6 549.7"/>
<path class="f" d="M435.0 551.2L925.0 551.2"/>
<circle class="k" cx="439.0" cy="549.7" r="1.2"/>
<circle class="k" cx="455.2" cy="549.7" r="1.2"/>
<circle class="k" cx="463.8" cy="549.7" r="1.2"/>
<circle class="k" cx="477.9" cy="549.7" r="1.2"/>
<circle class="k" cx="486.5" cy="549.7" r="1.2"/>
<circle class="k" cx="501.6" cy="549.7" r="1.2"/>
<circle class="k" cx="517.8" cy="549.7" r="1.2"/>
<circle class="k" cx="534.0" cy="549.7" r="1.2"/>
<circle class="k" cx="542.6" cy="549.7" r="1.2"/>
<circle class="k" cx="556.6" cy="549.7" r="1.2"/>
<circle class="k" cx="564.8" cy="549.7" r="1.2"/>
<circle class="k" cx="580.8" cy="549.7" r="1.2"/>
<circle class="k" cx="597.6" cy="549.7" r="1.2"/>
<circle class="k" cx="607.3" cy="549.7" r="1.2"/>
<circle class="k" cx="614.9" cy="549.7" r="1.2"/>
<circle class="k" cx="623.5" cy="549.7" r="1.2"/>
<circle class="k" cx="635.4" cy="549.7" r="1.2"/>
<circle class="k" cx="644.6" cy="549.7" r="1.2"/>
<circle class="k" cx="660.2" cy="549.7" r="1.2"/>
<circle class="k" cx="677.0" cy="549.7" r="1.2"/>
<circle class="k" cx="692.6" cy="549.7" r="1.2"/>
<circle class="k" cx="701.3" cy="549.7" r="1.2"/>
<circle class="k" cx="715.3" cy="549.7" r="1.2"/>
<circle class="k" cx="723.9" cy="549.7" r="1.2"/>
<circle class="k" cx="740.1" cy="549.7" r="1.2"/>
<circle class="k" cx="756.3" cy="549.7" r="1.2"/>
<circle class="k" cx="771.4" cy="549.7" r="1.2"/>
<circle class="k" cx="780.0" cy="549.7" r="1.2"/>
<circle class="k" cx="788.2" cy="549.7" r="1.2"/>
<circle class="k" cx="804.8" cy="549.7" r="1.2"/>
<circle class="k" cx="819.9" cy="549.7" r="1.2"/>
<circle class="k" cx="836.0" cy="549.7" r="1.2"/>
<circle class="k" cx="850.1" cy="549.7" r="1.2"/>
<circle class="k" cx="861.9" cy="549.7" r="1.2"/>
<circle class="k" cx="870.6" cy="549.7" r="1.2"/>
<circle class="k" cx="887.8" cy="549.7" r="1.2"/>
<circle class="k" cx="895.4" cy="549.7" r="1.2"/>
<circle class="k" cx="909.4" cy="549.7" r="1.2"/>
<circle class="k" cx="921.2" cy="549.7" r="1.2"/>
<path class="w" d="M455.3 549.7A4.2 2.6 0 0 0 463.7 549.7"/>
<path class="w" d="M478.0 549.7A4.2 2.6 0 0 0 486.4 549.7"/>
<path class="w" d="M534.0999999999999 549.7A4.2 2.6 0 0 0 542.5 549.7"/>
<path class="w" d="M556.5 549.7A4.2 2.6 0 0 0 564.9000000000001 549.7"/>
<path class="w" d="M692.8 549.7A4.2 2.6 0 0 0 701.2 549.7"/>
<path class="w" d="M715.4 549.7A4.2 2.6 0 0 0 723.8000000000001 549.7"/>
<path class="w" d="M771.5 549.7A4.2 2.6 0 0 0 779.9000000000001 549.7"/>
<path class="fl" d="M608 549V541.5Q614.0 542 615.0 549Q616.0 542 622 541.5V549"/>
<path class="fl" d="M788 549V541.5Q795.0 542 796.0 549Q797.0 542 804 541.5V549"/>
<path class="fl" d="M871 549V541.5Q878.0 542 879.0 549Q880.0 542 887 541.5V549"/>
<path class="w" d="M434.0 549.7L434.0 642.4"/>
<path class="m" d="M437.2 551.0L437.2 642.4"/>
<path class="fl" d="M440.0 551.0L440.0 642.4"/>
<path class="w" d="M433.6 642.4H591Q602 641.5 602.3 630V551"/>
<path class="m" d="M594.4 551V628"/>
<rect class="m" x="594.6" y="561.0" width="7.5" height="60.3"/>
<path class="m" d="M594.6 567.7L602.1 567.7"/>
<path class="m" d="M594.6 574.4L602.1 574.4"/>
<path class="m" d="M594.6 581.1L602.1 581.1"/>
<path class="m" d="M594.6 587.8L602.1 587.8"/>
<path class="m" d="M594.6 594.5L602.1 594.5"/>
<path class="m" d="M594.6 601.2L602.1 601.2"/>
<path class="m" d="M594.6 607.9L602.1 607.9"/>
<path class="m" d="M594.6 614.6L602.1 614.6"/>
<path class="fl" d="M598.3 561.0L598.3 621.3"/>
<rect class="k" x="435.8" y="552.7" width="5.4" height="7.1"/>
<rect class="k" x="510.2" y="552.7" width="9.8" height="8.6"/>
<rect class="k" x="594.4" y="552.6" width="5.8" height="8.3"/>
<rect class="k" x="674.2" y="552.7" width="5.8" height="8.2"/>
<rect class="k" x="435.8" y="602.2" width="5.4" height="7.1"/>
<rect class="k" x="594.9" y="603.0" width="7.5" height="7.5"/>
<rect class="k" x="509.6" y="626.7" width="10.4" height="8.6"/>
<rect class="k" x="674.6" y="602.8" width="4.8" height="6.5"/>
<rect class="k" x="435.8" y="681.6" width="5.4" height="8.3"/>
<rect class="k" x="515.1" y="681.6" width="5.4" height="8.3"/>
<rect class="k" x="594.9" y="681.6" width="5.4" height="8.3"/>
<rect class="k" x="674.3" y="681.6" width="5.4" height="8.3"/>
<rect class="w" x="441.2" y="555.5" width="11.8" height="10.8"/>
<rect class="w2" x="442.5" y="556.0" width="4.0" height="3.5"/>
<rect class="w2" x="447.5" y="556.0" width="4.0" height="3.5"/>
<path class="f" d="M441.2 560.5L453.0 560.5"/>
<rect class="tbd" x="467.1" y="569.1" width="6.5" height="50.0"/>
<path class="rts" d="M467.1 581.6L473.6 581.6"/>
<path class="rts" d="M467.1 594.1L473.6 594.1"/>
<path class="rts" d="M467.1 606.6L473.6 606.6"/>
<circle class="ch" cx="476.3" cy="572.6" r="2.1"/>
<circle class="ch" cx="476.3" cy="578.8" r="2.1"/>
<circle class="ch" cx="476.3" cy="584.9" r="2.1"/>
<circle class="ch" cx="476.3" cy="591.1" r="2.1"/>
<circle class="ch" cx="476.3" cy="597.2" r="2.1"/>
<circle class="ch" cx="476.3" cy="603.4" r="2.1"/>
<circle class="ch" cx="476.3" cy="609.5" r="2.1"/>
<circle class="ch" cx="476.3" cy="615.6" r="2.1"/>
<rect class="tbd" x="481.1" y="569.1" width="6.5" height="50.0"/>
<path class="rts" d="M481.1 581.6L487.6 581.6"/>
<path class="rts" d="M481.1 594.1L487.6 594.1"/>
<path class="rts" d="M481.1 606.6L487.6 606.6"/>
<circle class="ch" cx="490.3" cy="572.6" r="2.1"/>
<circle class="ch" cx="490.3" cy="578.8" r="2.1"/>
<circle class="ch" cx="490.3" cy="584.9" r="2.1"/>
<circle class="ch" cx="490.3" cy="591.1" r="2.1"/>
<circle class="ch" cx="490.3" cy="597.2" r="2.1"/>
<circle class="ch" cx="490.3" cy="603.4" r="2.1"/>
<circle class="ch" cx="490.3" cy="609.5" r="2.1"/>
<circle class="ch" cx="490.3" cy="615.6" r="2.1"/>
<rect class="tbd" x="495.1" y="569.1" width="6.5" height="50.0"/>
<path class="rts" d="M495.1 581.6L501.6 581.6"/>
<path class="rts" d="M495.1 594.1L501.6 594.1"/>
<path class="rts" d="M495.1 606.6L501.6 606.6"/>
<circle class="ch" cx="504.3" cy="572.6" r="2.1"/>
<circle class="ch" cx="504.3" cy="578.8" r="2.1"/>
<circle class="ch" cx="504.3" cy="584.9" r="2.1"/>
<circle class="ch" cx="504.3" cy="591.1" r="2.1"/>
<circle class="ch" cx="504.3" cy="597.2" r="2.1"/>
<circle class="ch" cx="504.3" cy="603.4" r="2.1"/>
<circle class="ch" cx="504.3" cy="609.5" r="2.1"/>
<circle class="ch" cx="504.3" cy="615.6" r="2.1"/>
<rect class="tbd" x="509.6" y="569.1" width="6.5" height="50.0"/>
<path class="rts" d="M509.6 581.6L516.1 581.6"/>
<path class="rts" d="M509.6 594.1L516.1 594.1"/>
<path class="rts" d="M509.6 606.6L516.1 606.6"/>
<circle class="ch" cx="518.8" cy="572.6" r="2.1"/>
<circle class="ch" cx="518.8" cy="578.8" r="2.1"/>
<circle class="ch" cx="518.8" cy="584.9" r="2.1"/>
<circle class="ch" cx="518.8" cy="591.1" r="2.1"/>
<circle class="ch" cx="518.8" cy="597.2" r="2.1"/>
<circle class="ch" cx="518.8" cy="603.4" r="2.1"/>
<circle class="ch" cx="518.8" cy="609.5" r="2.1"/>
<circle class="ch" cx="518.8" cy="615.6" r="2.1"/>
<rect class="tbd" x="523.6" y="569.1" width="6.5" height="50.0"/>
<path class="rts" d="M523.6 581.6L530.1 581.6"/>
<path class="rts" d="M523.6 594.1L530.1 594.1"/>
<path class="rts" d="M523.6 606.6L530.1 606.6"/>
<circle class="ch" cx="532.8" cy="572.6" r="2.1"/>
<circle class="ch" cx="532.8" cy="578.8" r="2.1"/>
<circle class="ch" cx="532.8" cy="584.9" r="2.1"/>
<circle class="ch" cx="532.8" cy="591.1" r="2.1"/>
<circle class="ch" cx="532.8" cy="597.2" r="2.1"/>
<circle class="ch" cx="532.8" cy="603.4" r="2.1"/>
<circle class="ch" cx="532.8" cy="609.5" r="2.1"/>
<circle class="ch" cx="532.8" cy="615.6" r="2.1"/>
<rect class="tbd" x="537.6" y="569.1" width="6.5" height="50.0"/>
<path class="rts" d="M537.6 581.6L544.1 581.6"/>
<path class="rts" d="M537.6 594.1L544.1 594.1"/>
<path class="rts" d="M537.6 606.6L544.1 606.6"/>
<circle class="ch" cx="546.8" cy="572.6" r="2.1"/>
<circle class="ch" cx="546.8" cy="578.8" r="2.1"/>
<circle class="ch" cx="546.8" cy="584.9" r="2.1"/>
<circle class="ch" cx="546.8" cy="591.1" r="2.1"/>
<circle class="ch" cx="546.8" cy="597.2" r="2.1"/>
<circle class="ch" cx="546.8" cy="603.4" r="2.1"/>
<circle class="ch" cx="546.8" cy="609.5" r="2.1"/>
<circle class="ch" cx="546.8" cy="615.6" r="2.1"/>
<rect class="tbd" x="551.9" y="569.1" width="6.5" height="50.0"/>
<path class="rts" d="M551.9 581.6L558.4 581.6"/>
<path class="rts" d="M551.9 594.1L558.4 594.1"/>
<path class="rts" d="M551.9 606.6L558.4 606.6"/>
<circle class="ch" cx="561.1" cy="572.6" r="2.1"/>
<circle class="ch" cx="561.1" cy="578.8" r="2.1"/>
<circle class="ch" cx="561.1" cy="584.9" r="2.1"/>
<circle class="ch" cx="561.1" cy="591.1" r="2.1"/>
<circle class="ch" cx="561.1" cy="597.2" r="2.1"/>
<circle class="ch" cx="561.1" cy="603.4" r="2.1"/>
<circle class="ch" cx="561.1" cy="609.5" r="2.1"/>
<circle class="ch" cx="561.1" cy="615.6" r="2.1"/>
<rect class="tbd" x="565.9" y="569.1" width="6.5" height="50.0"/>
<path class="rts" d="M565.9 581.6L572.4 581.6"/>
<path class="rts" d="M565.9 594.1L572.4 594.1"/>
<path class="rts" d="M565.9 606.6L572.4 606.6"/>
<circle class="ch" cx="575.1" cy="572.6" r="2.1"/>
<circle class="ch" cx="575.1" cy="578.8" r="2.1"/>
<circle class="ch" cx="575.1" cy="584.9" r="2.1"/>
<circle class="ch" cx="575.1" cy="591.1" r="2.1"/>
<circle class="ch" cx="575.1" cy="597.2" r="2.1"/>
<circle class="ch" cx="575.1" cy="603.4" r="2.1"/>
<circle class="ch" cx="575.1" cy="609.5" r="2.1"/>
<circle class="ch" cx="575.1" cy="615.6" r="2.1"/>
<rect class="k" x="473.5" y="631.7" width="88.5" height="4.7"/>
<circle class="ov" cx="476.0" cy="634.0" r="0.8"/>
<circle class="ov" cx="478.9" cy="634.0" r="0.8"/>
<circle class="ov" cx="481.8" cy="634.0" r="0.8"/>
<circle class="ov" cx="484.7" cy="634.0" r="0.8"/>
<circle class="ov" cx="487.6" cy="634.0" r="0.8"/>
<circle class="ov" cx="490.5" cy="634.0" r="0.8"/>
<circle class="ov" cx="493.4" cy="634.0" r="0.8"/>
<circle class="ov" cx="496.3" cy="634.0" r="0.8"/>
<circle class="ov" cx="499.2" cy="634.0" r="0.8"/>
<circle class="ov" cx="502.1" cy="634.0" r="0.8"/>
<circle class="ov" cx="505.0" cy="634.0" r="0.8"/>
<circle class="ov" cx="507.9" cy="634.0" r="0.8"/>
<circle class="ov" cx="510.8" cy="634.0" r="0.8"/>
<circle class="ov" cx="513.7" cy="634.0" r="0.8"/>
<circle class="ov" cx="516.6" cy="634.0" r="0.8"/>
<circle class="ov" cx="519.5" cy="634.0" r="0.8"/>
<circle class="ov" cx="522.4" cy="634.0" r="0.8"/>
<circle class="ov" cx="525.3" cy="634.0" r="0.8"/>
<circle class="ov" cx="528.2" cy="634.0" r="0.8"/>
<circle class="ov" cx="531.1" cy="634.0" r="0.8"/>
<circle class="ov" cx="534.0" cy="634.0" r="0.8"/>
<circle class="ov" cx="536.9" cy="634.0" r="0.8"/>
<circle class="ov" cx="539.8" cy="634.0" r="0.8"/>
<circle class="ov" cx="542.7" cy="634.0" r="0.8"/>
<circle class="ov" cx="545.6" cy="634.0" r="0.8"/>
<circle class="ov" cx="548.5" cy="634.0" r="0.8"/>
<circle class="ov" cx="551.4" cy="634.0" r="0.8"/>
<circle class="ov" cx="554.3" cy="634.0" r="0.8"/>
<circle class="ov" cx="557.2" cy="634.0" r="0.8"/>
<circle class="ov" cx="560.1" cy="634.0" r="0.8"/>
<rect class="fl" x="473.5" y="636.6" width="88.5" height="4.4"/>
<rect class="lt" x="492.0" y="637.0" width="60.0" height="3.6"/>
<path class="lt" d="M498.0 637.0L498.0 640.6"/>
<path class="lt" d="M504.0 637.0L504.0 640.6"/>
<path class="lt" d="M510.0 637.0L510.0 640.6"/>
<path class="lt" d="M516.0 637.0L516.0 640.6"/>
<path class="lt" d="M522.0 637.0L522.0 640.6"/>
<path class="lt" d="M528.0 637.0L528.0 640.6"/>
<path class="lt" d="M534.0 637.0L534.0 640.6"/>
<path class="lt" d="M540.0 637.0L540.0 640.6"/>
<path class="lt" d="M546.0 637.0L546.0 640.6"/>
<path d="M456.31 610.31h2.18M456.31 611.40h2.18M457.40 609.76v2.18M458.91 610.31h2.18M458.91 611.40h2.18M460.00 609.76v2.18M461.51 610.31h2.18M461.51 611.40h2.18M462.60 609.76v2.18" style="stroke:#444;stroke-width:0.40;fill:none"/>
<path d="M456.48 614.07h1.85M456.48 614.99h1.85M457.40 613.61v1.85M458.68 614.07h1.85M458.68 614.99h1.85M459.60 613.61v1.85" style="stroke:#444;stroke-width:0.35;fill:none"/>
<path class="w2" d="M457.4 642.4V650.4M473.5 642.4V650.4"/>
<path class="m" d="M457.4 650Q464.45 649 465.45 643Q466.45 649 473.5 650"/>
<path class="w2" d="M562.6 642.4V650.4M578.6 642.4V650.4"/>
<path class="m" d="M562.6 650Q569.6 649 570.6 643Q571.6 649 578.6 650"/>
<path class="fl" d="M425 596Q432 597 433.5 604M425 604H433.5"/>
<path class="w" d="M434 610Q437 613 434 616"/>
<rect class="wgr" x="636.4" y="553.3" width="6.4" height="6.2"/>
<rect class="wgr" x="636.4" y="563.5" width="6.4" height="6.2"/>
<rect class="wgr" x="655.4" y="553.3" width="6.4" height="6.2"/>
<rect class="wgr" x="655.4" y="563.5" width="6.4" height="6.2"/>
<circle class="fl" cx="649.4" cy="561.8" r="3.9"/>
<rect class="wgr" x="692.0" y="553.3" width="6.4" height="6.2"/>
<rect class="wgr" x="692.0" y="563.5" width="6.4" height="6.2"/>
<rect class="wgr" x="711.0" y="553.3" width="6.4" height="6.2"/>
<rect class="wgr" x="711.0" y="563.5" width="6.4" height="6.2"/>
<circle class="fl" cx="704.5" cy="561.8" r="3.9"/>
<rect class="w" x="673.9" y="560.8" width="5.8" height="7.0"/>
<path class="w" d="M674.5 561.5L679 567M679 561.5L674.5 567"/>
<path class="w" d="M673 579.2H636.5Q623.5 579.2 623.5 592.2V629.4Q623.5 642.4 636.5 642.4H673"/>
<path class="w" d="M681 579.2H718.5Q731.5 579.2 731.5 592.2V629.4Q731.5 642.4 718.5 642.4H681"/>
<path class="m" d="M673.0 579.2L673.0 642.4"/>
<path class="m" d="M681.0 579.2L681.0 642.4"/>
<path class="fl" d="M675.4 585.0L675.4 637.0"/>
<path class="fl" d="M678.6 585.0L678.6 637.0"/>
<rect class="gfl" x="675.0" y="613.0" width="4.0" height="12.0"/>
<path class="lt" d="M664 579.2A8 8 0 0 1 673 587.2"/>
<path class="lt" d="M664 642.4A8 8 0 0 0 673 634.4"/>
<path class="lt" d="M690 579.2A8 8 0 0 0 681 587.2"/>
<path class="lt" d="M690 642.4A8 8 0 0 1 681 634.4"/>
<rect class="w" x="636.5" y="595.0" width="23.8" height="30.6"/>
<rect class="w" x="642.5" y="601.0" width="12.0" height="18.6"/>
<path class="f" d="M636.5 603.0L642.5 603.0"/>
<path class="f" d="M636.5 611.0L642.5 611.0"/>
<path class="f" d="M636.5 619.0L642.5 619.0"/>
<path class="f" d="M654.5 603.0L660.3 603.0"/>
<path class="f" d="M654.5 611.0L660.3 611.0"/>
<path class="f" d="M654.5 619.0L660.3 619.0"/>
<path class="f" d="M642.5 595.0L642.5 601.0"/>
<path class="f" d="M654.5 595.0L654.5 601.0"/>
<path class="f" d="M642.5 619.6L642.5 625.6"/>
<path class="f" d="M654.5 619.6L654.5 625.6"/>
<path class="f" d="M648.5 619.6L648.5 625.6"/>
<rect class="sq" x="631.5" y="596.2" width="4.2" height="4.2"/>
<rect class="sq" x="661.1" y="596.2" width="4.2" height="4.2"/>
<rect class="sq" x="631.5" y="602.4" width="4.2" height="4.2"/>
<rect class="sq" x="661.1" y="602.4" width="4.2" height="4.2"/>
<rect class="sq" x="631.5" y="608.5" width="4.2" height="4.2"/>
<rect class="sq" x="661.1" y="608.5" width="4.2" height="4.2"/>
<rect class="sq" x="631.5" y="614.7" width="4.2" height="4.2"/>
<rect class="sq" x="661.1" y="614.7" width="4.2" height="4.2"/>
<rect class="sq" x="631.5" y="620.8" width="4.2" height="4.2"/>
<rect class="sq" x="661.1" y="620.8" width="4.2" height="4.2"/>
<rect class="sq" x="637.4" y="626.5" width="4.2" height="4.2"/>
<rect class="sq" x="643.4" y="626.5" width="4.2" height="4.2"/>
<rect class="sq" x="649.3" y="626.5" width="4.2" height="4.2"/>
<rect class="sq" x="655.2" y="626.5" width="4.2" height="4.2"/>
<rect class="kgt" x="638.5" y="582.4" width="19.4" height="1.3"/>
<rect class="hz" x="644.5" y="584.0" width="9.0" height="3.2"/>
<path d="M640.81 634.81h2.18M640.81 635.90h2.18M641.90 634.26v2.18M643.41 634.81h2.18M643.41 635.90h2.18M644.50 634.26v2.18M646.01 634.81h2.18M646.01 635.90h2.18M647.10 634.26v2.18" style="stroke:#444;stroke-width:0.40;fill:none"/>
<path d="M638.48 638.17h1.85M638.48 639.09h1.85M639.40 637.71v1.85M640.68 638.17h1.85M640.68 639.09h1.85M641.60 637.71v1.85" style="stroke:#444;stroke-width:0.35;fill:none"/>
<rect class="w" x="693.9" y="595.0" width="23.8" height="30.6"/>
<rect class="w" x="699.9" y="601.0" width="12.0" height="18.6"/>
<path class="f" d="M693.9 603.0L699.9 603.0"/>
<path class="f" d="M693.9 611.0L699.9 611.0"/>
<path class="f" d="M693.9 619.0L699.9 619.0"/>
<path class="f" d="M711.9 603.0L717.7 603.0"/>
<path class="f" d="M711.9 611.0L717.7 611.0"/>
<path class="f" d="M711.9 619.0L717.7 619.0"/>
<path class="f" d="M699.9 595.0L699.9 601.0"/>
<path class="f" d="M711.9 595.0L711.9 601.0"/>
<path class="f" d="M699.9 619.6L699.9 625.6"/>
<path class="f" d="M711.9 619.6L711.9 625.6"/>
<path class="f" d="M705.9 619.6L705.9 625.6"/>
<rect class="sq" x="688.9" y="596.2" width="4.2" height="4.2"/>
<rect class="sq" x="718.5" y="596.2" width="4.2" height="4.2"/>
<rect class="sq" x="688.9" y="602.4" width="4.2" height="4.2"/>
<rect class="sq" x="718.5" y="602.4" width="4.2" height="4.2"/>
<rect class="sq" x="688.9" y="608.5" width="4.2" height="4.2"/>
<rect class="sq" x="718.5" y="608.5" width="4.2" height="4.2"/>
<rect class="sq" x="688.9" y="614.7" width="4.2" height="4.2"/>
<rect class="sq" x="718.5" y="614.7" width="4.2" height="4.2"/>
<rect class="sq" x="688.9" y="620.8" width="4.2" height="4.2"/>
<rect class="sq" x="718.5" y="620.8" width="4.2" height="4.2"/>
<rect class="sq" x="694.8" y="626.5" width="4.2" height="4.2"/>
<rect class="sq" x="700.8" y="626.5" width="4.2" height="4.2"/>
<rect class="sq" x="706.7" y="626.5" width="4.2" height="4.2"/>
<rect class="sq" x="712.6" y="626.5" width="4.2" height="4.2"/>
<rect class="kgt" x="695.9" y="582.4" width="19.4" height="1.3"/>
<rect class="hz" x="701.9" y="584.0" width="9.0" height="3.2"/>
<path d="M698.21 634.81h2.18M698.21 635.90h2.18M699.30 634.26v2.18M700.81 634.81h2.18M700.81 635.90h2.18M701.90 634.26v2.18M703.41 634.81h2.18M703.41 635.90h2.18M704.50 634.26v2.18" style="stroke:#444;stroke-width:0.40;fill:none"/>
<path d="M695.88 638.17h1.85M695.88 639.09h1.85M696.80 637.71v1.85M698.08 638.17h1.85M698.08 639.09h1.85M699.00 637.71v1.85" style="stroke:#444;stroke-width:0.35;fill:none"/>
<path class="w3" d="M662.0 601.2L668.5 601.2"/>
<rect class="w" x="753.7" y="549.7" width="34.9" height="28.4"/>
<rect class="w" x="760.6" y="559.8" width="16.8" height="8.0"/>
<rect class="sq" x="764.0" y="555.6" width="3.2" height="3.0"/>
<rect class="sq" x="764.0" y="569.0" width="3.2" height="3.0"/>
<rect class="sq" x="771.5" y="555.6" width="3.2" height="3.0"/>
<rect class="sq" x="771.5" y="569.0" width="3.2" height="3.0"/>
<path class="m" d="M757 552V577"/>
<path class="fl" d="M781 577.5A7 7 0 0 1 788 570.5"/>
<path class="w2" d="M785.5 570.0L785.5 578.0"/>
<rect class="k" x="753.7" y="552.7" width="5.8" height="8.2"/>
<rect class="k" x="753.7" y="603.0" width="5.2" height="7.0"/>
<path class="w" d="M753.7 594.3H788.6V631.5"/>
<path class="m" d="M756 594.3V618"/>
<circle class="ring" cx="766.0" cy="604.0" r="2.2"/>
<circle class="ring" cx="774.2" cy="604.0" r="2.2"/>
<circle class="ring" cx="766.0" cy="610.9" r="2.2"/>
<circle class="ring" cx="774.2" cy="610.9" r="2.2"/>
<circle class="ring" cx="780.6" cy="610.9" r="2.2"/>
<circle class="ring" cx="766.0" cy="619.5" r="2.2"/>
<circle class="k" cx="766.0" cy="610.9" r="0.9"/>
<circle class="k" cx="774.2" cy="610.9" r="0.9"/>
<rect class="w" x="771.4" y="618.0" width="10.7" height="4.3"/>
<path class="w2" d="M780.5 597H788M784 597V602"/>
<path class="dwall" d="M753.7 594.3V620.2Q754 624.5 758.4 625.6L830.7 641.1Q844 643.5 850 630L862 617V608.3"/>
<path class="dwalli" d="M753.7 594.3V620.2Q754 624.5 758.4 625.6L830.7 641.1Q844 643.5 850 630L862 617V608.3"/>
<path class="kgt" d="M826.5 639.5L833 641.2L829 644Z"/>
<rect class="w" x="804.8" y="551.2" width="31.2" height="56.0"/>
<path class="w" d="M804.8 577.7L836.0 577.7"/>
<path class="fl" d="M833.0 551.0L833.0 607.0"/>
<rect class="w" x="815.0" y="559.2" width="7.0" height="14.8"/>
<path class="w2" d="M818.5 562.2L818.5 570.2"/>
<rect class="sq" x="810.6" y="560.2" width="3.2" height="3.2"/>
<rect class="sq" x="823.4" y="560.2" width="3.2" height="3.2"/>
<rect class="sq" x="810.6" y="565.1" width="3.2" height="3.2"/>
<rect class="sq" x="823.4" y="565.1" width="3.2" height="3.2"/>
<rect class="sq" x="810.6" y="570.0" width="3.2" height="3.2"/>
<rect class="sq" x="823.4" y="570.0" width="3.2" height="3.2"/>
<rect class="w" x="815.0" y="581.4" width="7.0" height="14.8"/>
<path class="w2" d="M818.5 584.4L818.5 592.4"/>
<rect class="sq" x="810.6" y="582.4" width="3.2" height="3.2"/>
<rect class="sq" x="823.4" y="582.4" width="3.2" height="3.2"/>
<rect class="sq" x="810.6" y="587.3" width="3.2" height="3.2"/>
<rect class="sq" x="823.4" y="587.3" width="3.2" height="3.2"/>
<rect class="sq" x="810.6" y="592.2" width="3.2" height="3.2"/>
<rect class="sq" x="823.4" y="592.2" width="3.2" height="3.2"/>
<path class="lt" d="M805 556A6 6 0 0 1 811 551.5M805 612A6 6 0 0 0 811 607.5"/>
<rect class="k" x="833.3" y="552.6" width="5.4" height="8.3"/>
<rect class="k" x="833.3" y="603.0" width="5.4" height="7.1"/>
<rect class="w" x="838.2" y="551.2" width="23.3" height="56.0"/>
<path class="w" d="M838.2 568.4L861.5 568.4"/>
<path class="w" d="M838.2 583.5L861.5 583.5"/>
<rect class="w" x="842.5" y="587.8" width="15.1" height="13.0"/>
<path class="w" d="M842.5 587.8L857.6 600.8"/>
<path class="w" d="M857.6 587.8L842.5 600.8"/>
<rect class="f" x="840.5" y="585.8" width="19.0" height="17.0"/>
<path class="m" d="M860.9 551.0L860.9 607.0"/>
<path class="m" d="M863.0 551.0L863.0 607.0"/>
<path d="M840.79 554.44h2.02M840.79 555.45h2.02M841.80 553.94v2.02M843.19 554.44h2.02M843.19 555.45h2.02M844.20 553.94v2.02" style="stroke:#444;stroke-width:0.37;fill:none"/>
<path d="M840.79 569.94h2.02M840.79 570.95h2.02M841.80 569.44v2.02M843.19 569.94h2.02M843.19 570.95h2.02M844.20 569.44v2.02" style="stroke:#444;stroke-width:0.37;fill:none"/>
<path class="w" d="M804.8 607.2L804.8 636.0"/>
<path class="w" d="M804.8 609.5L862.0 609.5"/>
<path class="w" d="M822 619.5Q816.6 619.5 816.6 624.5Q816.6 630 822 630.5L842 631Q848 631 848 625.5L846.5 621Q845 617.8 841 617.8Z"/>
<circle class="w" cx="822.7" cy="617.0" r="1.9"/>
<circle class="w" cx="831.3" cy="616.5" r="1.9"/>
<circle class="w" cx="840.4" cy="616.0" r="1.9"/>
<circle class="w" cx="846.8" cy="628.2" r="1.9"/>
<circle class="w" cx="819.9" cy="631.0" r="1.9"/>
<circle class="w" cx="828.5" cy="633.2" r="1.9"/>
<circle class="w" cx="838.2" cy="634.2" r="1.9"/>
<path d="M813.59 611.44h2.02M813.59 612.45h2.02M814.60 610.94v2.02M815.99 611.44h2.02M815.99 612.45h2.02M817.00 610.94v2.02M818.39 611.44h2.02M818.39 612.45h2.02M819.40 610.94v2.02" style="stroke:#444;stroke-width:0.37;fill:none"/>
<path class="w2" d="M890.0 568.4L896.4 568.4L896.4 607.2"/>
<path class="w" d="M890.0 554.0L897.0 554.0"/>
<path class="lt" d="M890 563A8 8 0 0 1 897 556"/>
<rect class="fl" x="896.9" y="573.8" width="14.6" height="19.4"/>
<path class="fl" d="M896.9 575.6L911.5 575.6"/>
<path class="fl" d="M896.9 577.7L911.5 577.7"/>
<path class="fl" d="M896.9 579.8L911.5 579.8"/>
<path class="fl" d="M896.9 581.9L911.5 581.9"/>
<path class="fl" d="M896.9 584.0L911.5 584.0"/>
<path class="fl" d="M896.9 586.1L911.5 586.1"/>
<path class="fl" d="M896.9 588.2L911.5 588.2"/>
<path class="fl" d="M896.9 590.3L911.5 590.3"/>
<path class="fl" d="M896.9 592.4L911.5 592.4"/>
<path class="w" d="M911.5 573.8H923.4L911.5 584.6Z"/>
<path class="w" d="M911.5 573.8L911.5 593.0"/>
<path class="f" d="M917.5 568.0L917.5 574.0"/>
<rect class="k" x="895.4" y="605.1" width="5.8" height="5.4"/>
<rect class="k" x="920.2" y="552.7" width="6.4" height="8.2"/>
<rect class="k" x="920.6" y="603.0" width="6.0" height="7.5"/>
<path class="w" d="M921.8 549.7L921.8 632.0"/>
<path class="fl" d="M924.8 551.0L924.8 632.0"/>
<path class="w" d="M927.4 549.7L927.4 632.0"/>
<path class="wl" d="M895.4 610.5H927V632.5L923.9 635.6L895.4 623Z"/>
<path class="f" d="M897.5 612.5V621.8L923.5 633"/>
<path d="M906.59 615.94h2.02M906.59 616.95h2.02M907.60 615.44v2.02M908.99 615.94h2.02M908.99 616.95h2.02M910.00 615.44v2.02M911.39 615.94h2.02M911.39 616.95h2.02M912.40 615.44v2.02" style="stroke:#444;stroke-width:0.37;fill:none"/>
<path class="w2" d="M915 627L917 631.5"/>
<rect class="lt" x="889.5" y="609.0" width="3.0" height="8.0"/>
<path d="M868.19 587.44h2.02M868.19 588.45h2.02M869.20 586.94v2.02M870.59 587.44h2.02M870.59 588.45h2.02M871.60 586.94v2.02M872.99 587.44h2.02M872.99 588.45h2.02M874.00 586.94v2.02M875.39 587.44h2.02M875.39 588.45h2.02M876.40 586.94v2.02M877.79 587.44h2.02M877.79 588.45h2.02M878.80 586.94v2.02" style="stroke:#444;stroke-width:0.37;fill:none"/>
<path d="M928.61 580.31h2.18M928.61 581.40h2.18M929.70 579.76v2.18M931.21 580.31h2.18M931.21 581.40h2.18M932.30 579.76v2.18" style="stroke:#444;stroke-width:0.40;fill:none"/>
<rect class="lt" x="864.0" y="613.0" width="3.3" height="14.3"/>
<rect class="lt" x="877.5" y="613.0" width="3.3" height="14.3"/>
<rect class="lt" x="890.4" y="613.0" width="3.3" height="14.3"/>
<path class="lt" d="M867.3 620.2L890.4 620.2"/>
<path class="w" d="M457.4 664.4V659.6H563.1V664.4"/>
<path class="m" d="M457.4 661.2L563.1 661.2"/>
<path class="w" d="M457.4 664.4L563.1 664.4"/>
<path class="w" d="M620.3 664.4V659.6H638.6V664.4"/>
<path class="m" d="M620.3 661.2L638.6 661.2"/>
<path class="w" d="M620.3 664.4L638.6 664.4"/>
<path class="w" d="M657 664.4V659.6H753.7V664.4"/>
<path class="m" d="M657.0 661.2L753.7 661.2"/>
<path class="w" d="M657.0 664.4L753.7 664.4"/>
<path class="w" d="M576 664.4V662L607.3 659.6V664.4Z"/>
<path class="k" d="M548 661.5L553.5 660V663Z"/>
<path class="k" d="M716 661.5L721.5 660V663Z"/>
<path class="lt" d="M445.5 664A11.899999999999977 11.899999999999977 0 0 1 457.4 654.5"/>
<path class="w2" d="M445.5 655.0L445.5 664.4"/>
<path class="w2" d="M457.4 655.0L457.4 664.4"/>
<path class="lt" d="M565.3 664A10.700000000000045 10.700000000000045 0 0 1 576 654.5"/>
<path class="w2" d="M565.3 655.0L565.3 664.4"/>
<path class="w2" d="M576.0 655.0L576.0 664.4"/>
<path class="lt" d="M607.3 664A11.700000000000045 11.700000000000045 0 0 1 619 654.5"/>
<path class="w2" d="M607.3 655.0L607.3 664.4"/>
<path class="w2" d="M619.0 655.0L619.0 664.4"/>
<path class="lt" d="M638.6 664A9 9 0 0 1 647.6 655M657 664A9 9 0 0 0 648 655"/>
<path class="w2" d="M638.6 655.0L638.6 664.4"/>
<path class="w2" d="M657.0 655.0L657.0 664.4"/>
<path class="w2" d="M433.6 659.0L433.6 718.4"/>
<path class="f" d="M436.0 660.0L436.0 716.5"/>
<path class="m" d="M438.0 664.4L438.0 716.0"/>
<path class="w2" d="M433.6 659.0L445.5 659.0"/>
<rect class="k" x="432.8" y="666.0" width="1.8" height="3.2"/>
<rect class="k" x="432.8" y="671.8" width="1.8" height="3.2"/>
<rect class="k" x="432.8" y="677.6" width="1.8" height="3.2"/>
<rect class="k" x="432.8" y="683.4" width="1.8" height="3.2"/>
<rect class="k" x="432.8" y="689.2" width="1.8" height="3.2"/>
<rect class="k" x="432.8" y="695.0" width="1.8" height="3.2"/>
<rect class="k" x="432.8" y="700.8" width="1.8" height="3.2"/>
<rect class="k" x="432.8" y="706.6" width="1.8" height="3.2"/>
<rect class="k" x="432.8" y="712.4" width="1.8" height="3.2"/>
<path class="w3" d="M425.0 665.0L433.6 665.0"/>
<path class="fl" d="M426 666Q428 672 433 673"/>
<path class="w3" d="M433.6 718.3L787.5 718.3"/>
<path class="w" d="M436.0 716.2L787.5 716.2"/>
<rect class="lt" x="441.0" y="717.2" width="5.0" height="1.3"/>
<rect class="lt" x="448.6" y="717.2" width="5.0" height="1.3"/>
<rect class="lt" x="456.3" y="717.2" width="5.0" height="1.3"/>
<rect class="lt" x="463.9" y="717.2" width="5.0" height="1.3"/>
<rect class="lt" x="471.6" y="717.2" width="5.0" height="1.3"/>
<rect class="lt" x="479.2" y="717.2" width="5.0" height="1.3"/>
<rect class="lt" x="486.9" y="717.2" width="5.0" height="1.3"/>
<rect class="lt" x="494.6" y="717.2" width="5.0" height="1.3"/>
<rect class="lt" x="502.2" y="717.2" width="5.0" height="1.3"/>
<rect class="lt" x="509.9" y="717.2" width="5.0" height="1.3"/>
<rect class="lt" x="517.5" y="717.2" width="5.0" height="1.3"/>
<rect class="lt" x="525.1" y="717.2" width="5.0" height="1.3"/>
<rect class="lt" x="532.8" y="717.2" width="5.0" height="1.3"/>
<rect class="lt" x="540.5" y="717.2" width="5.0" height="1.3"/>
<rect class="lt" x="548.1" y="717.2" width="5.0" height="1.3"/>
<rect class="lt" x="555.8" y="717.2" width="5.0" height="1.3"/>
<rect class="lt" x="563.4" y="717.2" width="5.0" height="1.3"/>
<rect class="lt" x="571.0" y="717.2" width="5.0" height="1.3"/>
<rect class="lt" x="578.7" y="717.2" width="5.0" height="1.3"/>
<rect class="lt" x="586.4" y="717.2" width="5.0" height="1.3"/>
<rect class="lt" x="594.0" y="717.2" width="5.0" height="1.3"/>
<rect class="lt" x="601.6" y="717.2" width="5.0" height="1.3"/>
<rect class="lt" x="609.3" y="717.2" width="5.0" height="1.3"/>
<rect class="lt" x="617.0" y="717.2" width="5.0" height="1.3"/>
<rect class="lt" x="624.6" y="717.2" width="5.0" height="1.3"/>
<rect class="lt" x="632.2" y="717.2" width="5.0" height="1.3"/>
<rect class="lt" x="639.9" y="717.2" width="5.0" height="1.3"/>
<rect class="lt" x="647.5" y="717.2" width="5.0" height="1.3"/>
<rect class="lt" x="655.2" y="717.2" width="5.0" height="1.3"/>
<rect class="lt" x="662.9" y="717.2" width="5.0" height="1.3"/>
<rect class="lt" x="670.5" y="717.2" width="5.0" height="1.3"/>
<rect class="lt" x="678.1" y="717.2" width="5.0" height="1.3"/>
<rect class="lt" x="685.8" y="717.2" width="5.0" height="1.3"/>
<rect class="lt" x="693.5" y="717.2" width="5.0" height="1.3"/>
<rect class="lt" x="701.1" y="717.2" width="5.0" height="1.3"/>
<rect class="lt" x="708.8" y="717.2" width="5.0" height="1.3"/>
<rect class="lt" x="716.4" y="717.2" width="5.0" height="1.3"/>
<rect class="lt" x="724.0" y="717.2" width="5.0" height="1.3"/>
<rect class="lt" x="731.7" y="717.2" width="5.0" height="1.3"/>
<rect class="lt" x="739.4" y="717.2" width="5.0" height="1.3"/>
<rect class="lt" x="747.0" y="717.2" width="5.0" height="1.3"/>
<rect class="lt" x="754.7" y="717.2" width="5.0" height="1.3"/>
<rect class="lt" x="762.3" y="717.2" width="5.0" height="1.3"/>
<rect class="lt" x="770.0" y="717.2" width="5.0" height="1.3"/>
<rect class="lt" x="777.6" y="717.2" width="5.0" height="1.3"/>
<rect class="k" x="753.8" y="681.6" width="5.6" height="8.3"/>
<rect class="k" x="833.2" y="681.6" width="5.6" height="8.3"/>
<path class="m" d="M584.2 664.4L584.2 716.0"/>
<path class="m" d="M630.0 664.4L630.0 716.0"/>
<rect class="hz" x="663.4" y="668.3" width="7.6" height="4.3"/>
<rect class="hz" x="681.5" y="668.3" width="7.6" height="4.3"/>
<rect class="hz" x="426.9" y="668.3" width="7.6" height="4.3"/>
<rect class="hz" x="442.5" y="668.3" width="7.6" height="4.3"/>
<path d="M490.89 691.44h2.02M490.89 692.45h2.02M491.90 690.94v2.02M493.29 691.44h2.02M493.29 692.45h2.02M494.30 690.94v2.02M495.69 691.44h2.02M495.69 692.45h2.02M496.70 690.94v2.02M498.09 691.44h2.02M498.09 692.45h2.02M499.10 690.94v2.02M500.49 691.44h2.02M500.49 692.45h2.02M501.50 690.94v2.02M502.89 691.44h2.02M502.89 692.45h2.02M503.90 690.94v2.02M505.29 691.44h2.02M505.29 692.45h2.02M506.30 690.94v2.02M507.69 691.44h2.02M507.69 692.45h2.02M508.70 690.94v2.02M510.09 691.44h2.02M510.09 692.45h2.02M511.10 690.94v2.02M512.49 691.44h2.02M512.49 692.45h2.02M513.50 690.94v2.02" style="stroke:#444;stroke-width:0.37;fill:none"/>
<path d="M498.48 694.77h1.85M498.48 695.69h1.85M499.40 694.31v1.85M500.68 694.77h1.85M500.68 695.69h1.85M501.60 694.31v1.85M502.88 694.77h1.85M502.88 695.69h1.85M503.80 694.31v1.85M505.08 694.77h1.85M505.08 695.69h1.85M506.00 694.31v1.85" style="stroke:#444;stroke-width:0.35;fill:none"/>
<path d="M592.19 691.44h2.02M592.19 692.45h2.02M593.20 690.94v2.02M594.59 691.44h2.02M594.59 692.45h2.02M595.60 690.94v2.02M596.99 691.44h2.02M596.99 692.45h2.02M598.00 690.94v2.02M599.39 691.44h2.02M599.39 692.45h2.02M600.40 690.94v2.02M601.79 691.44h2.02M601.79 692.45h2.02M602.80 690.94v2.02M604.19 691.44h2.02M604.19 692.45h2.02M605.20 690.94v2.02M606.59 691.44h2.02M606.59 692.45h2.02M607.60 690.94v2.02M608.99 691.44h2.02M608.99 692.45h2.02M610.00 690.94v2.02M611.39 691.44h2.02M611.39 692.45h2.02M612.40 690.94v2.02M613.79 691.44h2.02M613.79 692.45h2.02M614.80 690.94v2.02" style="stroke:#444;stroke-width:0.37;fill:none"/>
<path d="M599.78 694.77h1.85M599.78 695.69h1.85M600.70 694.31v1.85M601.98 694.77h1.85M601.98 695.69h1.85M602.90 694.31v1.85M604.18 694.77h1.85M604.18 695.69h1.85M605.10 694.31v1.85M606.38 694.77h1.85M606.38 695.69h1.85M607.30 694.31v1.85" style="stroke:#444;stroke-width:0.35;fill:none"/>
<path d="M688.19 691.44h2.02M688.19 692.45h2.02M689.20 690.94v2.02M690.59 691.44h2.02M690.59 692.45h2.02M691.60 690.94v2.02M692.99 691.44h2.02M692.99 692.45h2.02M694.00 690.94v2.02M695.39 691.44h2.02M695.39 692.45h2.02M696.40 690.94v2.02M697.79 691.44h2.02M697.79 692.45h2.02M698.80 690.94v2.02M700.19 691.44h2.02M700.19 692.45h2.02M701.20 690.94v2.02M702.59 691.44h2.02M702.59 692.45h2.02M703.60 690.94v2.02M704.99 691.44h2.02M704.99 692.45h2.02M706.00 690.94v2.02M707.39 691.44h2.02M707.39 692.45h2.02M708.40 690.94v2.02M709.79 691.44h2.02M709.79 692.45h2.02M710.80 690.94v2.02" style="stroke:#444;stroke-width:0.37;fill:none"/>
<path d="M695.78 694.77h1.85M695.78 695.69h1.85M696.70 694.31v1.85M697.98 694.77h1.85M697.98 695.69h1.85M698.90 694.31v1.85M700.18 694.77h1.85M700.18 695.69h1.85M701.10 694.31v1.85M702.38 694.77h1.85M702.38 695.69h1.85M703.30 694.31v1.85" style="stroke:#444;stroke-width:0.35;fill:none"/>
<rect class="gfl" x="753.7" y="662.2" width="5.2" height="56.0"/>
<path class="w" d="M753.7 662.0L753.7 718.0"/>
<path class="m" d="M758.9 662.0L758.9 716.0"/>
<rect class="k" x="753.8" y="681.6" width="5.6" height="8.3"/>
<path class="wl" d="M758.4 660.5L788.6 660.5"/>
<path class="m" d="M758.4 662.5L788.6 662.5"/>
<path class="wl" d="M803.7 716V660.5H826Q831 660.5 834 665L836 668"/>
<path class="m" d="M806.0 662.8L828.0 662.8"/>
<path class="w" d="M787.5 660.5L787.5 714.0"/>
<path class="w2" d="M759.5 682.7L787.5 682.7"/>
<path class="w" d="M771.4 684.0L771.4 714.0"/>
<path class="w" d="M759.5 691.5L771.4 691.5"/>
<rect class="fl" x="760.5" y="686.5" width="4.0" height="3.0"/>
<path class="w" d="M759.5 698.8L771.4 698.8"/>
<rect class="fl" x="760.5" y="693.8" width="4.0" height="3.0"/>
<path class="w" d="M759.5 706.0L771.4 706.0"/>
<rect class="fl" x="760.5" y="701.0" width="4.0" height="3.0"/>
<path class="w" d="M759.5 714.0L771.4 714.0"/>
<rect class="fl" x="760.5" y="709.0" width="4.0" height="3.0"/>
<path d="M768.59 668.44h2.02M768.59 669.45h2.02M769.60 667.94v2.02M770.99 668.44h2.02M770.99 669.45h2.02M772.00 667.94v2.02M773.39 668.44h2.02M773.39 669.45h2.02M774.40 667.94v2.02" style="stroke:#444;stroke-width:0.37;fill:none"/>
<rect class="w" x="777.0" y="675.0" width="8.0" height="5.0"/>
<rect class="kgt" x="779.0" y="676.5" width="4.0" height="2.5"/>
<rect class="fl" x="760.5" y="673.0" width="5.0" height="4.0"/>
<path class="lt" d="M762 664Q772 660 780 664"/>
<path d="M774.79 688.44h2.02M774.79 689.45h2.02M775.80 687.94v2.02M777.19 688.44h2.02M777.19 689.45h2.02M778.20 687.94v2.02" style="stroke:#444;stroke-width:0.37;fill:none"/>
<rect class="w" x="781.0" y="696.0" width="3.6" height="17.0"/>
<rect class="kgt" x="782.0" y="699.0" width="1.8" height="11.0"/>
<path class="w" d="M787.5 664.0L797.0 664.0"/>
<path class="m" d="M797.0 664.0L797.0 690.0"/>
<rect class="w" x="790.0" y="693.0" width="8.0" height="7.0"/>
<rect class="w" x="788.0" y="701.0" width="9.0" height="12.0"/>
<path class="f" d="M788.0 707.0L797.0 707.0"/>
<rect class="f" x="799.0" y="698.0" width="4.0" height="8.0"/>
<rect class="hz" x="792.0" y="666.0" width="9.0" height="4.0"/>
<rect class="w" x="803.7" y="662.2" width="30.2" height="19.3"/>
<rect class="f" x="810.0" y="663.0" width="18.0" height="4.0"/>
<path class="f" d="M816.0 663.0L816.0 667.0"/>
<path class="f" d="M822.0 663.0L822.0 667.0"/>
<path class="w2" d="M803.7 681.5L820.0 681.5"/>
<rect class="w" x="820.5" y="684.0" width="13.0" height="30.0"/>
<path class="w" d="M820.5 691.0L833.5 691.0"/>
<rect class="fl" x="823.0" y="685.8" width="7.0" height="3.0"/>
<path class="w" d="M820.5 698.0L833.5 698.0"/>
<rect class="fl" x="823.0" y="692.8" width="7.0" height="3.0"/>
<path class="w" d="M820.5 705.0L833.5 705.0"/>
<rect class="fl" x="823.0" y="699.8" width="7.0" height="3.0"/>
<rect class="w" x="806.0" y="687.0" width="4.0" height="14.0"/>
<rect class="kgt" x="807.0" y="689.0" width="2.0" height="10.0"/>
<path d="M812.79 681.94h2.02M812.79 682.95h2.02M813.80 681.44v2.02M815.19 681.94h2.02M815.19 682.95h2.02M816.20 681.44v2.02" style="stroke:#444;stroke-width:0.37;fill:none"/>
<rect class="w" x="801.0" y="703.0" width="11.0" height="10.0"/>
<path class="f" d="M801.0 708.0L812.0 708.0"/>
<rect class="fl" x="803.0" y="704.5" width="4.0" height="3.0"/>
<path d="M838.88 690.57h1.85M838.88 691.49h1.85M839.80 690.11v1.85M841.08 690.57h1.85M841.08 691.49h1.85M842.00 690.11v1.85M843.28 690.57h1.85M843.28 691.49h1.85M844.20 690.11v1.85" style="stroke:#444;stroke-width:0.35;fill:none"/>
<path class="w" d="M838.6 684.0L838.6 712.0"/>
<path class="w2" d="M838.6 690.0L852.0 686.0"/>
<path class="w2" d="M787.5 718.3L926.6 693.5"/>
<path class="w" d="M803.7 714L926.6 690.3"/>
<path class="f" d="M806 710.5L926 687"/>
<path class="lt" d="M808.0 713.4l6 -1.15"/>
<path class="lt" d="M817.3 711.6l6 -1.15"/>
<path class="lt" d="M826.7 709.8l6 -1.15"/>
<path class="lt" d="M836.0 708.0l6 -1.15"/>
<path class="lt" d="M845.3 706.2l6 -1.15"/>
<path class="lt" d="M854.7 704.4l6 -1.15"/>
<path class="lt" d="M864.0 702.6l6 -1.15"/>
<path class="lt" d="M873.3 700.8l6 -1.15"/>
<path class="lt" d="M882.7 699.0l6 -1.15"/>
<path class="lt" d="M892.0 697.2l6 -1.15"/>
<path class="lt" d="M901.3 695.4l6 -1.15"/>
<path class="lt" d="M910.7 693.6l6 -1.15"/>
<path class="m" d="M836 660.5H870.5L887 683.5L882.5 670L915.8 661.2L926.6 659.6"/>
<path class="wlg2" d="M836 664.6L855.5 701.2Q858 704 863 703L913.7 689.2Q918 687.5 918 683V668.7Q917 664.5 913.7 664.5L903 667.5"/>
<path class="fl" d="M838 668L856.5 699Q859 701.5 863 700.6L912 687.5"/>
<circle class="w" cx="909.4" cy="674.1" r="2.1"/>
<circle class="w" cx="908.3" cy="682.7" r="2.1"/>
<circle class="w" cx="900.3" cy="684.9" r="2.1"/>
<rect class="kgt" x="902.5" y="667.0" width="1.6" height="4.0"/>
<path class="w2" d="M838 689L852 683"/>
<path class="lt" d="M843 671L850 683L846 685L839 673Z"/>
<path d="M856.09 677.44h2.02M856.09 678.45h2.02M857.10 676.94v2.02M858.49 677.44h2.02M858.49 678.45h2.02M859.50 676.94v2.02M860.89 677.44h2.02M860.89 678.45h2.02M861.90 676.94v2.02" style="stroke:#444;stroke-width:0.37;fill:none"/>
<rect class="lt" x="862.0" y="697.5" width="5.0" height="2.4"/>
<rect class="lt" x="870.0" y="695.5" width="5.0" height="2.4"/>
<rect class="lt" x="878.0" y="693.4" width="5.0" height="2.4"/>
<rect class="lt" x="886.0" y="691.4" width="5.0" height="2.4"/>
<rect class="lt" x="894.0" y="689.3" width="5.0" height="2.4"/>
<rect class="lt" x="902.0" y="687.2" width="5.0" height="2.4"/>
<rect class="lt" x="910.0" y="685.2" width="5.0" height="2.4"/>
<rect class="k" x="920.6" y="663.2" width="6.0" height="8.7"/>
<rect class="k" x="920.6" y="681.6" width="6.0" height="8.2"/>
<rect class="gfl" x="920.6" y="672.0" width="6.0" height="9.6"/>
<path class="w" d="M920.6 659.6L920.6 692.0"/>
<path class="w2" d="M926.6 659.6L926.6 694.0"/>
<rect class="hz" x="460.9" y="738.5" width="7.6" height="4.0"/>
<rect class="hz" x="567.2" y="738.5" width="7.6" height="4.0"/>
<rect class="hz" x="660.2" y="738.5" width="7.6" height="4.0"/>
<rect class="hz" x="682.2" y="738.5" width="7.6" height="4.0"/>
<rect class="hz" x="790.2" y="762.4" width="7.6" height="4.0"/>
<rect class="hz" x="805.2" y="762.4" width="7.6" height="4.0"/>
<rect class="hz" x="779.9" y="780.7" width="7.6" height="4.0"/>
<rect class="hz" x="794.9" y="780.7" width="7.6" height="4.0"/>
<rect class="hz" x="850.2" y="780.7" width="7.6" height="4.0"/>
<rect class="hz" x="907.2" y="725.5" width="7.6" height="4" transform="rotate(25 911 727.5)"/>
<rect class="hz" x="1065.5" y="770" width="7.6" height="4" transform="rotate(0 1069.3 772)"/>
<path class="k" d="M806.7 714.6L819.4 712.3V709.8L806.7 712Z"/>
</svg></body></html>
